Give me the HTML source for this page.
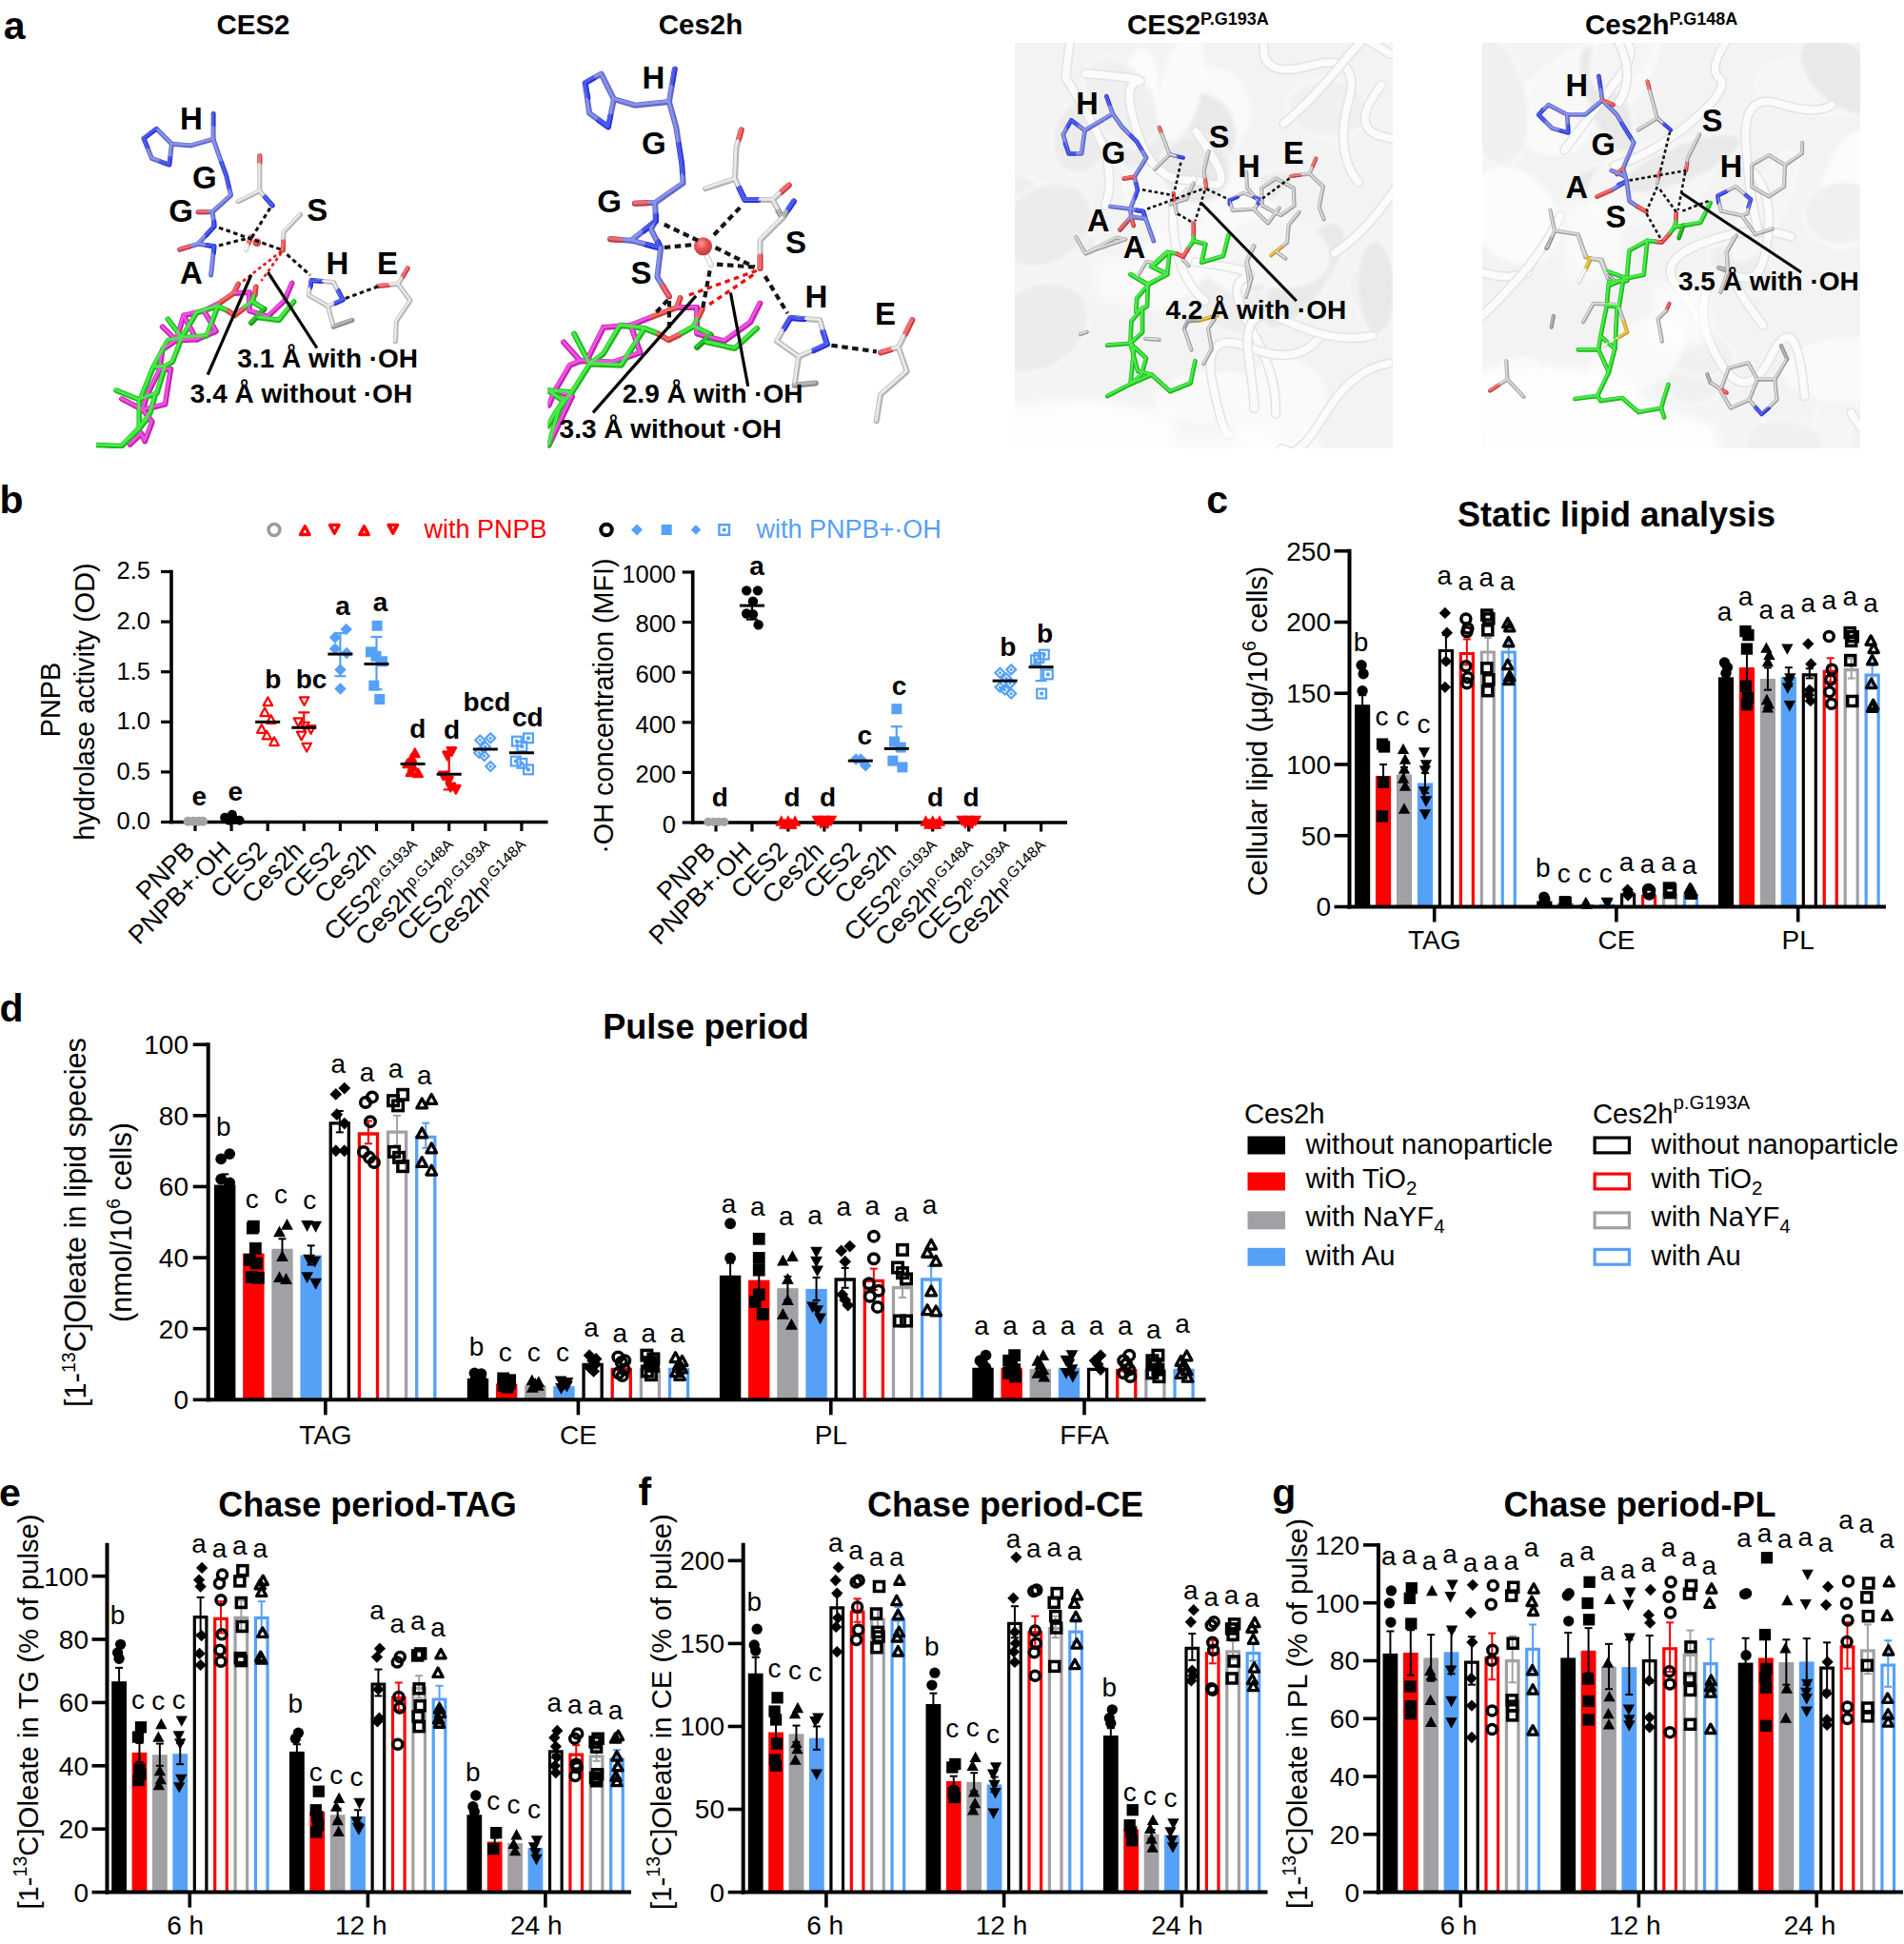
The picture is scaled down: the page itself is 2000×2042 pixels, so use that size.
<!DOCTYPE html>
<html lang="en"><head><meta charset="utf-8"><title>Figure</title>
<style>
html,body{margin:0;padding:0;background:#fff;}
body{width:2000px;height:2042px;overflow:hidden;}
svg{display:block;font-family:'Liberation Sans', Arial, sans-serif;}
</style></head><body>
<svg width="2000" height="2042" viewBox="0 0 2000 2042">
<rect x="0" y="0" width="2000" height="2042" fill="#ffffff"/>
<defs>
<radialGradient id="sph" cx="40%" cy="35%" r="65%"><stop offset="0" stop-color="#ff9a9a"/><stop offset="0.45" stop-color="#e85656"/><stop offset="1" stop-color="#c23a3a"/></radialGradient>
<filter id="soft" x="-20%" y="-20%" width="140%" height="140%"><feGaussianBlur stdDeviation="2.2"/></filter>
<filter id="soft2" x="-20%" y="-20%" width="140%" height="140%"><feGaussianBlur stdDeviation="7"/></filter>
</defs>
<text x="3.7" y="41" font-size="41" font-weight="bold" text-anchor="start" fill="#000000" >a</text>
<text x="266" y="36" font-size="29.5" font-weight="bold" text-anchor="middle" fill="#000000" >CES2</text>
<text x="736" y="36" font-size="29.5" font-weight="bold" text-anchor="middle" fill="#000000" >Ces2h</text>
<text x="1184" y="36" font-size="29.5" font-weight="bold" text-anchor="start" fill="#000000" >CES2<tspan font-size="18" dy="-10.3">P.G193A</tspan><tspan dy="10.3" font-size="1">&#8203;</tspan></text>
<text x="1665" y="36" font-size="29.5" font-weight="bold" text-anchor="start" fill="#000000" >Ces2h<tspan font-size="18" dy="-10.3">P.G148A</tspan><tspan dy="10.3" font-size="1">&#8203;</tspan></text>
<clipPath id="cs1"><rect x="101" y="40" width="420" height="431"/></clipPath>
<clipPath id="cs2"><rect x="575.5" y="40" width="440" height="431"/></clipPath>
<g fill="none" stroke-linecap="round" stroke-linejoin="round" clip-path="url(#cs1)">
<path d="M245.46 308.18 L261.98 307.21 L261.98 326.64 L281.41 332.47 L298.9 315.95 L306.67 297.49" stroke="#c024b1" stroke-width="5.7"/>
<path d="M192.99 331.5 L214.37 326.64 L227 348.01 L206.6 356.76 L192.99 331.5" stroke="#c024b1" stroke-width="5.7"/>
<path d="M170.65 343.16 L185.22 357.73 L170.65 367.45 L167.73 388.82" stroke="#c024b1" stroke-width="5.7"/>
<path d="M192.99 331.5 L185.22 357.73" stroke="#c024b1" stroke-width="5.7"/>
<path d="M206.6 356.76 L185.22 357.73" stroke="#c024b1" stroke-width="5.7"/>
<path d="M179.39 387.85 L173.56 424.77 L150.24 430.6 L127.89 418.94" stroke="#c024b1" stroke-width="5.7"/>
<path d="M167.73 388.82 L179.39 387.85" stroke="#c024b1" stroke-width="5.7"/>
<path d="M150.24 430.6 L159.96 443.23 L152.18 463.64 L148.3 454.89" stroke="#c024b1" stroke-width="5.7"/>
<path d="M136.64 466.94 L148.3 455.86" stroke="#c024b1" stroke-width="5.7"/>
<path d="M167.73 388.82 L154.13 416.03 L150.24 430.6" stroke="#c024b1" stroke-width="5.7"/>
<path d="M229.91 318.87 L214.37 326.64" stroke="#c024b1" stroke-width="5.7"/>
<path d="M245.46 308.18 L229.91 318.87" stroke="#d23a3a" stroke-width="5.7"/>
<path d="M245.46 308.18 L250.32 298.46" stroke="#d23a3a" stroke-width="5.7"/>
<path d="M101.66 467.52 L127.89 468.5 L146.35 451.01 L146.35 419.91 L122.06 410.2" stroke="#1fb71f" stroke-width="5.7"/>
<path d="M146.35 419.91 L164.82 413.11 L173.56 384.94 L160.93 385.91 L147.33 419.91" stroke="#1fb71f" stroke-width="5.7"/>
<path d="M173.56 384.94 L181.33 380.08 L191.05 354.82" stroke="#1fb71f" stroke-width="5.7"/>
<path d="M160.93 385.91 L176.47 357.73 L191.05 354.82" stroke="#1fb71f" stroke-width="5.7"/>
<path d="M191.05 354.82 L217.28 352.87 L228.94 321.78 L206.6 328.58 L191.05 354.82" stroke="#1fb71f" stroke-width="5.7"/>
<path d="M191.05 354.82 L176.47 335.38" stroke="#1fb71f" stroke-width="5.7"/>
<path d="M228.94 321.78 L239.63 326.64" stroke="#1fb71f" stroke-width="5.7"/>
<path d="M255.18 324.69 L264.89 316.92" stroke="#1fb71f" stroke-width="5.7"/>
<path d="M264.89 316.92 L277.52 324.69" stroke="#1fb71f" stroke-width="5.7"/>
<path d="M270.72 333.44 L293.07 336.35 L308.62 316.92" stroke="#1fb71f" stroke-width="5.7"/>
<path d="M146.35 451.01 L158.01 433.52 L162.87 416.03" stroke="#1fb71f" stroke-width="5.7"/>
<path d="M127.89 468.5 L154.13 441.29" stroke="#1fb71f" stroke-width="5.7"/>
<path d="M277.52 324.69 L263.92 339.27" stroke="#189a18" stroke-width="5.7"/>
<path d="M239.63 326.64 L246.43 331.5 L255.18 324.69" stroke="#d23a3a" stroke-width="5.7"/>
<path d="M264.89 316.92 L267.81 309.15" stroke="#1fb71f" stroke-width="5.7"/>
<path d="M267.81 309.15 L268.78 301.38" stroke="#d23a3a" stroke-width="5.7"/>
<path d="M327.08 294.57 L350.4 296.52 L360.11 314.98 L344.57 321.78 L324.16 310.12 L327.08 294.57" stroke="#b4b4b4" stroke-width="5"/>
<path d="M344.57 321.78 L350.4 343.16" stroke="#b4b4b4" stroke-width="5"/>
<path d="M350.4 343.16 L369.83 336.35" stroke="#8a8a8a" stroke-width="5"/>
<path d="M326.11 301.38 L327.08 294.57 L337.77 295.55" stroke="#2530d6" stroke-width="5"/>
<path d="M355.25 305.26 L360.11 314.98 L352.34 318.48" stroke="#2530d6" stroke-width="5"/>
<path d="M428.13 281.94 L418.41 298.46 L431.04 315.95 L416.47 337.33 L415.5 358.7" stroke="#b4b4b4" stroke-width="5"/>
<path d="M418.41 298.46 L397.03 300.4" stroke="#b4b4b4" stroke-width="5"/>
<path d="M407.72 299.43 L397.03 300.4" stroke="#d23a3a" stroke-width="5"/>
<path d="M423.27 290.2 L428.13 281.94" stroke="#d23a3a" stroke-width="5"/>
<path d="M151.01 145.38 L164.45 135.29 L180.42 151.26 L177.9 173.11 L159.41 166.39 L151.01 145.38" stroke="#5f69c9" stroke-width="5"/>
<path d="M164.45 135.29 L151.01 145.38 L155.21 155.46" stroke="#2530d6" stroke-width="4.5"/>
<path d="M178.74 165.55 L177.9 173.11 L168.66 169.75" stroke="#2530d6" stroke-width="4.5"/>
<path d="M180.42 151.26 L200.59 152.94 L224.12 146.22 L230.84 165.55 L237.56 184.03 L242.61 205.04 L223.28 222.69 L224.96 237.82" stroke="#5f69c9" stroke-width="5"/>
<path d="M224.12 119.33 L224.12 146.22" stroke="#5f69c9" stroke-width="5"/>
<path d="M224.12 119.33 L224.12 131.93" stroke="#2530d6" stroke-width="4.25"/>
<path d="M232.52 170.59 L237.56 184.03 L240.92 198.32" stroke="#2530d6" stroke-width="4.25"/>
<path d="M223.28 222.69 L208.15 222.69" stroke="#5f69c9" stroke-width="5"/>
<path d="M217.23 222.69 L208.15 222.69" stroke="#d23a3a" stroke-width="5"/>
<path d="M224.96 237.82 L208.15 256.3 L224.96 258.82 L221.6 289.08" stroke="#5f69c9" stroke-width="5"/>
<path d="M224.96 232.77 L224.96 237.82 L216.55 247.06" stroke="#2530d6" stroke-width="5"/>
<path d="M217.39 257.65 L224.96 258.82 L224.45 265.55" stroke="#2530d6" stroke-width="5"/>
<path d="M208.15 256.3 L188.82 262.18" stroke="#5f69c9" stroke-width="5"/>
<path d="M199.45 258.95 L188.82 262.18" stroke="#d23a3a" stroke-width="5"/>
<path d="M272.86 163.87 L272.86 200.84 L250.17 211.76" stroke="#b4b4b4" stroke-width="5"/>
<path d="M272.86 170.59 L272.86 163.87" stroke="#d23a3a" stroke-width="5"/>
<path d="M272.86 200.84 L286.3 215.97" stroke="#b4b4b4" stroke-width="5"/>
<path d="M278.24 206.89 L286.3 215.97" stroke="#2530d6" stroke-width="5"/>
<path d="M315.71 225.21 L298.07 243.7 L297.23 263.03" stroke="#b4b4b4" stroke-width="5"/>
<path d="M297.65 253.36 L297.23 263.03" stroke="#d23a3a" stroke-width="5"/>
<path d="M263.61 248.74 L258.57 263.03" stroke="#d9d9d9" stroke-width="5"/>
<path d="M261.34 255.17 L263.61 248.74" stroke="#d23a3a" stroke-width="5"/>
<path d="M244.89 307.49 L261.41 306.52 L261.41 325.95 L280.84 331.78 L298.33 315.27 L306.1 296.81" stroke="#f052e0" stroke-width="2.85"/>
<path d="M192.42 330.81 L213.8 325.95 L226.43 347.33 L206.03 356.07 L192.42 330.81" stroke="#f052e0" stroke-width="2.85"/>
<path d="M170.08 342.47 L184.65 357.05 L170.08 366.76 L167.16 388.14" stroke="#f052e0" stroke-width="2.85"/>
<path d="M192.42 330.81 L184.65 357.05" stroke="#f052e0" stroke-width="2.85"/>
<path d="M206.03 356.07 L184.65 357.05" stroke="#f052e0" stroke-width="2.85"/>
<path d="M178.82 387.17 L172.99 424.09 L149.67 429.92 L127.32 418.26" stroke="#f052e0" stroke-width="2.85"/>
<path d="M167.16 388.14 L178.82 387.17" stroke="#f052e0" stroke-width="2.85"/>
<path d="M149.67 429.92 L159.39 442.55 L151.61 462.95 L147.73 454.21" stroke="#f052e0" stroke-width="2.85"/>
<path d="M136.07 466.26 L147.73 455.18" stroke="#f052e0" stroke-width="2.85"/>
<path d="M167.16 388.14 L153.56 415.34 L149.67 429.92" stroke="#f052e0" stroke-width="2.85"/>
<path d="M229.34 318.18 L213.8 325.95" stroke="#f052e0" stroke-width="2.85"/>
<path d="M244.89 307.49 L229.34 318.18" stroke="#f06c6c" stroke-width="2.85"/>
<path d="M244.89 307.49 L249.75 297.78" stroke="#f06c6c" stroke-width="2.85"/>
<path d="M101.09 466.84 L127.32 467.81 L145.78 450.32 L145.78 419.23 L121.49 409.51" stroke="#48ec48" stroke-width="2.85"/>
<path d="M145.78 419.23 L164.25 412.43 L172.99 384.25 L160.36 385.22 L146.76 419.23" stroke="#48ec48" stroke-width="2.85"/>
<path d="M172.99 384.25 L180.76 379.39 L190.48 354.13" stroke="#48ec48" stroke-width="2.85"/>
<path d="M160.36 385.22 L175.9 357.05 L190.48 354.13" stroke="#48ec48" stroke-width="2.85"/>
<path d="M190.48 354.13 L216.71 352.19 L228.37 321.1 L206.03 327.9 L190.48 354.13" stroke="#48ec48" stroke-width="2.85"/>
<path d="M190.48 354.13 L175.9 334.7" stroke="#48ec48" stroke-width="2.85"/>
<path d="M228.37 321.1 L239.06 325.95" stroke="#48ec48" stroke-width="2.85"/>
<path d="M254.61 324.01 L264.32 316.24" stroke="#48ec48" stroke-width="2.85"/>
<path d="M264.32 316.24 L276.95 324.01" stroke="#48ec48" stroke-width="2.85"/>
<path d="M270.15 332.76 L292.5 335.67 L308.05 316.24" stroke="#48ec48" stroke-width="2.85"/>
<path d="M145.78 450.32 L157.44 432.83 L162.3 415.34" stroke="#48ec48" stroke-width="2.85"/>
<path d="M127.32 467.81 L153.56 440.61" stroke="#48ec48" stroke-width="2.85"/>
<path d="M276.95 324.01 L263.35 338.59" stroke="#2fc42f" stroke-width="2.85"/>
<path d="M239.06 325.95 L245.86 330.81 L254.61 324.01" stroke="#f06c6c" stroke-width="2.85"/>
<path d="M264.32 316.24 L267.24 308.46" stroke="#48ec48" stroke-width="2.85"/>
<path d="M267.24 308.46 L268.21 300.69" stroke="#f06c6c" stroke-width="2.85"/>
<path d="M326.58 293.97 L349.9 295.92 L359.61 314.38 L344.07 321.18 L323.66 309.52 L326.58 293.97" stroke="#e9e9e9" stroke-width="2.5"/>
<path d="M344.07 321.18 L349.9 342.56" stroke="#e9e9e9" stroke-width="2.5"/>
<path d="M349.9 342.56 L369.33 335.75" stroke="#b5b5b5" stroke-width="2.5"/>
<path d="M325.61 300.78 L326.58 293.97 L337.27 294.95" stroke="#4755f2" stroke-width="2.5"/>
<path d="M354.75 304.66 L359.61 314.38 L351.84 317.88" stroke="#4755f2" stroke-width="2.5"/>
<path d="M427.63 281.34 L417.91 297.86 L430.54 315.35 L415.97 336.73 L415 358.1" stroke="#e9e9e9" stroke-width="2.5"/>
<path d="M417.91 297.86 L396.53 299.8" stroke="#e9e9e9" stroke-width="2.5"/>
<path d="M407.22 298.83 L396.53 299.8" stroke="#f06c6c" stroke-width="2.5"/>
<path d="M422.77 289.6 L427.63 281.34" stroke="#f06c6c" stroke-width="2.5"/>
<path d="M150.51 144.78 L163.95 134.69 L179.92 150.66 L177.4 172.51 L158.91 165.79 L150.51 144.78" stroke="#8a93ea" stroke-width="2.5"/>
<path d="M164 134.75 L150.56 144.84 L154.76 154.92" stroke="#4755f2" stroke-width="2.25"/>
<path d="M178.29 165.01 L177.45 172.57 L168.21 169.21" stroke="#4755f2" stroke-width="2.25"/>
<path d="M179.92 150.66 L200.09 152.34 L223.62 145.62 L230.34 164.95 L237.06 183.43 L242.11 204.44 L222.78 222.09 L224.46 237.22" stroke="#8a93ea" stroke-width="2.5"/>
<path d="M223.62 118.73 L223.62 145.62" stroke="#8a93ea" stroke-width="2.5"/>
<path d="M223.69 118.82 L223.69 131.42" stroke="#4755f2" stroke-width="2.12"/>
<path d="M232.1 170.08 L237.14 183.52 L240.5 197.81" stroke="#4755f2" stroke-width="2.12"/>
<path d="M222.78 222.09 L207.65 222.09" stroke="#8a93ea" stroke-width="2.5"/>
<path d="M216.73 222.09 L207.65 222.09" stroke="#f06c6c" stroke-width="2.5"/>
<path d="M224.46 237.22 L207.65 255.7 L224.46 258.22 L221.1 288.48" stroke="#8a93ea" stroke-width="2.5"/>
<path d="M224.46 232.17 L224.46 237.22 L216.05 246.46" stroke="#4755f2" stroke-width="2.5"/>
<path d="M216.89 257.05 L224.46 258.22 L223.95 264.95" stroke="#4755f2" stroke-width="2.5"/>
<path d="M207.65 255.7 L188.32 261.58" stroke="#8a93ea" stroke-width="2.5"/>
<path d="M198.95 258.35 L188.32 261.58" stroke="#f06c6c" stroke-width="2.5"/>
<path d="M272.36 163.27 L272.36 200.24 L249.67 211.16" stroke="#e9e9e9" stroke-width="2.5"/>
<path d="M272.36 169.99 L272.36 163.27" stroke="#f06c6c" stroke-width="2.5"/>
<path d="M272.36 200.24 L285.8 215.37" stroke="#e9e9e9" stroke-width="2.5"/>
<path d="M277.74 206.29 L285.8 215.37" stroke="#4755f2" stroke-width="2.5"/>
<path d="M315.21 224.61 L297.57 243.1 L296.73 262.43" stroke="#e9e9e9" stroke-width="2.5"/>
<path d="M297.15 252.76 L296.73 262.43" stroke="#f06c6c" stroke-width="2.5"/>
<path d="M263.11 248.14 L258.07 262.43" stroke="#fafafa" stroke-width="2.5"/>
<path d="M260.84 254.57 L263.11 248.14" stroke="#f06c6c" stroke-width="2.5"/>
</g>
<circle cx="269.83" cy="254.62" r="4.4" fill="url(#sph)"/>
<line x1="230" y1="239.16" x2="295.55" y2="262.18" stroke="#111" stroke-width="3.1" stroke-dasharray="4.6 3.4" stroke-linecap="butt"/>
<line x1="230" y1="257.98" x2="262.77" y2="249.58" stroke="#111" stroke-width="3.1" stroke-dasharray="4.6 3.4" stroke-linecap="butt"/>
<line x1="283.78" y1="218.49" x2="264.45" y2="249.58" stroke="#111" stroke-width="3.1" stroke-dasharray="4.6 3.4" stroke-linecap="butt"/>
<line x1="301.43" y1="267.23" x2="325.8" y2="289.08" stroke="#111" stroke-width="3.1" stroke-dasharray="4.6 3.4" stroke-linecap="butt"/>
<line x1="362.77" y1="313.45" x2="397.23" y2="300.84" stroke="#111" stroke-width="3.1" stroke-dasharray="4.6 3.4" stroke-linecap="butt"/>
<line x1="295.55" y1="263.87" x2="253.53" y2="296.64" stroke="#ee1111" stroke-width="2.6" stroke-dasharray="3.6 3.2" stroke-linecap="butt"/>
<line x1="295.55" y1="265.55" x2="274.54" y2="294.96" stroke="#ee1111" stroke-width="2.6" stroke-dasharray="3.6 3.2" stroke-linecap="butt"/>
<line x1="263.92" y1="288.74" x2="218.25" y2="393.68" stroke="#000000" stroke-width="3.2" stroke-linecap="butt" />
<line x1="281.41" y1="285.83" x2="332.91" y2="365.5" stroke="#000000" stroke-width="3.2" stroke-linecap="butt" />
<text x="200.92" y="136.13" font-size="33" font-weight="bold" text-anchor="middle" fill="#000000" >H</text>
<text x="214.87" y="198.32" font-size="33" font-weight="bold" text-anchor="middle" fill="#000000" >G</text>
<text x="190.17" y="232.77" font-size="33" font-weight="bold" text-anchor="middle" fill="#000000" >G</text>
<text x="200.92" y="298.32" font-size="33" font-weight="bold" text-anchor="middle" fill="#000000" >A</text>
<text x="333.36" y="231.93" font-size="33" font-weight="bold" text-anchor="middle" fill="#000000" >S</text>
<text x="354.37" y="288.24" font-size="33" font-weight="bold" text-anchor="middle" fill="#000000" >H</text>
<text x="406.97" y="288.24" font-size="33" font-weight="bold" text-anchor="middle" fill="#000000" >E</text>
<text x="249.3" y="386" font-size="28" font-weight="bold" text-anchor="start" fill="#000000" >3.1 &#197; with &#183;OH</text>
<text x="199.8" y="422.8" font-size="28" font-weight="bold" text-anchor="start" fill="#000000" >3.4 &#197; without &#183;OH</text>
<g fill="none" stroke-linecap="round" stroke-linejoin="round" clip-path="url(#cs2)">
<path d="M592.06 359.42 L609.71 379.27" stroke="#c024b1" stroke-width="6"/>
<path d="M633.98 343.98 L662.65 341.77 L672.58 370.45 L645.01 380.38 L609.71 379.27" stroke="#c024b1" stroke-width="6"/>
<path d="M633.98 343.98 L617.43 377.07" stroke="#c024b1" stroke-width="6"/>
<path d="M662.65 341.77 L684.71 332.95" stroke="#c024b1" stroke-width="6"/>
<path d="M711.19 323.02 L732.14 323.02 L732.14 350.59 L760.82 358.31 L788.4 338.46 L798.33 318.61" stroke="#c024b1" stroke-width="6"/>
<path d="M609.71 379.27 L598.68 383.68 L583.24 410.16 L576.62 425.6" stroke="#c024b1" stroke-width="6"/>
<path d="M600.88 416.77 L576.62 467.51" stroke="#c024b1" stroke-width="6"/>
<path d="M583.24 410.16 L600.88 416.77" stroke="#c024b1" stroke-width="6"/>
<path d="M684.71 332.95 L711.19 323.02" stroke="#d23a3a" stroke-width="6"/>
<path d="M711.19 323.02 L714.5 313.09" stroke="#d23a3a" stroke-width="6"/>
<path d="M575.52 410.16 L600.88 412.36 L619.64 382.58 L603.09 350.59" stroke="#1fb71f" stroke-width="6"/>
<path d="M619.64 382.58 L652.73 383.68 L676.99 345.08 L651.62 341.77 L633.98 371.55 L619.64 382.58" stroke="#1fb71f" stroke-width="6"/>
<path d="M676.99 345.08 L691.33 350.59" stroke="#1fb71f" stroke-width="6"/>
<path d="M713.39 351.7 L728.84 342.87 L746.48 351.7" stroke="#1fb71f" stroke-width="6"/>
<path d="M742.07 359.42 L771.85 366.04 L795.02 345.08" stroke="#1fb71f" stroke-width="6"/>
<path d="M575.52 410.16 L592.06 421.19 L583.24 434.42 L575.52 447.66" stroke="#1fb71f" stroke-width="6"/>
<path d="M600.88 412.36 L587.65 430.01 L576.62 467.51" stroke="#1fb71f" stroke-width="6"/>
<path d="M746.48 351.7 L732.14 364.93" stroke="#189a18" stroke-width="6"/>
<path d="M691.33 350.59 L702.36 357.21 L713.39 351.7" stroke="#d23a3a" stroke-width="6"/>
<path d="M728.84 342.87 L733.69 332.95" stroke="#1fb71f" stroke-width="6"/>
<path d="M733.69 332.95 L737.66 325.22" stroke="#d23a3a" stroke-width="6"/>
<path d="M830.31 334.05 L861.2 336.25 L868.92 361.62 L839.14 374.86 L815.97 358.31 L830.31 334.05" stroke="#b4b4b4" stroke-width="6"/>
<path d="M823.7 345.08 L830.31 334.05 L844.65 335.15" stroke="#2530d6" stroke-width="6"/>
<path d="M864.51 348.39 L868.92 361.62 L854.58 368.24" stroke="#2530d6" stroke-width="6"/>
<path d="M839.14 374.86 L834.73 404.64" stroke="#b4b4b4" stroke-width="6"/>
<path d="M834.73 404.64 L856.79 402.44" stroke="#8a8a8a" stroke-width="6"/>
<path d="M958.26 336.25 L943.92 364.93 L952.75 390.3 L925.17 414.57 L920.76 442.14" stroke="#b4b4b4" stroke-width="6"/>
<path d="M943.92 364.93 L925.17 370.45" stroke="#b4b4b4" stroke-width="6"/>
<path d="M935.49 367.41 L925.17 370.45" stroke="#d23a3a" stroke-width="6"/>
<path d="M951.09 350.59 L958.26 336.25" stroke="#d23a3a" stroke-width="6"/>
<path d="M614.71 87.21 L631.62 77.65 L644.85 104.12 L638.97 133.53 L619.12 118.82 L614.71 87.21" stroke="#5f69c9" stroke-width="6"/>
<path d="M623.53 82.06 L614.71 87.21 L617.65 102.65" stroke="#2530d6" stroke-width="5.4"/>
<path d="M641.18 121.76 L638.97 133.53 L628.68 126.18" stroke="#2530d6" stroke-width="5.4"/>
<path d="M644.85 104.12 L666.91 110.74 L702.94 107.06 L710.29 133.53 L716.18 171.76 L717.65 192.35 L688.24 212.94 L688.97 232.06" stroke="#5f69c9" stroke-width="6"/>
<path d="M708.82 72.5 L702.94 107.06" stroke="#5f69c9" stroke-width="6"/>
<path d="M708.82 72.5 L706.18 88.68" stroke="#2530d6" stroke-width="5.1"/>
<path d="M712.94 151.18 L716.18 171.76 L716.91 182.06" stroke="#2530d6" stroke-width="5.1"/>
<path d="M688.24 212.94 L666.91 213.68" stroke="#5f69c9" stroke-width="6"/>
<path d="M679.71 213.24 L666.91 213.68" stroke="#d23a3a" stroke-width="6"/>
<path d="M688.97 232.06 L663.24 252.65 L694.12 260.74 L683.82 240.88 L688.97 232.06" stroke="#5f69c9" stroke-width="6"/>
<path d="M688.97 226.18 L688.97 232.06 L676.47 242.35" stroke="#2530d6" stroke-width="6"/>
<path d="M679.41 257.06 L694.12 260.74 L691.18 254.12" stroke="#2530d6" stroke-width="6"/>
<path d="M663.24 252.65 L641.18 251.18" stroke="#5f69c9" stroke-width="6"/>
<path d="M652.21 251.91 L641.18 251.18" stroke="#d23a3a" stroke-width="6"/>
<path d="M694.12 260.74 L690.44 290.88 L702.94 311.47" stroke="#5f69c9" stroke-width="6"/>
<path d="M696.07 300.15 L702.94 311.47" stroke="#d23a3a" stroke-width="6"/>
<path d="M778.68 136.47 L773.53 155.59 L772.06 187.94 L741.18 198.24" stroke="#b4b4b4" stroke-width="6"/>
<path d="M776.1 146.03 L778.68 136.47" stroke="#d23a3a" stroke-width="6"/>
<path d="M772.06 187.94 L782.35 210 L811.76 210 L828.68 194.56" stroke="#b4b4b4" stroke-width="6"/>
<path d="M776.47 197.5 L782.35 210 L796.32 210" stroke="#2530d6" stroke-width="6"/>
<path d="M821.07 201.51 L828.68 194.56" stroke="#d23a3a" stroke-width="6"/>
<path d="M811.76 210 L822.06 229.12 L833.82 211.47" stroke="#b4b4b4" stroke-width="6"/>
<path d="M817.65 221.76 L822.06 229.12 L826.47 222.5" stroke="#8a8a8a" stroke-width="6"/>
<path d="M827.94 220.29 L833.82 211.47" stroke="#2530d6" stroke-width="6"/>
<path d="M822.06 229.12 L798.53 252.65 L798.53 282.06" stroke="#b4b4b4" stroke-width="6"/>
<path d="M798.53 268.82 L798.53 282.06" stroke="#d23a3a" stroke-width="6"/>
<path d="M741.18 265.88 L747.06 278.38" stroke="#d9d9d9" stroke-width="6"/>
<path d="M591.46 358.7 L609.11 378.55" stroke="#f052e0" stroke-width="3"/>
<path d="M633.38 343.26 L662.05 341.05 L671.98 369.73 L644.41 379.66 L609.11 378.55" stroke="#f052e0" stroke-width="3"/>
<path d="M633.38 343.26 L616.83 376.35" stroke="#f052e0" stroke-width="3"/>
<path d="M662.05 341.05 L684.11 332.23" stroke="#f052e0" stroke-width="3"/>
<path d="M710.59 322.3 L731.54 322.3 L731.54 349.87 L760.22 357.59 L787.8 337.74 L797.73 317.89" stroke="#f052e0" stroke-width="3"/>
<path d="M609.11 378.55 L598.08 382.96 L582.64 409.44 L576.02 424.88" stroke="#f052e0" stroke-width="3"/>
<path d="M600.28 416.05 L576.02 466.79" stroke="#f052e0" stroke-width="3"/>
<path d="M582.64 409.44 L600.28 416.05" stroke="#f052e0" stroke-width="3"/>
<path d="M684.11 332.23 L710.59 322.3" stroke="#f06c6c" stroke-width="3"/>
<path d="M710.59 322.3 L713.9 312.37" stroke="#f06c6c" stroke-width="3"/>
<path d="M574.92 409.44 L600.28 411.64 L619.04 381.86 L602.49 349.87" stroke="#48ec48" stroke-width="3"/>
<path d="M619.04 381.86 L652.13 382.96 L676.39 344.36 L651.02 341.05 L633.38 370.83 L619.04 381.86" stroke="#48ec48" stroke-width="3"/>
<path d="M676.39 344.36 L690.73 349.87" stroke="#48ec48" stroke-width="3"/>
<path d="M712.79 350.98 L728.24 342.15 L745.88 350.98" stroke="#48ec48" stroke-width="3"/>
<path d="M741.47 358.7 L771.25 365.32 L794.42 344.36" stroke="#48ec48" stroke-width="3"/>
<path d="M574.92 409.44 L591.46 420.47 L582.64 433.7 L574.92 446.94" stroke="#48ec48" stroke-width="3"/>
<path d="M600.28 411.64 L587.05 429.29 L576.02 466.79" stroke="#48ec48" stroke-width="3"/>
<path d="M745.88 350.98 L731.54 364.21" stroke="#2fc42f" stroke-width="3"/>
<path d="M690.73 349.87 L701.76 356.49 L712.79 350.98" stroke="#f06c6c" stroke-width="3"/>
<path d="M728.24 342.15 L733.09 332.23" stroke="#48ec48" stroke-width="3"/>
<path d="M733.09 332.23 L737.06 324.5" stroke="#f06c6c" stroke-width="3"/>
<path d="M829.71 333.33 L860.6 335.53 L868.32 360.9 L838.54 374.14 L815.37 357.59 L829.71 333.33" stroke="#e9e9e9" stroke-width="3"/>
<path d="M823.1 344.36 L829.71 333.33 L844.05 334.43" stroke="#4755f2" stroke-width="3"/>
<path d="M863.91 347.67 L868.32 360.9 L853.98 367.52" stroke="#4755f2" stroke-width="3"/>
<path d="M838.54 374.14 L834.13 403.92" stroke="#e9e9e9" stroke-width="3"/>
<path d="M834.13 403.92 L856.19 401.72" stroke="#b5b5b5" stroke-width="3"/>
<path d="M957.66 335.53 L943.32 364.21 L952.15 389.58 L924.57 413.85 L920.16 441.42" stroke="#e9e9e9" stroke-width="3"/>
<path d="M943.32 364.21 L924.57 369.73" stroke="#e9e9e9" stroke-width="3"/>
<path d="M934.89 366.69 L924.57 369.73" stroke="#f06c6c" stroke-width="3"/>
<path d="M950.49 349.87 L957.66 335.53" stroke="#f06c6c" stroke-width="3"/>
<path d="M614.11 86.49 L631.02 76.93 L644.25 103.4 L638.37 132.81 L618.52 118.1 L614.11 86.49" stroke="#8a93ea" stroke-width="3"/>
<path d="M622.99 81.41 L614.17 86.56 L617.11 102" stroke="#4755f2" stroke-width="2.7"/>
<path d="M640.64 121.12 L638.43 132.88 L628.14 125.53" stroke="#4755f2" stroke-width="2.7"/>
<path d="M644.25 103.4 L666.31 110.02 L702.34 106.34 L709.69 132.81 L715.58 171.04 L717.05 191.63 L687.64 212.22 L688.37 231.34" stroke="#8a93ea" stroke-width="3"/>
<path d="M708.22 71.78 L702.34 106.34" stroke="#8a93ea" stroke-width="3"/>
<path d="M708.31 71.89 L705.67 88.06" stroke="#4755f2" stroke-width="2.55"/>
<path d="M712.43 150.56 L715.67 171.15 L716.4 181.45" stroke="#4755f2" stroke-width="2.55"/>
<path d="M687.64 212.22 L666.31 212.96" stroke="#8a93ea" stroke-width="3"/>
<path d="M679.11 212.52 L666.31 212.96" stroke="#f06c6c" stroke-width="3"/>
<path d="M688.37 231.34 L662.64 251.93 L693.52 260.02 L683.22 240.16 L688.37 231.34" stroke="#8a93ea" stroke-width="3"/>
<path d="M688.37 225.46 L688.37 231.34 L675.87 241.63" stroke="#4755f2" stroke-width="3"/>
<path d="M678.81 256.34 L693.52 260.02 L690.58 253.4" stroke="#4755f2" stroke-width="3"/>
<path d="M662.64 251.93 L640.58 250.46" stroke="#8a93ea" stroke-width="3"/>
<path d="M651.61 251.19 L640.58 250.46" stroke="#f06c6c" stroke-width="3"/>
<path d="M693.52 260.02 L689.84 290.16 L702.34 310.75" stroke="#8a93ea" stroke-width="3"/>
<path d="M695.47 299.43 L702.34 310.75" stroke="#f06c6c" stroke-width="3"/>
<path d="M778.08 135.75 L772.93 154.87 L771.46 187.22 L740.58 197.52" stroke="#e9e9e9" stroke-width="3"/>
<path d="M775.5 145.31 L778.08 135.75" stroke="#f06c6c" stroke-width="3"/>
<path d="M771.46 187.22 L781.75 209.28 L811.16 209.28 L828.08 193.84" stroke="#e9e9e9" stroke-width="3"/>
<path d="M775.87 196.78 L781.75 209.28 L795.72 209.28" stroke="#4755f2" stroke-width="3"/>
<path d="M820.47 200.79 L828.08 193.84" stroke="#f06c6c" stroke-width="3"/>
<path d="M811.16 209.28 L821.46 228.4 L833.22 210.75" stroke="#e9e9e9" stroke-width="3"/>
<path d="M817.05 221.04 L821.46 228.4 L825.87 221.78" stroke="#b5b5b5" stroke-width="3"/>
<path d="M827.34 219.57 L833.22 210.75" stroke="#4755f2" stroke-width="3"/>
<path d="M821.46 228.4 L797.93 251.93 L797.93 281.34" stroke="#e9e9e9" stroke-width="3"/>
<path d="M797.93 268.1 L797.93 281.34" stroke="#f06c6c" stroke-width="3"/>
<path d="M740.58 265.16 L746.46 277.66" stroke="#fafafa" stroke-width="3"/>
</g>
<circle cx="738.53" cy="258.82" r="9.5" fill="url(#sph)"/>
<line x1="697.79" y1="235.74" x2="733.09" y2="252.65" stroke="#151515" stroke-width="4.2" stroke-dasharray="6.5 4.5" stroke-linecap="butt"/>
<line x1="697.79" y1="260" x2="727.94" y2="257.06" stroke="#151515" stroke-width="4.2" stroke-dasharray="6.5 4.5" stroke-linecap="butt"/>
<line x1="777.21" y1="218.09" x2="747.06" y2="249.71" stroke="#151515" stroke-width="4.2" stroke-dasharray="6.5 4.5" stroke-linecap="butt"/>
<line x1="751.47" y1="260" x2="792.65" y2="280.59" stroke="#151515" stroke-width="4.2" stroke-dasharray="6.5 4.5" stroke-linecap="butt"/>
<line x1="752.94" y1="277.65" x2="792.65" y2="280.59" stroke="#151515" stroke-width="4.2" stroke-dasharray="6.5 4.5" stroke-linecap="butt"/>
<line x1="745.59" y1="284.26" x2="738.24" y2="323.24" stroke="#151515" stroke-width="4.2" stroke-dasharray="6.5 4.5" stroke-linecap="butt"/>
<line x1="803.68" y1="290.15" x2="827.21" y2="329.12" stroke="#151515" stroke-width="4.2" stroke-dasharray="6.5 4.5" stroke-linecap="butt"/>
<line x1="701.47" y1="315.15" x2="688.24" y2="329.12" stroke="#151515" stroke-width="4.2" stroke-dasharray="6.5 4.5" stroke-linecap="butt"/>
<line x1="702.94" y1="315.88" x2="702.94" y2="348.24" stroke="#151515" stroke-width="4.2" stroke-dasharray="6.5 4.5" stroke-linecap="butt"/>
<line x1="873.33" y1="362.73" x2="920.76" y2="369.34" stroke="#151515" stroke-width="4.2" stroke-dasharray="6.5 4.5" stroke-linecap="butt"/>
<line x1="794.85" y1="284.26" x2="723.53" y2="310" stroke="#ee1111" stroke-width="3.4" stroke-dasharray="5.5 4.5" stroke-linecap="butt"/>
<line x1="791.18" y1="288.68" x2="741.18" y2="322.5" stroke="#ee1111" stroke-width="3.4" stroke-dasharray="5.5 4.5" stroke-linecap="butt"/>
<line x1="731.04" y1="310.88" x2="622.95" y2="433.32" stroke="#000000" stroke-width="3.2" stroke-linecap="butt" />
<line x1="767.44" y1="307.58" x2="785.75" y2="405.74" stroke="#000000" stroke-width="3.2" stroke-linecap="butt" />
<text x="686.47" y="93.09" font-size="33" font-weight="bold" text-anchor="middle" fill="#000000" >H</text>
<text x="686.76" y="162.21" font-size="33" font-weight="bold" text-anchor="middle" fill="#000000" >G</text>
<text x="640" y="223.24" font-size="33" font-weight="bold" text-anchor="middle" fill="#000000" >G</text>
<text x="673.53" y="298.24" font-size="33" font-weight="bold" text-anchor="middle" fill="#000000" >S</text>
<text x="836.03" y="265.88" font-size="33" font-weight="bold" text-anchor="middle" fill="#000000" >S</text>
<text x="857.35" y="322.5" font-size="33" font-weight="bold" text-anchor="middle" fill="#000000" >H</text>
<text x="930.03" y="340.67" font-size="33" font-weight="bold" text-anchor="middle" fill="#000000" >E</text>
<text x="653.8" y="422.5" font-size="28" font-weight="bold" text-anchor="start" fill="#000000" >2.9 &#197; with &#183;OH</text>
<text x="587.6" y="460" font-size="28" font-weight="bold" text-anchor="start" fill="#000000" >3.3 &#197; without &#183;OH</text>
<clipPath id="cl3"><rect x="1066" y="45" width="397" height="426"/></clipPath>
<g clip-path="url(#cl3)">
<rect x="1066" y="45" width="397" height="426" fill="#f3f3f3" stroke="none" stroke-width="0"/>
<ellipse cx="1194.56" cy="109.26" rx="57.34" ry="19.88" fill="#fcfcfc" stroke="#fcfcfc" stroke-width="2.5" transform="rotate(96.46 1194.56 109.26)" filter="url(#soft)"/>
<ellipse cx="1297.37" cy="432.53" rx="39.02" ry="20.23" fill="#f8f8f8" stroke="#fcfcfc" stroke-width="2.5" transform="rotate(75.27 1297.37 432.53)" filter="url(#soft)"/>
<ellipse cx="1102.01" cy="225.85" rx="64.73" ry="21.22" fill="#eeeeee" stroke="#fcfcfc" stroke-width="2.5" transform="rotate(40.18 1102.01 225.85)" filter="url(#soft)"/>
<ellipse cx="1295.11" cy="213.99" rx="71" ry="19.21" fill="#ececec" stroke="#fcfcfc" stroke-width="2.5" transform="rotate(154.52 1295.11 213.99)" filter="url(#soft)"/>
<ellipse cx="1232.4" cy="275.33" rx="53.98" ry="32.57" fill="#fafafa" stroke="#fcfcfc" stroke-width="2.5" transform="rotate(122.76 1232.4 275.33)" filter="url(#soft)"/>
<ellipse cx="1296.9" cy="317.18" rx="45.64" ry="32.24" fill="#eeeeee" stroke="#fcfcfc" stroke-width="2.5" transform="rotate(11.3 1296.9 317.18)" filter="url(#soft)"/>
<ellipse cx="1311.75" cy="256.47" rx="52.33" ry="38.21" fill="#e9e9e9" stroke="#fcfcfc" stroke-width="2.5" transform="rotate(83.81 1311.75 256.47)" filter="url(#soft)"/>
<ellipse cx="1209.55" cy="150.83" rx="37.55" ry="38.28" fill="#ececec" stroke="#fcfcfc" stroke-width="2.5" transform="rotate(14.73 1209.55 150.83)" filter="url(#soft)"/>
<ellipse cx="1274.5" cy="417.81" rx="60.64" ry="25.49" fill="#fafafa" stroke="#fcfcfc" stroke-width="2.5" transform="rotate(176.43 1274.5 417.81)" filter="url(#soft)"/>
<ellipse cx="1269.24" cy="115.27" rx="44.37" ry="42.27" fill="#fafafa" stroke="#fcfcfc" stroke-width="2.5" transform="rotate(75.91 1269.24 115.27)" filter="url(#soft)"/>
<ellipse cx="1369.53" cy="289.11" rx="66.77" ry="26.16" fill="#e9e9e9" stroke="#fcfcfc" stroke-width="2.5" transform="rotate(125.15 1369.53 289.11)" filter="url(#soft)"/>
<ellipse cx="1296.22" cy="239.34" rx="65.28" ry="42.56" fill="#fafafa" stroke="#fcfcfc" stroke-width="2.5" transform="rotate(85.34 1296.22 239.34)" filter="url(#soft)"/>
<ellipse cx="1090.09" cy="343.84" rx="57.18" ry="43.82" fill="#ececec" stroke="#fcfcfc" stroke-width="2.5" transform="rotate(147.95 1090.09 343.84)" filter="url(#soft)"/>
<ellipse cx="1350.5" cy="422.88" rx="44.57" ry="42.46" fill="#fafafa" stroke="#fcfcfc" stroke-width="2.5" transform="rotate(63.98 1350.5 422.88)" filter="url(#soft)"/>
<ellipse cx="1262" cy="137.96" rx="42.07" ry="37.2" fill="#e9e9e9" stroke="#fcfcfc" stroke-width="2.5" transform="rotate(71.62 1262 137.96)" filter="url(#soft)"/>
<ellipse cx="1097.99" cy="236.35" rx="53.08" ry="40.97" fill="#ececec" stroke="#fcfcfc" stroke-width="2.5" transform="rotate(147.47 1097.99 236.35)" filter="url(#soft)"/>
<ellipse cx="1346.44" cy="465.23" rx="58.67" ry="27.89" fill="#fafafa" stroke="#fcfcfc" stroke-width="2.5" transform="rotate(41.54 1346.44 465.23)" filter="url(#soft)"/>
<ellipse cx="1135.96" cy="143.81" rx="39.8" ry="30.61" fill="#ececec" stroke="#fcfcfc" stroke-width="2.5" transform="rotate(106.04 1135.96 143.81)" filter="url(#soft)"/>
<ellipse cx="1177.93" cy="107.06" rx="52.45" ry="33.86" fill="#f0f0f0" stroke="#fcfcfc" stroke-width="2.5" transform="rotate(57.35 1177.93 107.06)" filter="url(#soft)"/>
<ellipse cx="1340.13" cy="264.6" rx="55.94" ry="35.58" fill="#f5f5f5" stroke="#fcfcfc" stroke-width="2.5" transform="rotate(9.72 1340.13 264.6)" filter="url(#soft)"/>
<ellipse cx="1224.03" cy="212.9" rx="50.22" ry="28.41" fill="#f8f8f8" stroke="#fcfcfc" stroke-width="2.5" transform="rotate(34.31 1224.03 212.9)" filter="url(#soft)"/>
<ellipse cx="1240.93" cy="91.83" rx="55.23" ry="20.66" fill="#fafafa" stroke="#fcfcfc" stroke-width="2.5" transform="rotate(102.02 1240.93 91.83)" filter="url(#soft)"/>
<ellipse cx="1442.73" cy="306.45" rx="32.95" ry="23.41" fill="#ececec" stroke="#fcfcfc" stroke-width="2.5" transform="rotate(67.72 1442.73 306.45)" filter="url(#soft)"/>
<ellipse cx="1445.32" cy="301.57" rx="49.91" ry="21" fill="#e9e9e9" stroke="#fcfcfc" stroke-width="2.5" transform="rotate(87.85 1445.32 301.57)" filter="url(#soft)"/>
<ellipse cx="1256.72" cy="177.85" rx="36.05" ry="37.49" fill="#e9e9e9" stroke="#fcfcfc" stroke-width="2.5" transform="rotate(133.26 1256.72 177.85)" filter="url(#soft)"/>
<ellipse cx="1395.06" cy="113.77" rx="30.97" ry="42.73" fill="#f0f0f0" stroke="#fcfcfc" stroke-width="2.5" transform="rotate(95.09 1395.06 113.77)" filter="url(#soft)"/>
<path d="M1339.96 434.43 Q1341.91 394.47 1314.74 346.65 T 1308.35 292.02 T 1255.96 275.29" fill="none" stroke="#e3e3e3" stroke-width="10.5" stroke-linecap="round"/>
<path d="M1339.96 434.43 Q1341.91 394.47 1314.74 346.65 T 1308.35 292.02 T 1255.96 275.29" fill="none" stroke="#fbfbfb" stroke-width="7.5" stroke-linecap="round"/>
<path d="M1401.64 265.84 Q1435.12 243.94 1465.6 198.16 T 1455.28 144.14 T 1451.3 89.28" fill="none" stroke="#e3e3e3" stroke-width="10.5" stroke-linecap="round"/>
<path d="M1401.64 265.84 Q1435.12 243.94 1465.6 198.16 T 1455.28 144.14 T 1451.3 89.28" fill="none" stroke="#fbfbfb" stroke-width="7.5" stroke-linecap="round"/>
<path d="M1265.57 316.12 Q1235.22 290.07 1232.27 235.15 T 1266.4 192.02 T 1256.33 137.95" fill="none" stroke="#e3e3e3" stroke-width="10.5" stroke-linecap="round"/>
<path d="M1265.57 316.12 Q1235.22 290.07 1232.27 235.15 T 1266.4 192.02 T 1256.33 137.95" fill="none" stroke="#fbfbfb" stroke-width="7.5" stroke-linecap="round"/>
<path d="M1161.04 215.69 Q1174.09 177.88 1147.35 129.82 T 1119.65 82.31 T 1126.17 27.7" fill="none" stroke="#e3e3e3" stroke-width="10.5" stroke-linecap="round"/>
<path d="M1161.04 215.69 Q1174.09 177.88 1147.35 129.82 T 1119.65 82.31 T 1126.17 27.7" fill="none" stroke="#fbfbfb" stroke-width="7.5" stroke-linecap="round"/>
<path d="M1458.87 381.59 Q1419.49 388.59 1391.35 435.85 T 1350.71 472.9 T 1329.52 523.66" fill="none" stroke="#e3e3e3" stroke-width="10.5" stroke-linecap="round"/>
<path d="M1458.87 381.59 Q1419.49 388.59 1391.35 435.85 T 1350.71 472.9 T 1329.52 523.66" fill="none" stroke="#fbfbfb" stroke-width="7.5" stroke-linecap="round"/>
<path d="M1387 353.05 Q1363.62 385.51 1312.59 365.01 T 1273.97 404.17 T 1292.09 456.1" fill="none" stroke="#e3e3e3" stroke-width="10.5" stroke-linecap="round"/>
<path d="M1387 353.05 Q1363.62 385.51 1312.59 365.01 T 1273.97 404.17 T 1292.09 456.1" fill="none" stroke="#fbfbfb" stroke-width="7.5" stroke-linecap="round"/>
<path d="M1252.62 188.88 Q1212.87 193.29 1195.43 141.13 T 1194.66 86.13 T 1140.39 77.25" fill="none" stroke="#e3e3e3" stroke-width="10.5" stroke-linecap="round"/>
<path d="M1252.62 188.88 Q1212.87 193.29 1195.43 141.13 T 1194.66 86.13 T 1140.39 77.25" fill="none" stroke="#fbfbfb" stroke-width="7.5" stroke-linecap="round"/>
<path d="M1426.95 191.55 Q1402 160.28 1416.33 107.18 T 1376.84 68.89 T 1327.51 44.58" fill="none" stroke="#e3e3e3" stroke-width="10.5" stroke-linecap="round"/>
<path d="M1426.95 191.55 Q1402 160.28 1416.33 107.18 T 1376.84 68.89 T 1327.51 44.58" fill="none" stroke="#fbfbfb" stroke-width="7.5" stroke-linecap="round"/>
<path d="M1348.46 129.91 Q1379.05 104.14 1413.87 61.56 T 1462.01 34.96 T 1457.01 -19.81" fill="none" stroke="#e3e3e3" stroke-width="10.5" stroke-linecap="round"/>
<path d="M1348.46 129.91 Q1379.05 104.14 1413.87 61.56 T 1462.01 34.96 T 1457.01 -19.81" fill="none" stroke="#fbfbfb" stroke-width="7.5" stroke-linecap="round"/>
<path d="M1441.63 352.5 Q1402.71 361.73 1353.15 337.89 T 1311.57 373.89 T 1316.96 428.63" fill="none" stroke="#e3e3e3" stroke-width="10.5" stroke-linecap="round"/>
<path d="M1441.63 352.5 Q1402.71 361.73 1353.15 337.89 T 1311.57 373.89 T 1316.96 428.63" fill="none" stroke="#fbfbfb" stroke-width="7.5" stroke-linecap="round"/>
<path d="M1460.27 56.74 Q1426.56 35.19 1377.57 10.2 T 1343.73 -33.16 T 1324.86 -84.82" fill="none" stroke="#e3e3e3" stroke-width="10.5" stroke-linecap="round"/>
<path d="M1460.27 56.74 Q1426.56 35.19 1377.57 10.2 T 1343.73 -33.16 T 1324.86 -84.82" fill="none" stroke="#fbfbfb" stroke-width="7.5" stroke-linecap="round"/>
<polygon points="1040,426 1150,418 1232,436 1250,500 1040,500" fill="#ffffff" opacity="0.85" filter="url(#soft2)"/>
<polygon points="1240,452 1340,448 1350,500 1240,500" fill="#ffffff" opacity="0.5" filter="url(#soft2)"/>
<polygon points="1150,270 1200,275 1195,320 1150,315" fill="#ffffff" opacity="0.6" filter="url(#soft2)"/>
</g>
<g fill="none" stroke-linecap="round" stroke-linejoin="round">
<path d="M1217.65 133.78 L1221.01 142.18 L1228.57 162.35 L1213.45 177.48" stroke="#a0a0a0" stroke-width="4.1"/>
<path d="M1269.75 158.99 L1264.71 179.16 L1267.23 197.65" stroke="#a0a0a0" stroke-width="4.1"/>
<path d="M1233.61 212.77 L1236.13 224.54" stroke="#a0a0a0" stroke-width="4.1"/>
<path d="M1229.41 214.45 L1246.22 209.41 L1253.78 192.61" stroke="#a0a0a0" stroke-width="4.1"/>
<path d="M1291.6 210.25 L1305.88 202.69 L1323.53 209.41 L1318.49 219.5 L1294.96 221.18 L1291.6 210.25" stroke="#a0a0a0" stroke-width="4.1"/>
<path d="M1325.21 197.65 L1340.34 187.56 L1358.82 197.65 L1359.66 216.13 L1345.38 226.22 L1326.05 216.13 L1325.21 197.65" stroke="#a0a0a0" stroke-width="4.1"/>
<path d="M1382.35 166.55 L1375.63 182.52 L1389.92 195.97 L1385.71 217.82 L1390.76 230.42" stroke="#a0a0a0" stroke-width="4.1"/>
<path d="M1375.63 182.52 L1356.3 185.04" stroke="#a0a0a0" stroke-width="4.1"/>
<path d="M1309.24 180.84 L1310.08 197.65 L1323.53 212.77" stroke="#a0a0a0" stroke-width="4.1"/>
<path d="M1316.81 219.5 L1331.93 234.62 L1343.7 218.66" stroke="#a0a0a0" stroke-width="4.1"/>
<path d="M1364.71 222.86 L1353.78 236.3 L1352.1 254.79 L1340.34 264.03" stroke="#a0a0a0" stroke-width="4.1"/>
<path d="M1340.34 264.03 L1350.42 271.6" stroke="#a0a0a0" stroke-width="4.1"/>
<path d="M1130.25 248.91 L1140.34 266.55 L1172.27 249.75 L1182.35 251.43 L1150.42 262.35 L1140.34 266.55" stroke="#a0a0a0" stroke-width="4.1"/>
<path d="M1204.2 274.96 L1194.12 291.76" stroke="#a0a0a0" stroke-width="4.1"/>
<path d="M1204.2 274.96 L1214.29 276.64" stroke="#a0a0a0" stroke-width="4.1"/>
<path d="M1316.81 258.15 L1309.24 276.64 L1312.61 300" stroke="#a0a0a0" stroke-width="4.1"/>
<path d="M1242.86 273.28 L1248.74 279.16" stroke="#a0a0a0" stroke-width="4.1"/>
<path d="M1219.66 138.82 L1217.65 133.78" stroke="#d23a3a" stroke-width="4.1"/>
<path d="M1228.57 162.35 L1242.86 165.71" stroke="#2530d6" stroke-width="4.1"/>
<path d="M1228.57 162.35 L1235.29 164.03" stroke="#a0a0a0" stroke-width="4.1"/>
<path d="M1265.97 188.4 L1267.23 197.65" stroke="#d23a3a" stroke-width="4.1"/>
<path d="M1232.77 202.69 L1233.61 212.77" stroke="#d23a3a" stroke-width="4.1"/>
<path d="M1291.6 214.45 L1291.6 210.25 L1300 206.89" stroke="#2530d6" stroke-width="4.1"/>
<path d="M1316.81 206.89 L1323.53 209.41 L1321.01 214.45" stroke="#2530d6" stroke-width="4.1"/>
<path d="M1378.99 174.54 L1382.35 166.55" stroke="#d23a3a" stroke-width="4.1"/>
<path d="M1365.97 183.78 L1356.3 185.04" stroke="#d23a3a" stroke-width="4.1"/>
<path d="M1340.34 264.03 L1335.29 268.24" stroke="#c49d25" stroke-width="4.1"/>
<path d="M1346.22 259.5 L1340.34 264.03" stroke="#c49d25" stroke-width="4.1"/>
<path d="M1116.81 141.34 L1125.21 126.22 L1139.5 137.14 L1136.13 161.51 L1122.69 161.51 L1116.81 141.34" stroke="#5f69c9" stroke-width="4.7"/>
<path d="M1121.01 133.78 L1125.21 126.22 L1131.93 131.26" stroke="#2530d6" stroke-width="4"/>
<path d="M1118.49 150.59 L1122.69 161.51 L1129.41 161.51" stroke="#2530d6" stroke-width="4"/>
<path d="M1139.5 137.14 L1168.91 119.5 L1178.99 133.78 L1194.12 148.91 L1204.2 165.71 L1191.6 185.88 L1194.96 199.33 L1187.39 219.5 L1166.39 216.97" stroke="#5f69c9" stroke-width="4.7"/>
<path d="M1162.18 101.01 L1168.91 119.5" stroke="#5f69c9" stroke-width="4.7"/>
<path d="M1162.18 101.01 L1165.55 110.25" stroke="#2530d6" stroke-width="4"/>
<path d="M1187.39 142.18 L1194.12 148.91 L1199.16 157.31" stroke="#2530d6" stroke-width="4"/>
<path d="M1193.28 192.61 L1194.96 199.33 L1192.44 207.73" stroke="#2530d6" stroke-width="4"/>
<path d="M1191.6 185.88 L1180.67 187.56" stroke="#d23a3a" stroke-width="4.7"/>
<path d="M1187.39 219.5 L1188.24 227.9 L1176.47 241.34" stroke="#5f69c9" stroke-width="4.7"/>
<path d="M1183.53 233.28 L1176.47 241.34" stroke="#d23a3a" stroke-width="4.7"/>
<path d="M1188.24 227.9 L1190.76 237.14" stroke="#d23a3a" stroke-width="4.7"/>
<path d="M1187.39 219.5 L1200.84 222.02 L1203.36 229.58 L1211.76 253.11" stroke="#5f69c9" stroke-width="4.7"/>
<path d="M1194.12 220.84 L1200.84 222.02 L1202.52 227.9" stroke="#2530d6" stroke-width="4.7"/>
<path d="M1188.24 227.9 L1203.36 229.58" stroke="#5f69c9" stroke-width="4.7"/>
<path d="M1253.78 246.39 L1253.78 253.11 L1247.9 261.51" stroke="#1fb71f" stroke-width="4.7"/>
<path d="M1253.78 253.11 L1266.39 256.47 L1262.18 275.8 L1284.87 269.08 L1290.76 246.39" stroke="#1fb71f" stroke-width="4.7"/>
<path d="M1236.13 266.55 L1226.05 264.87 L1209.24 280 L1226.05 288.4 L1228.57 266.55" stroke="#1fb71f" stroke-width="4.7"/>
<path d="M1226.05 288.4 L1205.88 298.49 L1187.39 288.4" stroke="#1fb71f" stroke-width="4.7"/>
<path d="M1253.78 234.62 L1253.78 246.39" stroke="#d23a3a" stroke-width="4.7"/>
<path d="M1247.9 261.51 L1242.86 269.92 L1236.13 266.55" stroke="#d23a3a" stroke-width="4.7"/>
<path d="M1205.91 299.55 L1187.45 287.89" stroke="#1fb71f" stroke-width="4.7"/>
<path d="M1227.28 265.55 L1210.77 280.12 L1226.31 287.89 L1205.91 299.55" stroke="#1fb71f" stroke-width="4.7"/>
<path d="M1205.91 299.55 L1194.25 313.16 L1193.28 327.73 L1204.94 321.9 L1205.91 299.55" stroke="#1fb71f" stroke-width="4.7"/>
<path d="M1200.08 323.84 L1200.08 349.11 L1187.45 360.77 L1188.42 337.45 L1200.08 323.84" stroke="#1fb71f" stroke-width="4.7"/>
<path d="M1187.45 360.77 L1163.16 362.71" stroke="#1fb71f" stroke-width="4.7"/>
<path d="M1187.45 360.77 L1203.96 376.31 L1199.11 393.8 L1187.45 403.52 L1191.33 366.6" stroke="#1fb71f" stroke-width="4.7"/>
<path d="M1187.45 360.77 L1195.22 389.91 L1209.79 393.8 L1229.23 411.29 L1250.6 402.55 L1255.46 379.23" stroke="#1fb71f" stroke-width="4.7"/>
<path d="M1187.45 403.52 L1163.16 416.15" stroke="#1fb71f" stroke-width="4.7"/>
<path d="M1187.45 403.52 L1209.79 393.8" stroke="#1fb71f" stroke-width="4.7"/>
<path d="M1317.64 258.74 L1309.87 273.32 L1314.73 292.75 L1308.9 312.18" stroke="#a0a0a0" stroke-width="4.1"/>
<path d="M1243.8 345.22 L1251.57 367.57" stroke="#a0a0a0" stroke-width="4.1"/>
<path d="M1275.86 335.5 L1269.06 345.22 L1272.95 366.6 L1264.21 382.14" stroke="#a0a0a0" stroke-width="4.1"/>
<path d="M1202.99 355.91 L1217.57 356.88" stroke="#a0a0a0" stroke-width="4.1"/>
<path d="M1134.98 351.05 L1141.78 348.72" stroke="#a0a0a0" stroke-width="4.1"/>
<path d="M1243.8 345.22 L1247.69 337.45 L1260.32 336.47" stroke="#8a8a8a" stroke-width="4.1"/>
<path d="M1260.32 336.47 L1271.01 333.56 L1278.78 331.62" stroke="#c49d25" stroke-width="4.1"/>
<path d="M1217.24 133.29 L1220.6 141.69 L1228.16 161.86 L1213.04 176.99" stroke="#dadada" stroke-width="2.05"/>
<path d="M1269.34 158.5 L1264.3 178.67 L1266.82 197.16" stroke="#dadada" stroke-width="2.05"/>
<path d="M1233.2 212.28 L1235.72 224.05" stroke="#dadada" stroke-width="2.05"/>
<path d="M1229 213.96 L1245.81 208.92 L1253.37 192.11" stroke="#dadada" stroke-width="2.05"/>
<path d="M1291.19 209.76 L1305.47 202.2 L1323.12 208.92 L1318.08 219 L1294.55 220.68 L1291.19 209.76" stroke="#dadada" stroke-width="2.05"/>
<path d="M1324.8 197.16 L1339.93 187.07 L1358.41 197.16 L1359.25 215.64 L1344.97 225.73 L1325.64 215.64 L1324.8 197.16" stroke="#dadada" stroke-width="2.05"/>
<path d="M1381.94 166.06 L1375.22 182.03 L1389.51 195.47 L1385.3 217.32 L1390.35 229.93" stroke="#dadada" stroke-width="2.05"/>
<path d="M1375.22 182.03 L1355.89 184.55" stroke="#dadada" stroke-width="2.05"/>
<path d="M1308.83 180.35 L1309.67 197.16 L1323.12 212.28" stroke="#dadada" stroke-width="2.05"/>
<path d="M1316.4 219 L1331.52 234.13 L1343.29 218.16" stroke="#dadada" stroke-width="2.05"/>
<path d="M1364.3 222.37 L1353.37 235.81 L1351.69 254.3 L1339.93 263.54" stroke="#dadada" stroke-width="2.05"/>
<path d="M1339.93 263.54 L1350.01 271.1" stroke="#dadada" stroke-width="2.05"/>
<path d="M1129.84 248.42 L1139.93 266.06 L1171.86 249.26 L1181.94 250.94 L1150.01 261.86 L1139.93 266.06" stroke="#dadada" stroke-width="2.05"/>
<path d="M1203.79 274.47 L1193.71 291.27" stroke="#dadada" stroke-width="2.05"/>
<path d="M1203.79 274.47 L1213.88 276.15" stroke="#dadada" stroke-width="2.05"/>
<path d="M1316.4 257.66 L1308.83 276.15 L1312.2 299.51" stroke="#dadada" stroke-width="2.05"/>
<path d="M1242.45 272.79 L1248.33 278.67" stroke="#dadada" stroke-width="2.05"/>
<path d="M1219.25 138.33 L1217.24 133.29" stroke="#f06c6c" stroke-width="2.05"/>
<path d="M1228.16 161.86 L1242.45 165.22" stroke="#4755f2" stroke-width="2.05"/>
<path d="M1228.16 161.86 L1234.88 163.54" stroke="#dadada" stroke-width="2.05"/>
<path d="M1265.56 187.91 L1266.82 197.16" stroke="#f06c6c" stroke-width="2.05"/>
<path d="M1232.36 202.2 L1233.2 212.28" stroke="#f06c6c" stroke-width="2.05"/>
<path d="M1291.19 213.96 L1291.19 209.76 L1299.59 206.4" stroke="#4755f2" stroke-width="2.05"/>
<path d="M1316.4 206.4 L1323.12 208.92 L1320.6 213.96" stroke="#4755f2" stroke-width="2.05"/>
<path d="M1378.58 174.05 L1381.94 166.06" stroke="#f06c6c" stroke-width="2.05"/>
<path d="M1365.56 183.29 L1355.89 184.55" stroke="#f06c6c" stroke-width="2.05"/>
<path d="M1339.93 263.54 L1334.88 267.74" stroke="#e8c651" stroke-width="2.05"/>
<path d="M1345.81 259 L1339.93 263.54" stroke="#e8c651" stroke-width="2.05"/>
<path d="M1116.34 140.78 L1124.74 125.65 L1139.03 136.58 L1135.66 160.95 L1122.22 160.95 L1116.34 140.78" stroke="#8a93ea" stroke-width="2.35"/>
<path d="M1120.61 133.3 L1124.81 125.74 L1131.53 130.78" stroke="#4755f2" stroke-width="2"/>
<path d="M1118.09 150.11 L1122.29 161.03 L1129.01 161.03" stroke="#4755f2" stroke-width="2"/>
<path d="M1139.03 136.58 L1168.44 118.93 L1178.52 133.22 L1193.65 148.34 L1203.73 165.15 L1191.13 185.32 L1194.49 198.76 L1186.92 218.93 L1165.92 216.41" stroke="#8a93ea" stroke-width="2.35"/>
<path d="M1161.71 100.44 L1168.44 118.93" stroke="#8a93ea" stroke-width="2.35"/>
<path d="M1161.79 100.53 L1165.15 109.77" stroke="#4755f2" stroke-width="2"/>
<path d="M1187 141.71 L1193.72 148.43 L1198.76 156.83" stroke="#4755f2" stroke-width="2"/>
<path d="M1192.88 192.13 L1194.56 198.85 L1192.04 207.25" stroke="#4755f2" stroke-width="2"/>
<path d="M1191.13 185.32 L1180.2 187" stroke="#f06c6c" stroke-width="2.35"/>
<path d="M1186.92 218.93 L1187.77 227.34 L1176 240.78" stroke="#8a93ea" stroke-width="2.35"/>
<path d="M1183.06 232.71 L1176 240.78" stroke="#f06c6c" stroke-width="2.35"/>
<path d="M1187.77 227.34 L1190.29 236.58" stroke="#f06c6c" stroke-width="2.35"/>
<path d="M1186.92 218.93 L1200.37 221.45 L1202.89 229.02 L1211.29 252.55" stroke="#8a93ea" stroke-width="2.35"/>
<path d="M1193.65 220.28 L1200.37 221.45 L1202.05 227.34" stroke="#4755f2" stroke-width="2.35"/>
<path d="M1187.77 227.34 L1202.89 229.02" stroke="#8a93ea" stroke-width="2.35"/>
<path d="M1253.31 245.82 L1253.31 252.55 L1247.43 260.95" stroke="#48ec48" stroke-width="2.35"/>
<path d="M1253.31 252.55 L1265.92 255.91 L1261.71 275.23 L1284.4 268.51 L1290.29 245.82" stroke="#48ec48" stroke-width="2.35"/>
<path d="M1235.66 265.99 L1225.58 264.31 L1208.77 279.44 L1225.58 287.84 L1228.1 265.99" stroke="#48ec48" stroke-width="2.35"/>
<path d="M1225.58 287.84 L1205.41 297.92 L1186.92 287.84" stroke="#48ec48" stroke-width="2.35"/>
<path d="M1253.31 234.06 L1253.31 245.82" stroke="#f06c6c" stroke-width="2.35"/>
<path d="M1247.43 260.95 L1242.39 269.35 L1235.66 265.99" stroke="#f06c6c" stroke-width="2.35"/>
<path d="M1205.44 298.99 L1186.98 287.33" stroke="#48ec48" stroke-width="2.35"/>
<path d="M1226.81 264.98 L1210.3 279.56 L1225.84 287.33 L1205.44 298.99" stroke="#48ec48" stroke-width="2.35"/>
<path d="M1205.44 298.99 L1193.78 312.59 L1192.81 327.17 L1204.47 321.34 L1205.44 298.99" stroke="#48ec48" stroke-width="2.35"/>
<path d="M1199.61 323.28 L1199.61 348.54 L1186.98 360.2 L1187.95 336.88 L1199.61 323.28" stroke="#48ec48" stroke-width="2.35"/>
<path d="M1186.98 360.2 L1162.69 362.14" stroke="#48ec48" stroke-width="2.35"/>
<path d="M1186.98 360.2 L1203.49 375.75 L1198.64 393.24 L1186.98 402.95 L1190.86 366.03" stroke="#48ec48" stroke-width="2.35"/>
<path d="M1186.98 360.2 L1194.75 389.35 L1209.32 393.24 L1228.76 410.73 L1250.13 401.98 L1254.99 378.66" stroke="#48ec48" stroke-width="2.35"/>
<path d="M1186.98 402.95 L1162.69 415.58" stroke="#48ec48" stroke-width="2.35"/>
<path d="M1186.98 402.95 L1209.32 393.24" stroke="#48ec48" stroke-width="2.35"/>
<path d="M1317.23 258.25 L1309.46 272.83 L1314.32 292.26 L1308.49 311.69" stroke="#dadada" stroke-width="2.05"/>
<path d="M1243.39 344.73 L1251.16 367.08" stroke="#dadada" stroke-width="2.05"/>
<path d="M1275.45 335.01 L1268.65 344.73 L1272.54 366.1 L1263.8 381.65" stroke="#dadada" stroke-width="2.05"/>
<path d="M1202.58 355.42 L1217.16 356.39" stroke="#dadada" stroke-width="2.05"/>
<path d="M1134.57 350.56 L1141.37 348.23" stroke="#dadada" stroke-width="2.05"/>
<path d="M1243.39 344.73 L1247.28 336.95 L1259.91 335.98" stroke="#b5b5b5" stroke-width="2.05"/>
<path d="M1259.91 335.98 L1270.6 333.07 L1278.37 331.12" stroke="#e8c651" stroke-width="2.05"/>
</g>
<line x1="1200" y1="199.33" x2="1232.77" y2="205.21" stroke="#111" stroke-width="2.6" stroke-dasharray="3.6 2.8" stroke-linecap="butt"/>
<line x1="1240.34" y1="170.76" x2="1233.61" y2="201.85" stroke="#111" stroke-width="2.6" stroke-dasharray="3.6 2.8" stroke-linecap="butt"/>
<line x1="1205.04" y1="219.5" x2="1265.55" y2="197.65" stroke="#111" stroke-width="2.6" stroke-dasharray="3.6 2.8" stroke-linecap="butt"/>
<line x1="1267.23" y1="198.49" x2="1290.76" y2="209.41" stroke="#111" stroke-width="2.6" stroke-dasharray="3.6 2.8" stroke-linecap="butt"/>
<line x1="1326.05" y1="208.57" x2="1355.46" y2="186.72" stroke="#111" stroke-width="2.6" stroke-dasharray="3.6 2.8" stroke-linecap="butt"/>
<line x1="1265.55" y1="200.17" x2="1255.46" y2="232.1" stroke="#111" stroke-width="2.6" stroke-dasharray="3.6 2.8" stroke-linecap="butt"/>
<line x1="1236.97" y1="224.54" x2="1252.94" y2="233.78" stroke="#111" stroke-width="2.6" stroke-dasharray="3.6 2.8" stroke-linecap="butt"/>
<line x1="1261.34" y1="212.77" x2="1361.85" y2="316.13" stroke="#000000" stroke-width="3" stroke-linecap="butt" />
<text x="1142.02" y="119.5" font-size="32.5" font-weight="bold" text-anchor="middle" fill="#000000" >H</text>
<text x="1169.75" y="171.6" font-size="32.5" font-weight="bold" text-anchor="middle" fill="#000000" >G</text>
<text x="1153.78" y="243.03" font-size="32.5" font-weight="bold" text-anchor="middle" fill="#000000" >A</text>
<text x="1191.6" y="270.76" font-size="32.5" font-weight="bold" text-anchor="middle" fill="#000000" >A</text>
<text x="1280.67" y="154.79" font-size="32.5" font-weight="bold" text-anchor="middle" fill="#000000" >S</text>
<text x="1312.1" y="185.88" font-size="32.5" font-weight="bold" text-anchor="middle" fill="#000000" >H</text>
<text x="1358.82" y="171.6" font-size="32.5" font-weight="bold" text-anchor="middle" fill="#000000" >E</text>
<text x="1224.4" y="334.8" font-size="28" font-weight="bold" text-anchor="start" fill="#000000" >4.2 &#197; with &#183;OH</text>
<clipPath id="cl4"><rect x="1557" y="45" width="397" height="426"/></clipPath>
<g clip-path="url(#cl4)">
<rect x="1557" y="45" width="397" height="426" fill="#f3f3f3" stroke="none" stroke-width="0"/>
<ellipse cx="1924.17" cy="449.11" rx="67.48" ry="20.17" fill="#f5f5f5" stroke="#fcfcfc" stroke-width="2.5" transform="rotate(106.56 1924.17 449.11)" filter="url(#soft)"/>
<ellipse cx="1707.54" cy="197.54" rx="60.49" ry="24.95" fill="#e9e9e9" stroke="#fcfcfc" stroke-width="2.5" transform="rotate(2.53 1707.54 197.54)" filter="url(#soft)"/>
<ellipse cx="1914.96" cy="90.11" rx="71.21" ry="30.95" fill="#f5f5f5" stroke="#fcfcfc" stroke-width="2.5" transform="rotate(3.52 1914.96 90.11)" filter="url(#soft)"/>
<ellipse cx="1699.52" cy="69.52" rx="62.89" ry="33.32" fill="#f8f8f8" stroke="#fcfcfc" stroke-width="2.5" transform="rotate(118.42 1699.52 69.52)" filter="url(#soft)"/>
<ellipse cx="1942.38" cy="199.55" rx="61.91" ry="27.59" fill="#fcfcfc" stroke="#fcfcfc" stroke-width="2.5" transform="rotate(102.97 1942.38 199.55)" filter="url(#soft)"/>
<ellipse cx="1784.48" cy="391.88" rx="37.46" ry="30.56" fill="#f0f0f0" stroke="#fcfcfc" stroke-width="2.5" transform="rotate(142.47 1784.48 391.88)" filter="url(#soft)"/>
<ellipse cx="1629.27" cy="121.06" rx="43.58" ry="39.21" fill="#fafafa" stroke="#fcfcfc" stroke-width="2.5" transform="rotate(35.21 1629.27 121.06)" filter="url(#soft)"/>
<ellipse cx="1589.68" cy="226.54" rx="53.86" ry="42.44" fill="#fcfcfc" stroke="#fcfcfc" stroke-width="2.5" transform="rotate(50.5 1589.68 226.54)" filter="url(#soft)"/>
<ellipse cx="1600.29" cy="428.45" rx="52.77" ry="41.26" fill="#f8f8f8" stroke="#fcfcfc" stroke-width="2.5" transform="rotate(81.85 1600.29 428.45)" filter="url(#soft)"/>
<ellipse cx="1659.59" cy="90.64" rx="62.92" ry="36.39" fill="#f8f8f8" stroke="#fcfcfc" stroke-width="2.5" transform="rotate(149.14 1659.59 90.64)" filter="url(#soft)"/>
<ellipse cx="1687.32" cy="105.68" rx="61.3" ry="20.61" fill="#e9e9e9" stroke="#fcfcfc" stroke-width="2.5" transform="rotate(68.95 1687.32 105.68)" filter="url(#soft)"/>
<ellipse cx="1944.08" cy="68.82" rx="47.48" ry="18.61" fill="#eeeeee" stroke="#fcfcfc" stroke-width="2.5" transform="rotate(145.72 1944.08 68.82)" filter="url(#soft)"/>
<ellipse cx="1943.57" cy="387.91" rx="69.85" ry="32" fill="#fafafa" stroke="#fcfcfc" stroke-width="2.5" transform="rotate(177.88 1943.57 387.91)" filter="url(#soft)"/>
<ellipse cx="1694.42" cy="460.09" rx="45.83" ry="23.03" fill="#e9e9e9" stroke="#fcfcfc" stroke-width="2.5" transform="rotate(13.66 1694.42 460.09)" filter="url(#soft)"/>
<ellipse cx="1774.66" cy="366.61" rx="49.28" ry="25.69" fill="#f0f0f0" stroke="#fcfcfc" stroke-width="2.5" transform="rotate(16.5 1774.66 366.61)" filter="url(#soft)"/>
<ellipse cx="1831.17" cy="282.7" rx="40.02" ry="20.6" fill="#eeeeee" stroke="#fcfcfc" stroke-width="2.5" transform="rotate(29.69 1831.17 282.7)" filter="url(#soft)"/>
<ellipse cx="1733.54" cy="191.02" rx="67.48" ry="39.16" fill="#f5f5f5" stroke="#fcfcfc" stroke-width="2.5" transform="rotate(161.13 1733.54 191.02)" filter="url(#soft)"/>
<ellipse cx="1584.62" cy="454.22" rx="67.7" ry="37.39" fill="#f5f5f5" stroke="#fcfcfc" stroke-width="2.5" transform="rotate(98.24 1584.62 454.22)" filter="url(#soft)"/>
<ellipse cx="1719.62" cy="373.73" rx="53.4" ry="32.3" fill="#fafafa" stroke="#fcfcfc" stroke-width="2.5" transform="rotate(148.78 1719.62 373.73)" filter="url(#soft)"/>
<ellipse cx="1567.05" cy="104.3" rx="70.53" ry="36.95" fill="#f0f0f0" stroke="#fcfcfc" stroke-width="2.5" transform="rotate(77.48 1567.05 104.3)" filter="url(#soft)"/>
<ellipse cx="1934.75" cy="78.47" rx="53.6" ry="32.09" fill="#e9e9e9" stroke="#fcfcfc" stroke-width="2.5" transform="rotate(42.31 1934.75 78.47)" filter="url(#soft)"/>
<ellipse cx="1874.42" cy="466.02" rx="41.43" ry="26.79" fill="#f0f0f0" stroke="#fcfcfc" stroke-width="2.5" transform="rotate(4.26 1874.42 466.02)" filter="url(#soft)"/>
<ellipse cx="1854.42" cy="216.15" rx="63.33" ry="18.78" fill="#f5f5f5" stroke="#fcfcfc" stroke-width="2.5" transform="rotate(117.83 1854.42 216.15)" filter="url(#soft)"/>
<ellipse cx="1936.01" cy="223.91" rx="41.65" ry="33.53" fill="#f0f0f0" stroke="#fcfcfc" stroke-width="2.5" transform="rotate(178.56 1936.01 223.91)" filter="url(#soft)"/>
<ellipse cx="1765.87" cy="171.86" rx="67.75" ry="20.25" fill="#e9e9e9" stroke="#fcfcfc" stroke-width="2.5" transform="rotate(157.79 1765.87 171.86)" filter="url(#soft)"/>
<ellipse cx="1706.81" cy="52.61" rx="49.19" ry="28.71" fill="#f5f5f5" stroke="#fcfcfc" stroke-width="2.5" transform="rotate(122.62 1706.81 52.61)" filter="url(#soft)"/>
<path d="M1695.7 173.73 Q1734.4 163.59 1776.44 128.13 T 1805.43 81.39 T 1823.26 29.36" fill="none" stroke="#e3e3e3" stroke-width="10.5" stroke-linecap="round"/>
<path d="M1695.7 173.73 Q1734.4 163.59 1776.44 128.13 T 1805.43 81.39 T 1823.26 29.36" fill="none" stroke="#fbfbfb" stroke-width="7.5" stroke-linecap="round"/>
<path d="M1881.15 248.53 Q1843.38 235.34 1791.69 254.13 T 1760.61 299.5 T 1789.35 346.39" fill="none" stroke="#e3e3e3" stroke-width="10.5" stroke-linecap="round"/>
<path d="M1881.15 248.53 Q1843.38 235.34 1791.69 254.13 T 1760.61 299.5 T 1789.35 346.39" fill="none" stroke="#fbfbfb" stroke-width="7.5" stroke-linecap="round"/>
<path d="M1643.25 157.42 Q1667.14 125.33 1700.28 81.44 T 1676.65 31.77 T 1647.97 -15.16" fill="none" stroke="#e3e3e3" stroke-width="10.5" stroke-linecap="round"/>
<path d="M1643.25 157.42 Q1667.14 125.33 1700.28 81.44 T 1676.65 31.77 T 1647.97 -15.16" fill="none" stroke="#fbfbfb" stroke-width="7.5" stroke-linecap="round"/>
<path d="M1605.01 286.13 Q1567.64 300.41 1523.47 267.64 T 1468.51 269.61 T 1436.36 224.98" fill="none" stroke="#e3e3e3" stroke-width="10.5" stroke-linecap="round"/>
<path d="M1605.01 286.13 Q1567.64 300.41 1523.47 267.64 T 1468.51 269.61 T 1436.36 224.98" fill="none" stroke="#fbfbfb" stroke-width="7.5" stroke-linecap="round"/>
<path d="M1655.3 463.59 Q1628.63 433.78 1578.86 457.18 T 1528.65 434.72 T 1474.83 446.05" fill="none" stroke="#e3e3e3" stroke-width="10.5" stroke-linecap="round"/>
<path d="M1655.3 463.59 Q1628.63 433.78 1578.86 457.18 T 1528.65 434.72 T 1474.83 446.05" fill="none" stroke="#fbfbfb" stroke-width="7.5" stroke-linecap="round"/>
<path d="M1700.81 107.44 Q1721.61 73.27 1690.54 27.89 T 1694.22 -26.99 T 1681.94 -80.6" fill="none" stroke="#e3e3e3" stroke-width="10.5" stroke-linecap="round"/>
<path d="M1700.81 107.44 Q1721.61 73.27 1690.54 27.89 T 1694.22 -26.99 T 1681.94 -80.6" fill="none" stroke="#fbfbfb" stroke-width="7.5" stroke-linecap="round"/>
<path d="M1826.74 169.85 Q1862 188.73 1857.43 243.54 T 1830.26 291.36 T 1852.1 341.84" fill="none" stroke="#e3e3e3" stroke-width="10.5" stroke-linecap="round"/>
<path d="M1826.74 169.85 Q1862 188.73 1857.43 243.54 T 1830.26 291.36 T 1852.1 341.84" fill="none" stroke="#fbfbfb" stroke-width="7.5" stroke-linecap="round"/>
<path d="M1944.55 433.43 Q1961.01 469.89 2014.91 458.98 T 2069.57 465.07 T 2103.79 422.01" fill="none" stroke="#e3e3e3" stroke-width="10.5" stroke-linecap="round"/>
<path d="M1944.55 433.43 Q1961.01 469.89 2014.91 458.98 T 2069.57 465.07 T 2103.79 422.01" fill="none" stroke="#fbfbfb" stroke-width="7.5" stroke-linecap="round"/>
<path d="M1847.56 244.74 Q1837.3 206.08 1833.78 151.19 T 1868.95 108.91 T 1923.94 110.22" fill="none" stroke="#e3e3e3" stroke-width="10.5" stroke-linecap="round"/>
<path d="M1847.56 244.74 Q1837.3 206.08 1833.78 151.19 T 1868.95 108.91 T 1923.94 110.22" fill="none" stroke="#fbfbfb" stroke-width="7.5" stroke-linecap="round"/>
<path d="M1796.35 296.94 Q1777.81 332.38 1806.22 379.48 T 1860.87 373.28 T 1895.63 415.9" fill="none" stroke="#e3e3e3" stroke-width="10.5" stroke-linecap="round"/>
<path d="M1796.35 296.94 Q1777.81 332.38 1806.22 379.48 T 1860.87 373.28 T 1895.63 415.9" fill="none" stroke="#fbfbfb" stroke-width="7.5" stroke-linecap="round"/>
<path d="M1638.82 226.72 Q1622.57 263.27 1584.94 303.38 T 1543.74 339.81 T 1490.9 324.55" fill="none" stroke="#e3e3e3" stroke-width="10.5" stroke-linecap="round"/>
<path d="M1638.82 226.72 Q1622.57 263.27 1584.94 303.38 T 1543.74 339.81 T 1490.9 324.55" fill="none" stroke="#fbfbfb" stroke-width="7.5" stroke-linecap="round"/>
<polygon points="1530,392 1640,385 1700,395 1745,430 1800,445 1815,500 1530,500" fill="#ffffff" opacity="0.92" filter="url(#soft2)"/>
<polygon points="1640,215 1700,210 1705,290 1645,295" fill="#ffffff" opacity="0.6" filter="url(#soft2)"/>
<polygon points="1735,300 1790,295 1800,360 1740,365" fill="#ffffff" opacity="0.7" filter="url(#soft2)"/>
</g>
<g fill="none" stroke-linecap="round" stroke-linejoin="round">
<path d="M1730.46 85.52 L1734.24 99.71 L1740.86 124.28 L1721.01 136.57" stroke="#a0a0a0" stroke-width="4.1"/>
<path d="M1785.29 141.3 L1773 165.88 L1771.11 179.12" stroke="#a0a0a0" stroke-width="4.1"/>
<path d="M1743.32 181.01 L1740.86 192.35" stroke="#a0a0a0" stroke-width="4.1"/>
<path d="M1804.2 205.59 L1823.1 196.13 L1839.18 209.37 L1835.39 224.49 L1829.72 226.38 L1807.98 221.66 L1804.2 205.59" stroke="#a0a0a0" stroke-width="4.1"/>
<path d="M1829.72 226.38 L1843.9 246.24 L1861.86 240.56" stroke="#a0a0a0" stroke-width="4.1"/>
<path d="M1840.12 173.44 L1858.08 163.04 L1875.1 173.44 L1874.15 196.13 L1858.08 206.53 L1840.12 196.13 L1840.12 173.44" stroke="#a0a0a0" stroke-width="4.1"/>
<path d="M1875.1 173.44 L1893.06 161.15 L1893.06 149.81" stroke="#a0a0a0" stroke-width="4.1"/>
<path d="M1824.05 247.18 L1813.65 265.14 L1815.54 283.1" stroke="#a0a0a0" stroke-width="4.1"/>
<path d="M1628.36 220.71 L1633.09 242.45 L1625.52 260.42" stroke="#a0a0a0" stroke-width="4.1"/>
<path d="M1633.09 242.45 L1657.67 246.24 L1665.23 269.87" stroke="#a0a0a0" stroke-width="4.1"/>
<path d="M1670.9 271.76 L1681.3 273.65 L1688.86 292.56" stroke="#a0a0a0" stroke-width="4.1"/>
<path d="M1732.54 93.32 L1730.46 85.52" stroke="#d23a3a" stroke-width="4.1"/>
<path d="M1740.86 124.28 L1755.04 136.57" stroke="#2530d6" stroke-width="4.1"/>
<path d="M1740.86 124.28 L1746.53 129.01" stroke="#a0a0a0" stroke-width="4.1"/>
<path d="M1772.24 171.17 L1771.11 179.12" stroke="#d23a3a" stroke-width="4.1"/>
<path d="M1742.09 186.68 L1743.32 181.01" stroke="#d23a3a" stroke-width="4.1"/>
<path d="M1805.14 213.15 L1804.2 205.59 L1813.65 200.86" stroke="#2530d6" stroke-width="4.1"/>
<path d="M1833.5 204.64 L1839.18 209.37 L1836.34 217.87" stroke="#2530d6" stroke-width="4.1"/>
<path d="M1665.23 269.87 L1670.9 271.76 L1665.23 284.05" stroke="#c49d25" stroke-width="4.1"/>
<path d="M1665.23 284.05 L1658.61 296.34" stroke="#d9d9d9" stroke-width="4.1"/>
<path d="M1815.54 283.1 L1806.09 281.21" stroke="#8a8a8a" stroke-width="4.1"/>
<path d="M1658.74 250 L1666.28 269.38" stroke="#a0a0a0" stroke-width="4.1"/>
<path d="M1670.59 271.53 L1682.43 272.61 L1688.89 288.76" stroke="#a0a0a0" stroke-width="4.1"/>
<path d="M1663.05 338.29 L1673.82 318.91 L1699.66 319.98 L1705.47 337.21" stroke="#a0a0a0" stroke-width="4.1"/>
<path d="M1741.65 335.06 L1745.95 358.74" stroke="#a0a0a0" stroke-width="4.1"/>
<path d="M1582.3 379.2 L1583.38 398.58 L1600.6 416.88" stroke="#a0a0a0" stroke-width="4.1"/>
<path d="M1583.38 398.58 L1565.07 410.42" stroke="#a0a0a0" stroke-width="4.1"/>
<path d="M1815.93 386.74 L1836.39 381.35 L1846.08 398.58 L1837.47 420.11 L1818.09 428.73 L1807.32 410.42 L1815.93 386.74" stroke="#a0a0a0" stroke-width="4.1"/>
<path d="M1846.08 398.58 L1864.38 398.58 L1866.54 420.11 L1850.39 435.19 L1837.47 420.11" stroke="#a0a0a0" stroke-width="4.1"/>
<path d="M1864.38 398.58 L1877.3 377.05" stroke="#a0a0a0" stroke-width="4.1"/>
<path d="M1796.55 401.81 L1811.63 411.5" stroke="#a0a0a0" stroke-width="4.1"/>
<path d="M1821.32 250 L1813.78 265.07 L1814.86 285.53 L1807.32 307.06" stroke="#a0a0a0" stroke-width="4.1"/>
<path d="M1629.67 250 L1624.29 260.77" stroke="#8a8a8a" stroke-width="4.1"/>
<path d="M1631.83 331.83 L1629.67 343.67" stroke="#8a8a8a" stroke-width="4.1"/>
<path d="M1688.89 288.76 L1697.5 296.3" stroke="#8a8a8a" stroke-width="4.1"/>
<path d="M1877.3 377.05 L1870.84 363.05" stroke="#8a8a8a" stroke-width="4.1"/>
<path d="M1793.32 393.2 L1796.55 401.81" stroke="#8a8a8a" stroke-width="4.1"/>
<path d="M1805.17 281.22 L1812.7 284.45" stroke="#8a8a8a" stroke-width="4.1"/>
<path d="M1670.59 271.53 L1665.2 283.38" stroke="#c49d25" stroke-width="4.1"/>
<path d="M1665.2 283.38 L1658.74 296.3" stroke="#d9d9d9" stroke-width="4.1"/>
<path d="M1705.47 337.21 L1709.35 349.05 L1698.58 355.51" stroke="#c49d25" stroke-width="4.1"/>
<path d="M1698.58 355.51 L1683.51 364.13" stroke="#d9d9d9" stroke-width="4.1"/>
<path d="M1753.49 318.91 L1750.26 326.44" stroke="#d23a3a" stroke-width="4.1"/>
<path d="M1750.26 326.44 L1741.65 335.06" stroke="#a0a0a0" stroke-width="4.1"/>
<path d="M1574.22 404.5 L1565.07 410.42" stroke="#d23a3a" stroke-width="4.1"/>
<path d="M1857.92 428.73 L1850.39 435.19 L1843.93 427.65" stroke="#2530d6" stroke-width="4.1"/>
<path d="M1808.4 409.35 L1813.78 412.58" stroke="#d23a3a" stroke-width="4.1"/>
<path d="M1616.07 120.5 L1626.47 110.1 L1646.32 120.5 L1647.27 139.41 L1630.25 134.68 L1616.07 120.5" stroke="#5f69c9" stroke-width="4.7"/>
<path d="M1620.8 114.83 L1616.07 120.5 L1622.69 127.12" stroke="#2530d6" stroke-width="4"/>
<path d="M1647.27 131.85 L1647.27 139.41 L1638.76 137.14" stroke="#2530d6" stroke-width="4"/>
<path d="M1646.32 120.5 L1665.23 120.5 L1683.19 105.38 L1698.32 120.5 L1709.66 139.41 L1716.28 149.81 L1704.93 177.22 L1708.72 190.46 L1692.65 199.91" stroke="#5f69c9" stroke-width="4.7"/>
<path d="M1679.41 79.85 L1683.19 105.38" stroke="#5f69c9" stroke-width="4.7"/>
<path d="M1679.41 79.85 L1681.3 92.14" stroke="#2530d6" stroke-width="4"/>
<path d="M1703.04 129.01 L1709.66 139.41 L1713.44 145.46" stroke="#2530d6" stroke-width="4"/>
<path d="M1683.19 105.38 L1694.54 110.1" stroke="#d23a3a" stroke-width="4.7"/>
<path d="M1704.93 177.22 L1698.32 182.9" stroke="#d23a3a" stroke-width="4.7"/>
<path d="M1692.65 179.12 L1705.88 184.79" stroke="#5f69c9" stroke-width="4.7"/>
<path d="M1692.65 199.91 L1677.52 206.53" stroke="#d23a3a" stroke-width="4.7"/>
<path d="M1708.72 190.46 L1700.21 194.24" stroke="#2530d6" stroke-width="4.7"/>
<path d="M1708.72 190.46 L1711.55 211.26 L1720.06 216.93" stroke="#5f69c9" stroke-width="4.7"/>
<path d="M1720.06 216.93 L1729.51 222.6" stroke="#d23a3a" stroke-width="4.7"/>
<path d="M1760.71 223.55 L1760.33 233" stroke="#d23a3a" stroke-width="4.7"/>
<path d="M1760.33 233 L1758.82 238.67 L1753.15 246.24" stroke="#1fb71f" stroke-width="4.7"/>
<path d="M1758.82 238.67 L1786.24 233.95 L1796.63 213.15" stroke="#1fb71f" stroke-width="4.7"/>
<path d="M1730.46 252.85 L1711.55 263.25 L1708.72 292.56 L1726.68 288.78 L1730.46 252.85" stroke="#1fb71f" stroke-width="4.7"/>
<path d="M1708.72 292.56 L1687.92 285" stroke="#1fb71f" stroke-width="4.7"/>
<path d="M1708.72 292.56 L1690.75 299.93" stroke="#1fb71f" stroke-width="4.7"/>
<path d="M1768.27 236.78 L1763.55 250.02" stroke="#189a18" stroke-width="4.7"/>
<path d="M1753.15 246.24 L1745.59 254.74 L1738.97 253.8" stroke="#d23a3a" stroke-width="4.7"/>
<path d="M1738.97 253.8 L1730.46 252.85" stroke="#1fb71f" stroke-width="4.7"/>
<path d="M1709.35 295.22 L1689.97 296.3 L1687.81 321.06 L1700.73 322.14 L1705.04 295.22" stroke="#1fb71f" stroke-width="4.7"/>
<path d="M1687.81 321.06 L1681.35 353.36 L1696.43 366.28 L1698.58 323.21" stroke="#1fb71f" stroke-width="4.7"/>
<path d="M1681.35 353.36 L1679.2 367.36 L1657.67 367.36" stroke="#1fb71f" stroke-width="4.7"/>
<path d="M1679.2 367.36 L1689.97 391.04 L1696.43 366.28" stroke="#1fb71f" stroke-width="4.7"/>
<path d="M1689.97 391.04 L1678.12 415.81 L1654.44 419.04" stroke="#1fb71f" stroke-width="4.7"/>
<path d="M1678.12 415.81 L1681.35 421.19 L1703.96 417.96 L1721.19 433.03 L1744.88 428.73 L1752.41 403.96" stroke="#1fb71f" stroke-width="4.7"/>
<path d="M1744.88 428.73 L1748.11 438.42" stroke="#1fb71f" stroke-width="4.7"/>
<path d="M1730.05 85.03 L1733.83 99.21 L1740.45 123.79 L1720.6 136.08" stroke="#dadada" stroke-width="2.05"/>
<path d="M1784.88 140.81 L1772.59 165.39 L1770.7 178.62" stroke="#dadada" stroke-width="2.05"/>
<path d="M1742.91 180.51 L1740.45 191.86" stroke="#dadada" stroke-width="2.05"/>
<path d="M1803.79 205.09 L1822.69 195.64 L1838.77 208.87 L1834.98 224 L1829.31 225.89 L1807.57 221.16 L1803.79 205.09" stroke="#dadada" stroke-width="2.05"/>
<path d="M1829.31 225.89 L1843.49 245.74 L1861.45 240.07" stroke="#dadada" stroke-width="2.05"/>
<path d="M1839.71 172.95 L1857.67 162.55 L1874.69 172.95 L1873.74 195.64 L1857.67 206.04 L1839.71 195.64 L1839.71 172.95" stroke="#dadada" stroke-width="2.05"/>
<path d="M1874.69 172.95 L1892.65 160.66 L1892.65 149.32" stroke="#dadada" stroke-width="2.05"/>
<path d="M1823.64 246.69 L1813.24 264.65 L1815.13 282.61" stroke="#dadada" stroke-width="2.05"/>
<path d="M1627.95 220.22 L1632.68 241.96 L1625.11 259.92" stroke="#dadada" stroke-width="2.05"/>
<path d="M1632.68 241.96 L1657.26 245.74 L1664.82 269.38" stroke="#dadada" stroke-width="2.05"/>
<path d="M1670.49 271.27 L1680.89 273.16 L1688.45 292.07" stroke="#dadada" stroke-width="2.05"/>
<path d="M1732.13 92.83 L1730.05 85.03" stroke="#f06c6c" stroke-width="2.05"/>
<path d="M1740.45 123.79 L1754.63 136.08" stroke="#4755f2" stroke-width="2.05"/>
<path d="M1740.45 123.79 L1746.12 128.52" stroke="#dadada" stroke-width="2.05"/>
<path d="M1771.83 170.68 L1770.7 178.62" stroke="#f06c6c" stroke-width="2.05"/>
<path d="M1741.68 186.19 L1742.91 180.51" stroke="#f06c6c" stroke-width="2.05"/>
<path d="M1804.73 212.66 L1803.79 205.09 L1813.24 200.37" stroke="#4755f2" stroke-width="2.05"/>
<path d="M1833.09 204.15 L1838.77 208.87 L1835.93 217.38" stroke="#4755f2" stroke-width="2.05"/>
<path d="M1664.82 269.38 L1670.49 271.27 L1664.82 283.56" stroke="#e8c651" stroke-width="2.05"/>
<path d="M1664.82 283.56 L1658.2 295.85" stroke="#fafafa" stroke-width="2.05"/>
<path d="M1815.13 282.61 L1805.68 280.72" stroke="#b5b5b5" stroke-width="2.05"/>
<path d="M1658.33 249.51 L1665.87 268.89" stroke="#dadada" stroke-width="2.05"/>
<path d="M1670.18 271.04 L1682.02 272.12 L1688.48 288.27" stroke="#dadada" stroke-width="2.05"/>
<path d="M1662.64 337.79 L1673.41 318.41 L1699.25 319.49 L1705.06 336.72" stroke="#dadada" stroke-width="2.05"/>
<path d="M1741.24 334.56 L1745.54 358.25" stroke="#dadada" stroke-width="2.05"/>
<path d="M1581.89 378.71 L1582.97 398.09 L1600.19 416.39" stroke="#dadada" stroke-width="2.05"/>
<path d="M1582.97 398.09 L1564.66 409.93" stroke="#dadada" stroke-width="2.05"/>
<path d="M1815.52 386.24 L1835.98 380.86 L1845.67 398.09 L1837.06 419.62 L1817.68 428.23 L1806.91 409.93 L1815.52 386.24" stroke="#dadada" stroke-width="2.05"/>
<path d="M1845.67 398.09 L1863.97 398.09 L1866.13 419.62 L1849.98 434.69 L1837.06 419.62" stroke="#dadada" stroke-width="2.05"/>
<path d="M1863.97 398.09 L1876.89 376.55" stroke="#dadada" stroke-width="2.05"/>
<path d="M1796.14 401.32 L1811.22 411.01" stroke="#dadada" stroke-width="2.05"/>
<path d="M1820.91 249.51 L1813.37 264.58 L1814.45 285.04 L1806.91 306.57" stroke="#dadada" stroke-width="2.05"/>
<path d="M1629.26 249.51 L1623.88 260.27" stroke="#b5b5b5" stroke-width="2.05"/>
<path d="M1631.42 331.33 L1629.26 343.18" stroke="#b5b5b5" stroke-width="2.05"/>
<path d="M1688.48 288.27 L1697.09 295.8" stroke="#b5b5b5" stroke-width="2.05"/>
<path d="M1876.89 376.55 L1870.43 362.56" stroke="#b5b5b5" stroke-width="2.05"/>
<path d="M1792.91 392.7 L1796.14 401.32" stroke="#b5b5b5" stroke-width="2.05"/>
<path d="M1804.76 280.73 L1812.29 283.96" stroke="#b5b5b5" stroke-width="2.05"/>
<path d="M1670.18 271.04 L1664.79 282.88" stroke="#e8c651" stroke-width="2.05"/>
<path d="M1664.79 282.88 L1658.33 295.8" stroke="#fafafa" stroke-width="2.05"/>
<path d="M1705.06 336.72 L1708.94 348.56 L1698.17 355.02" stroke="#e8c651" stroke-width="2.05"/>
<path d="M1698.17 355.02 L1683.1 363.63" stroke="#fafafa" stroke-width="2.05"/>
<path d="M1753.08 318.41 L1749.85 325.95" stroke="#f06c6c" stroke-width="2.05"/>
<path d="M1749.85 325.95 L1741.24 334.56" stroke="#dadada" stroke-width="2.05"/>
<path d="M1573.81 404.01 L1564.66 409.93" stroke="#f06c6c" stroke-width="2.05"/>
<path d="M1857.51 428.23 L1849.98 434.69 L1843.52 427.16" stroke="#4755f2" stroke-width="2.05"/>
<path d="M1807.99 408.85 L1813.37 412.08" stroke="#f06c6c" stroke-width="2.05"/>
<path d="M1615.6 119.94 L1626 109.54 L1645.85 119.94 L1646.8 138.85 L1629.78 134.12 L1615.6 119.94" stroke="#8a93ea" stroke-width="2.35"/>
<path d="M1620.4 114.35 L1615.67 120.02 L1622.29 126.64" stroke="#4755f2" stroke-width="2"/>
<path d="M1646.87 131.37 L1646.87 138.93 L1638.36 136.66" stroke="#4755f2" stroke-width="2"/>
<path d="M1645.85 119.94 L1664.76 119.94 L1682.72 104.81 L1697.85 119.94 L1709.19 138.85 L1715.81 149.25 L1704.46 176.66 L1708.25 189.9 L1692.18 199.35" stroke="#8a93ea" stroke-width="2.35"/>
<path d="M1678.94 79.29 L1682.72 104.81" stroke="#8a93ea" stroke-width="2.35"/>
<path d="M1679.01 79.37 L1680.9 91.66" stroke="#4755f2" stroke-width="2"/>
<path d="M1702.64 128.53 L1709.26 138.93 L1713.04 144.98" stroke="#4755f2" stroke-width="2"/>
<path d="M1682.72 104.81 L1694.07 109.54" stroke="#f06c6c" stroke-width="2.35"/>
<path d="M1704.46 176.66 L1697.85 182.33" stroke="#f06c6c" stroke-width="2.35"/>
<path d="M1692.18 178.55 L1705.41 184.22" stroke="#8a93ea" stroke-width="2.35"/>
<path d="M1692.18 199.35 L1677.05 205.97" stroke="#f06c6c" stroke-width="2.35"/>
<path d="M1708.25 189.9 L1699.74 193.68" stroke="#4755f2" stroke-width="2.35"/>
<path d="M1708.25 189.9 L1711.08 210.69 L1719.59 216.37" stroke="#8a93ea" stroke-width="2.35"/>
<path d="M1719.59 216.37 L1729.04 222.04" stroke="#f06c6c" stroke-width="2.35"/>
<path d="M1760.24 222.98 L1759.86 232.44" stroke="#f06c6c" stroke-width="2.35"/>
<path d="M1759.86 232.44 L1758.35 238.11 L1752.68 245.67" stroke="#48ec48" stroke-width="2.35"/>
<path d="M1758.35 238.11 L1785.77 233.38 L1796.16 212.58" stroke="#48ec48" stroke-width="2.35"/>
<path d="M1729.99 252.29 L1711.08 262.69 L1708.25 291.99 L1726.21 288.21 L1729.99 252.29" stroke="#48ec48" stroke-width="2.35"/>
<path d="M1708.25 291.99 L1687.45 284.43" stroke="#48ec48" stroke-width="2.35"/>
<path d="M1708.25 291.99 L1690.28 299.37" stroke="#48ec48" stroke-width="2.35"/>
<path d="M1767.8 236.22 L1763.08 249.45" stroke="#2fc42f" stroke-width="2.35"/>
<path d="M1752.68 245.67 L1745.12 254.18 L1738.5 253.23" stroke="#f06c6c" stroke-width="2.35"/>
<path d="M1738.5 253.23 L1729.99 252.29" stroke="#48ec48" stroke-width="2.35"/>
<path d="M1708.88 294.66 L1689.5 295.73 L1687.34 320.5 L1700.26 321.57 L1704.57 294.66" stroke="#48ec48" stroke-width="2.35"/>
<path d="M1687.34 320.5 L1680.88 352.8 L1695.96 365.72 L1698.11 322.65" stroke="#48ec48" stroke-width="2.35"/>
<path d="M1680.88 352.8 L1678.73 366.79 L1657.2 366.79" stroke="#48ec48" stroke-width="2.35"/>
<path d="M1678.73 366.79 L1689.5 390.48 L1695.96 365.72" stroke="#48ec48" stroke-width="2.35"/>
<path d="M1689.5 390.48 L1677.65 415.24 L1653.97 418.47" stroke="#48ec48" stroke-width="2.35"/>
<path d="M1677.65 415.24 L1680.88 420.62 L1703.49 417.39 L1720.72 432.47 L1744.41 428.16 L1751.94 403.4" stroke="#48ec48" stroke-width="2.35"/>
<path d="M1744.41 428.16 L1747.64 437.85" stroke="#48ec48" stroke-width="2.35"/>
</g>
<line x1="1711.55" y1="189.51" x2="1771.11" y2="179.12" stroke="#111" stroke-width="2.6" stroke-dasharray="3.6 2.8" stroke-linecap="butt"/>
<line x1="1754.09" y1="138.46" x2="1743.69" y2="181.01" stroke="#111" stroke-width="2.6" stroke-dasharray="3.6 2.8" stroke-linecap="butt"/>
<line x1="1740.86" y1="196.13" x2="1729.51" y2="221.66" stroke="#111" stroke-width="2.6" stroke-dasharray="3.6 2.8" stroke-linecap="butt"/>
<line x1="1743.69" y1="198.97" x2="1760.71" y2="222.6" stroke="#111" stroke-width="2.6" stroke-dasharray="3.6 2.8" stroke-linecap="butt"/>
<line x1="1770.16" y1="181.01" x2="1762.6" y2="220.71" stroke="#111" stroke-width="2.6" stroke-dasharray="3.6 2.8" stroke-linecap="butt"/>
<line x1="1767.33" y1="221.66" x2="1796.63" y2="210.31" stroke="#111" stroke-width="2.6" stroke-dasharray="3.6 2.8" stroke-linecap="butt"/>
<line x1="1729.51" y1="224.49" x2="1745.59" y2="252.85" stroke="#111" stroke-width="2.6" stroke-dasharray="3.6 2.8" stroke-linecap="butt"/>
<line x1="1766.38" y1="202.75" x2="1892.12" y2="285.94" stroke="#000000" stroke-width="3" stroke-linecap="butt" />
<text x="1656.15" y="100.65" font-size="32.5" font-weight="bold" text-anchor="middle" fill="#000000" >H</text>
<text x="1684.14" y="163.04" font-size="32.5" font-weight="bold" text-anchor="middle" fill="#000000" >G</text>
<text x="1656.15" y="208.42" font-size="32.5" font-weight="bold" text-anchor="middle" fill="#000000" >A</text>
<text x="1697.37" y="238.67" font-size="32.5" font-weight="bold" text-anchor="middle" fill="#000000" >S</text>
<text x="1798.53" y="137.52" font-size="32.5" font-weight="bold" text-anchor="middle" fill="#000000" >S</text>
<text x="1818.38" y="185.73" font-size="32.5" font-weight="bold" text-anchor="middle" fill="#000000" >H</text>
<text x="1763" y="305.3" font-size="28" font-weight="bold" text-anchor="start" fill="#000000" >3.5 &#197; with &#183;OH</text>
<text x="-0.5" y="538.6" font-size="41" font-weight="bold" text-anchor="start" fill="#000000" >b</text>
<circle cx="288" cy="556.5" r="5.95" fill="none" stroke="#9c9c9f" stroke-width="3.6"/>
<polygon points="320.3,552.7 325.08,561.47 315.52,561.47" fill="none" stroke="#fe0000" stroke-width="3.4" stroke-linejoin="round"/>
<polygon points="351.3,560.3 356.08,551.53 346.52,551.53" fill="none" stroke="#fe0000" stroke-width="3.4" stroke-linejoin="round"/>
<polygon points="382.5,552.7 387.28,561.47 377.72,561.47" fill="#fe0000" stroke="#fe0000" stroke-width="3.4" stroke-linejoin="round"/>
<polygon points="381.3,560.1 383.7,560.1 382.5,557.1" fill="white"/>
<polygon points="412.8,560.3 417.58,551.53 408.02,551.53" fill="#fe0000" stroke="#fe0000" stroke-width="3.4" stroke-linejoin="round"/>
<polygon points="411.6,552.9 414,552.9 412.8,555.9" fill="white"/>
<text x="445.5" y="565" font-size="27" text-anchor="start" fill="#fe0000" >with PNPB</text>
<circle cx="637" cy="556.5" r="5.75" fill="none" stroke="#000000" stroke-width="4"/>
<polygon points="669,550.5 675,556.5 669,562.5 663,556.5" fill="#56a0f8"/>
<rect x="694.7" y="551" width="11" height="11" fill="#56a0f8" stroke="none" stroke-width="0"/>
<polygon points="731,551.25 736.25,556.5 731,561.75 725.75,556.5" fill="#56a0f8"/>
<rect x="755.4" y="551.2" width="10.6" height="10.6" fill="none" stroke="#56a0f8" stroke-width="2.4"/>
<circle cx="760.7" cy="556.5" r="2.1" fill="#56a0f8"/>
<text x="794.5" y="565" font-size="27" text-anchor="start" fill="#56a0f8" >with PNPB+&#183;OH</text>
<text x="62.5" y="735" font-size="28.8" text-anchor="middle" fill="#000000" transform="rotate(-90 62.5 735)" >PNPB</text>
<text x="98.5" y="737" font-size="28.8" text-anchor="middle" fill="#000000" transform="rotate(-90 98.5 737)" >hydrolase activity (OD)</text>
<line x1="180" y1="598.7" x2="180" y2="865.3" stroke="#000000" stroke-width="3.6" stroke-linecap="butt" />
<line x1="178.2" y1="863.5" x2="575.5" y2="863.5" stroke="#000000" stroke-width="3.6" stroke-linecap="butt" />
<line x1="169" y1="863.5" x2="180" y2="863.5" stroke="#000000" stroke-width="3.2" stroke-linecap="butt" />
<text x="158" y="871.3" font-size="25.5" text-anchor="end" fill="#000000" >0.0</text>
<line x1="169" y1="810.9" x2="180" y2="810.9" stroke="#000000" stroke-width="3.2" stroke-linecap="butt" />
<text x="158" y="818.7" font-size="25.5" text-anchor="end" fill="#000000" >0.5</text>
<line x1="169" y1="758.3" x2="180" y2="758.3" stroke="#000000" stroke-width="3.2" stroke-linecap="butt" />
<text x="158" y="766.1" font-size="25.5" text-anchor="end" fill="#000000" >1.0</text>
<line x1="169" y1="705.7" x2="180" y2="705.7" stroke="#000000" stroke-width="3.2" stroke-linecap="butt" />
<text x="158" y="713.5" font-size="25.5" text-anchor="end" fill="#000000" >1.5</text>
<line x1="169" y1="653.1" x2="180" y2="653.1" stroke="#000000" stroke-width="3.2" stroke-linecap="butt" />
<text x="158" y="660.9" font-size="25.5" text-anchor="end" fill="#000000" >2.0</text>
<line x1="169" y1="600.5" x2="180" y2="600.5" stroke="#000000" stroke-width="3.2" stroke-linecap="butt" />
<text x="158" y="608.3" font-size="25.5" text-anchor="end" fill="#000000" >2.5</text>
<line x1="205" y1="863.5" x2="205" y2="873" stroke="#000000" stroke-width="3.2" stroke-linecap="butt" />
<text x="206" y="895" font-size="27" text-anchor="end" fill="#000000" transform="rotate(-45 206 895)" >PNPB</text>
<line x1="243.1" y1="863.5" x2="243.1" y2="873" stroke="#000000" stroke-width="3.2" stroke-linecap="butt" />
<text x="244.1" y="895" font-size="27" text-anchor="end" fill="#000000" transform="rotate(-45 244.1 895)" >PNPB+&#183;OH</text>
<line x1="281.2" y1="863.5" x2="281.2" y2="873" stroke="#000000" stroke-width="3.2" stroke-linecap="butt" />
<text x="282.2" y="895" font-size="27" text-anchor="end" fill="#000000" transform="rotate(-45 282.2 895)" >CES2</text>
<line x1="319.3" y1="863.5" x2="319.3" y2="873" stroke="#000000" stroke-width="3.2" stroke-linecap="butt" />
<text x="320.3" y="895" font-size="27" text-anchor="end" fill="#000000" transform="rotate(-45 320.3 895)" >Ces2h</text>
<line x1="357.4" y1="863.5" x2="357.4" y2="873" stroke="#000000" stroke-width="3.2" stroke-linecap="butt" />
<text x="358.4" y="895" font-size="27" text-anchor="end" fill="#000000" transform="rotate(-45 358.4 895)" >CES2</text>
<line x1="395.5" y1="863.5" x2="395.5" y2="873" stroke="#000000" stroke-width="3.2" stroke-linecap="butt" />
<text x="396.5" y="895" font-size="27" text-anchor="end" fill="#000000" transform="rotate(-45 396.5 895)" >Ces2h</text>
<line x1="433.6" y1="863.5" x2="433.6" y2="873" stroke="#000000" stroke-width="3.2" stroke-linecap="butt" />
<text x="446.1" y="895" font-size="27" text-anchor="end" fill="#000000" transform="rotate(-45 446.1 895)" >CES2<tspan font-size="16" dy="-10">p.G193A</tspan><tspan dy="10" font-size="1">&#8203;</tspan></text>
<line x1="471.7" y1="863.5" x2="471.7" y2="873" stroke="#000000" stroke-width="3.2" stroke-linecap="butt" />
<text x="484.2" y="895" font-size="27" text-anchor="end" fill="#000000" transform="rotate(-45 484.2 895)" >Ces2h<tspan font-size="16" dy="-10">p.G148A</tspan><tspan dy="10" font-size="1">&#8203;</tspan></text>
<line x1="509.8" y1="863.5" x2="509.8" y2="873" stroke="#000000" stroke-width="3.2" stroke-linecap="butt" />
<text x="522.3" y="895" font-size="27" text-anchor="end" fill="#000000" transform="rotate(-45 522.3 895)" >CES2<tspan font-size="16" dy="-10">p.G193A</tspan><tspan dy="10" font-size="1">&#8203;</tspan></text>
<line x1="547.9" y1="863.5" x2="547.9" y2="873" stroke="#000000" stroke-width="3.2" stroke-linecap="butt" />
<text x="560.4" y="895" font-size="27" text-anchor="end" fill="#000000" transform="rotate(-45 560.4 895)" >Ces2h<tspan font-size="16" dy="-10">p.G148A</tspan><tspan dy="10" font-size="1">&#8203;</tspan></text>
<circle cx="197.58" cy="862.67" r="5" fill="#a3a3a6"/>
<circle cx="203.09" cy="862.67" r="5" fill="#a3a3a6"/>
<circle cx="208.61" cy="862.67" r="5" fill="#a3a3a6"/>
<circle cx="213.02" cy="862.67" r="5" fill="#a3a3a6"/>
<circle cx="236.18" cy="858.7" r="5" fill="#000"/>
<circle cx="243.9" cy="855.83" r="5" fill="#000"/>
<circle cx="246.11" cy="860.9" r="5" fill="#000"/>
<circle cx="251.62" cy="861.78" r="5" fill="#000"/>
<circle cx="240.59" cy="861.78" r="5" fill="#000"/>
<line x1="319.3" y1="748.39" x2="319.3" y2="764.28" stroke="#fe0000" stroke-width="2.2" stroke-linecap="butt" />
<line x1="313.3" y1="748.39" x2="325.3" y2="748.39" stroke="#fe0000" stroke-width="2.2" stroke-linecap="butt" />
<line x1="357.4" y1="665.01" x2="357.4" y2="710.23" stroke="#56a0f8" stroke-width="2.2" stroke-linecap="butt" />
<line x1="351.4" y1="665.01" x2="363.4" y2="665.01" stroke="#56a0f8" stroke-width="2.2" stroke-linecap="butt" />
<line x1="351.4" y1="710.23" x2="363.4" y2="710.23" stroke="#56a0f8" stroke-width="2.2" stroke-linecap="butt" />
<line x1="395.5" y1="668.98" x2="395.5" y2="724.13" stroke="#56a0f8" stroke-width="2.2" stroke-linecap="butt" />
<line x1="389.5" y1="668.98" x2="401.5" y2="668.98" stroke="#56a0f8" stroke-width="2.2" stroke-linecap="butt" />
<line x1="389.5" y1="724.13" x2="401.5" y2="724.13" stroke="#56a0f8" stroke-width="2.2" stroke-linecap="butt" />
<line x1="471.7" y1="789.65" x2="471.7" y2="829.36" stroke="#fe0000" stroke-width="2.2" stroke-linecap="butt" />
<line x1="465.7" y1="789.65" x2="477.7" y2="789.65" stroke="#fe0000" stroke-width="2.2" stroke-linecap="butt" />
<line x1="465.7" y1="829.36" x2="477.7" y2="829.36" stroke="#fe0000" stroke-width="2.2" stroke-linecap="butt" />
<polygon points="281.41,732.4 286.15,741.13 276.67,741.13" fill="none" stroke="#fe0000" stroke-width="2.2" stroke-linejoin="round"/>
<polygon points="278.1,743.43 282.84,752.16 273.36,752.16" fill="none" stroke="#fe0000" stroke-width="2.2" stroke-linejoin="round"/>
<polygon points="284.71,751.15 289.45,759.88 279.97,759.88" fill="none" stroke="#fe0000" stroke-width="2.2" stroke-linejoin="round"/>
<polygon points="274.79,761.08 279.53,769.81 270.05,769.81" fill="none" stroke="#fe0000" stroke-width="2.2" stroke-linejoin="round"/>
<polygon points="280.3,767.7 285.04,776.42 275.56,776.42" fill="none" stroke="#fe0000" stroke-width="2.2" stroke-linejoin="round"/>
<polygon points="288.02,774.32 292.76,783.04 283.28,783.04" fill="none" stroke="#fe0000" stroke-width="2.2" stroke-linejoin="round"/>
<polygon points="319.57,741 324.31,732.28 314.83,732.28" fill="none" stroke="#fe0000" stroke-width="2.2" stroke-linejoin="round"/>
<polygon points="313.39,763.06 318.13,754.34 308.65,754.34" fill="none" stroke="#fe0000" stroke-width="2.2" stroke-linejoin="round"/>
<polygon points="320.01,767.47 324.75,758.75 315.27,758.75" fill="none" stroke="#fe0000" stroke-width="2.2" stroke-linejoin="round"/>
<polygon points="326.63,770.78 331.37,762.06 321.89,762.06" fill="none" stroke="#fe0000" stroke-width="2.2" stroke-linejoin="round"/>
<polygon points="316.7,777.4 321.44,768.68 311.96,768.68" fill="none" stroke="#fe0000" stroke-width="2.2" stroke-linejoin="round"/>
<polygon points="322.22,789.53 326.96,780.81 317.48,780.81" fill="none" stroke="#fe0000" stroke-width="2.2" stroke-linejoin="round"/>
<polygon points="363.69,654.78 369.94,661.03 363.69,667.28 357.44,661.03" fill="#56a0f8"/>
<polygon points="352,663.17 358.25,669.42 352,675.67 345.75,669.42" fill="#56a0f8"/>
<polygon points="352,675.3 358.25,681.55 352,687.8 345.75,681.55" fill="#56a0f8"/>
<polygon points="364.13,679.71 370.38,685.96 364.13,692.21 357.88,685.96" fill="#56a0f8"/>
<polygon points="357.51,697.36 363.76,703.61 357.51,709.86 351.26,703.61" fill="#56a0f8"/>
<polygon points="357.51,717.22 363.76,723.47 357.51,729.72 351.26,723.47" fill="#56a0f8"/>
<rect x="390.62" y="651.78" width="11" height="11" fill="#56a0f8" stroke="none" stroke-width="0"/>
<rect x="384" y="679.36" width="11" height="11" fill="#56a0f8" stroke="none" stroke-width="0"/>
<rect x="389.52" y="683.77" width="11" height="11" fill="#56a0f8" stroke="none" stroke-width="0"/>
<rect x="396.13" y="689.29" width="11" height="11" fill="#56a0f8" stroke="none" stroke-width="0"/>
<rect x="387.31" y="714.66" width="11" height="11" fill="#56a0f8" stroke="none" stroke-width="0"/>
<rect x="393.27" y="729" width="11" height="11" fill="#56a0f8" stroke="none" stroke-width="0"/>
<polygon points="435.83,786.45 440.57,795.18 431.09,795.18" fill="#fe0000" stroke="#fe0000" stroke-width="2.2" stroke-linejoin="round"/>
<polygon points="432.52,791.97 437.26,800.69 427.78,800.69" fill="#fe0000" stroke="#fe0000" stroke-width="2.2" stroke-linejoin="round"/>
<polygon points="428.11,797.48 432.85,806.21 423.37,806.21" fill="#fe0000" stroke="#fe0000" stroke-width="2.2" stroke-linejoin="round"/>
<polygon points="433.62,800.79 438.36,809.51 428.88,809.51" fill="#fe0000" stroke="#fe0000" stroke-width="2.2" stroke-linejoin="round"/>
<polygon points="431.42,806.3 436.16,815.03 426.68,815.03" fill="#fe0000" stroke="#fe0000" stroke-width="2.2" stroke-linejoin="round"/>
<polygon points="439.14,807.41 443.88,816.13 434.4,816.13" fill="#fe0000" stroke="#fe0000" stroke-width="2.2" stroke-linejoin="round"/>
<polygon points="474.43,793.95 479.17,785.22 469.69,785.22" fill="#fe0000" stroke="#fe0000" stroke-width="2.2" stroke-linejoin="round"/>
<polygon points="470.02,798.36 474.76,789.63 465.28,789.63" fill="#fe0000" stroke="#fe0000" stroke-width="2.2" stroke-linejoin="round"/>
<polygon points="465.61,819.32 470.35,810.59 460.87,810.59" fill="#fe0000" stroke="#fe0000" stroke-width="2.2" stroke-linejoin="round"/>
<polygon points="471.13,824.83 475.87,816.11 466.39,816.11" fill="#fe0000" stroke="#fe0000" stroke-width="2.2" stroke-linejoin="round"/>
<polygon points="473.33,831.45 478.07,822.72 468.59,822.72" fill="#fe0000" stroke="#fe0000" stroke-width="2.2" stroke-linejoin="round"/>
<polygon points="478.85,833.66 483.59,824.93 474.11,824.93" fill="#fe0000" stroke="#fe0000" stroke-width="2.2" stroke-linejoin="round"/>
<polygon points="515.25,770.35 520.21,775.31 515.25,780.27 510.29,775.31" fill="none" stroke="#56a0f8" stroke-width="2.2"/>
<circle cx="515.25" cy="775.31" r="1.6" fill="#56a0f8"/>
<polygon points="504.22,772.55 509.18,777.51 504.22,782.47 499.26,777.51" fill="none" stroke="#56a0f8" stroke-width="2.2"/>
<circle cx="504.22" cy="777.51" r="1.6" fill="#56a0f8"/>
<polygon points="509.73,779.17 514.69,784.13 509.73,789.09 504.77,784.13" fill="none" stroke="#56a0f8" stroke-width="2.2"/>
<circle cx="509.73" cy="784.13" r="1.6" fill="#56a0f8"/>
<polygon points="503.11,785.79 508.07,790.75 503.11,795.71 498.15,790.75" fill="none" stroke="#56a0f8" stroke-width="2.2"/>
<circle cx="503.11" cy="790.75" r="1.6" fill="#56a0f8"/>
<polygon points="508.63,789.1 513.59,794.06 508.63,799.02 503.67,794.06" fill="none" stroke="#56a0f8" stroke-width="2.2"/>
<circle cx="508.63" cy="794.06" r="1.6" fill="#56a0f8"/>
<polygon points="515.25,800.13 520.21,805.09 515.25,810.05 510.29,805.09" fill="none" stroke="#56a0f8" stroke-width="2.2"/>
<circle cx="515.25" cy="805.09" r="1.6" fill="#56a0f8"/>
<rect x="550.05" y="770.41" width="9.8" height="9.8" fill="none" stroke="#56a0f8" stroke-width="2.2"/>
<circle cx="554.95" cy="775.31" r="2.1" fill="#56a0f8"/>
<rect x="537.92" y="773.72" width="9.8" height="9.8" fill="none" stroke="#56a0f8" stroke-width="2.2"/>
<circle cx="542.82" cy="778.62" r="2.1" fill="#56a0f8"/>
<rect x="543.44" y="779.23" width="9.8" height="9.8" fill="none" stroke="#56a0f8" stroke-width="2.2"/>
<circle cx="548.34" cy="784.13" r="2.1" fill="#56a0f8"/>
<rect x="536.82" y="794.67" width="9.8" height="9.8" fill="none" stroke="#56a0f8" stroke-width="2.2"/>
<circle cx="541.72" cy="799.57" r="2.1" fill="#56a0f8"/>
<rect x="543.44" y="796.88" width="9.8" height="9.8" fill="none" stroke="#56a0f8" stroke-width="2.2"/>
<circle cx="548.34" cy="801.78" r="2.1" fill="#56a0f8"/>
<rect x="550.05" y="803.5" width="9.8" height="9.8" fill="none" stroke="#56a0f8" stroke-width="2.2"/>
<circle cx="554.95" cy="808.4" r="2.1" fill="#56a0f8"/>
<line x1="268.2" y1="758.32" x2="294.2" y2="758.32" stroke="#000000" stroke-width="3" stroke-linecap="butt" />
<line x1="306.3" y1="764.28" x2="332.3" y2="764.28" stroke="#000000" stroke-width="3" stroke-linecap="butt" />
<line x1="344.4" y1="687.07" x2="370.4" y2="687.07" stroke="#000000" stroke-width="3" stroke-linecap="butt" />
<line x1="382.5" y1="697.43" x2="408.5" y2="697.43" stroke="#000000" stroke-width="3" stroke-linecap="butt" />
<line x1="420.6" y1="802.44" x2="446.6" y2="802.44" stroke="#000000" stroke-width="3" stroke-linecap="butt" />
<line x1="458.7" y1="813.25" x2="484.7" y2="813.25" stroke="#000000" stroke-width="3" stroke-linecap="butt" />
<line x1="496.8" y1="787" x2="522.8" y2="787" stroke="#000000" stroke-width="3" stroke-linecap="butt" />
<line x1="534.9" y1="790.75" x2="560.9" y2="790.75" stroke="#000000" stroke-width="3" stroke-linecap="butt" />
<text x="209.27" y="845.9" font-size="28" font-weight="bold" text-anchor="middle" fill="#000000" >e</text>
<text x="247.21" y="841.05" font-size="28" font-weight="bold" text-anchor="middle" fill="#000000" >e</text>
<text x="286.92" y="723.47" font-size="28" font-weight="bold" text-anchor="middle" fill="#000000" >b</text>
<text x="327.07" y="723.47" font-size="28" font-weight="bold" text-anchor="middle" fill="#000000" >bc</text>
<text x="360.16" y="646.25" font-size="28" font-weight="bold" text-anchor="middle" fill="#000000" >a</text>
<text x="399.43" y="642.28" font-size="28" font-weight="bold" text-anchor="middle" fill="#000000" >a</text>
<text x="438.7" y="775.31" font-size="28" font-weight="bold" text-anchor="middle" fill="#000000" >d</text>
<text x="474.43" y="776.41" font-size="28" font-weight="bold" text-anchor="middle" fill="#000000" >d</text>
<text x="511.5" y="746.63" font-size="28" font-weight="bold" text-anchor="middle" fill="#000000" >bcd</text>
<text x="554.29" y="763.17" font-size="28" font-weight="bold" text-anchor="middle" fill="#000000" >cd</text>
<text x="644" y="741.5" font-size="28.8" text-anchor="middle" fill="#000000" transform="rotate(-90 644 741.5)" >&#183;OH concentration (MFI)</text>
<line x1="727.7" y1="599.2" x2="727.7" y2="865.8" stroke="#000000" stroke-width="3.6" stroke-linecap="butt" />
<line x1="725.9" y1="864" x2="1121" y2="864" stroke="#000000" stroke-width="3.6" stroke-linecap="butt" />
<line x1="716.7" y1="864" x2="727.7" y2="864" stroke="#000000" stroke-width="3.2" stroke-linecap="butt" />
<text x="710" y="874.8" font-size="25.5" text-anchor="end" fill="#000000" >0</text>
<line x1="716.7" y1="811.4" x2="727.7" y2="811.4" stroke="#000000" stroke-width="3.2" stroke-linecap="butt" />
<text x="710" y="822.2" font-size="25.5" text-anchor="end" fill="#000000" >200</text>
<line x1="716.7" y1="758.8" x2="727.7" y2="758.8" stroke="#000000" stroke-width="3.2" stroke-linecap="butt" />
<text x="710" y="769.6" font-size="25.5" text-anchor="end" fill="#000000" >400</text>
<line x1="716.7" y1="706.2" x2="727.7" y2="706.2" stroke="#000000" stroke-width="3.2" stroke-linecap="butt" />
<text x="710" y="717" font-size="25.5" text-anchor="end" fill="#000000" >600</text>
<line x1="716.7" y1="653.6" x2="727.7" y2="653.6" stroke="#000000" stroke-width="3.2" stroke-linecap="butt" />
<text x="710" y="664.4" font-size="25.5" text-anchor="end" fill="#000000" >800</text>
<line x1="716.7" y1="601" x2="727.7" y2="601" stroke="#000000" stroke-width="3.2" stroke-linecap="butt" />
<text x="710" y="611.8" font-size="25.5" text-anchor="end" fill="#000000" >1000</text>
<line x1="752" y1="864" x2="752" y2="873.5" stroke="#000000" stroke-width="3.2" stroke-linecap="butt" />
<text x="753" y="895.5" font-size="27" text-anchor="end" fill="#000000" transform="rotate(-45 753 895.5)" >PNPB</text>
<line x1="789.95" y1="864" x2="789.95" y2="873.5" stroke="#000000" stroke-width="3.2" stroke-linecap="butt" />
<text x="790.95" y="895.5" font-size="27" text-anchor="end" fill="#000000" transform="rotate(-45 790.95 895.5)" >PNPB+&#183;OH</text>
<line x1="827.9" y1="864" x2="827.9" y2="873.5" stroke="#000000" stroke-width="3.2" stroke-linecap="butt" />
<text x="828.9" y="895.5" font-size="27" text-anchor="end" fill="#000000" transform="rotate(-45 828.9 895.5)" >CES2</text>
<line x1="865.85" y1="864" x2="865.85" y2="873.5" stroke="#000000" stroke-width="3.2" stroke-linecap="butt" />
<text x="866.85" y="895.5" font-size="27" text-anchor="end" fill="#000000" transform="rotate(-45 866.85 895.5)" >Ces2h</text>
<line x1="903.8" y1="864" x2="903.8" y2="873.5" stroke="#000000" stroke-width="3.2" stroke-linecap="butt" />
<text x="904.8" y="895.5" font-size="27" text-anchor="end" fill="#000000" transform="rotate(-45 904.8 895.5)" >CES2</text>
<line x1="941.75" y1="864" x2="941.75" y2="873.5" stroke="#000000" stroke-width="3.2" stroke-linecap="butt" />
<text x="942.75" y="895.5" font-size="27" text-anchor="end" fill="#000000" transform="rotate(-45 942.75 895.5)" >Ces2h</text>
<line x1="979.7" y1="864" x2="979.7" y2="873.5" stroke="#000000" stroke-width="3.2" stroke-linecap="butt" />
<text x="992.2" y="895.5" font-size="27" text-anchor="end" fill="#000000" transform="rotate(-45 992.2 895.5)" >CES2<tspan font-size="16" dy="-10">p.G193A</tspan><tspan dy="10" font-size="1">&#8203;</tspan></text>
<line x1="1017.65" y1="864" x2="1017.65" y2="873.5" stroke="#000000" stroke-width="3.2" stroke-linecap="butt" />
<text x="1030.15" y="895.5" font-size="27" text-anchor="end" fill="#000000" transform="rotate(-45 1030.15 895.5)" >Ces2h<tspan font-size="16" dy="-10">p.G148A</tspan><tspan dy="10" font-size="1">&#8203;</tspan></text>
<line x1="1055.6" y1="864" x2="1055.6" y2="873.5" stroke="#000000" stroke-width="3.2" stroke-linecap="butt" />
<text x="1068.1" y="895.5" font-size="27" text-anchor="end" fill="#000000" transform="rotate(-45 1068.1 895.5)" >CES2<tspan font-size="16" dy="-10">p.G193A</tspan><tspan dy="10" font-size="1">&#8203;</tspan></text>
<line x1="1093.55" y1="864" x2="1093.55" y2="873.5" stroke="#000000" stroke-width="3.2" stroke-linecap="butt" />
<text x="1106.05" y="895.5" font-size="27" text-anchor="end" fill="#000000" transform="rotate(-45 1106.05 895.5)" >Ces2h<tspan font-size="16" dy="-10">p.G148A</tspan><tspan dy="10" font-size="1">&#8203;</tspan></text>
<circle cx="743.87" cy="863.36" r="4.6" fill="#a3a3a6"/>
<circle cx="749.58" cy="863.36" r="4.6" fill="#a3a3a6"/>
<circle cx="755.29" cy="863.36" r="4.6" fill="#a3a3a6"/>
<circle cx="760.67" cy="863.36" r="4.6" fill="#a3a3a6"/>
<polygon points="820.7,856.25 826.95,867.81 814.45,867.81" fill="#fe0000"/>
<polygon points="824.3,859.25 830.55,870.81 818.05,870.81" fill="#fe0000"/>
<polygon points="827.9,856.25 834.15,867.81 821.65,867.81" fill="#fe0000"/>
<polygon points="831.5,859.25 837.75,870.81 825.25,870.81" fill="#fe0000"/>
<polygon points="835.1,856.25 841.35,867.81 828.85,867.81" fill="#fe0000"/>
<polygon points="829.7,859.25 835.95,870.81 823.45,870.81" fill="#fe0000"/>
<polygon points="858.65,868.25 864.9,856.69 852.4,856.69" fill="#fe0000"/>
<polygon points="862.25,871.25 868.5,859.69 856,859.69" fill="#fe0000"/>
<polygon points="865.85,868.25 872.1,856.69 859.6,856.69" fill="#fe0000"/>
<polygon points="869.45,871.25 875.7,859.69 863.2,859.69" fill="#fe0000"/>
<polygon points="873.05,868.25 879.3,856.69 866.8,856.69" fill="#fe0000"/>
<polygon points="867.65,871.25 873.9,859.69 861.4,859.69" fill="#fe0000"/>
<polygon points="972.5,856.25 978.75,867.81 966.25,867.81" fill="#fe0000"/>
<polygon points="976.1,859.25 982.35,870.81 969.85,870.81" fill="#fe0000"/>
<polygon points="979.7,856.25 985.95,867.81 973.45,867.81" fill="#fe0000"/>
<polygon points="983.3,859.25 989.55,870.81 977.05,870.81" fill="#fe0000"/>
<polygon points="986.9,856.25 993.15,867.81 980.65,867.81" fill="#fe0000"/>
<polygon points="981.5,859.25 987.75,870.81 975.25,870.81" fill="#fe0000"/>
<polygon points="1010.45,868.25 1016.7,856.69 1004.2,856.69" fill="#fe0000"/>
<polygon points="1014.05,871.25 1020.3,859.69 1007.8,859.69" fill="#fe0000"/>
<polygon points="1017.65,868.25 1023.9,856.69 1011.4,856.69" fill="#fe0000"/>
<polygon points="1021.25,871.25 1027.5,859.69 1015,859.69" fill="#fe0000"/>
<polygon points="1024.85,868.25 1031.1,856.69 1018.6,856.69" fill="#fe0000"/>
<polygon points="1019.45,871.25 1025.7,859.69 1013.2,859.69" fill="#fe0000"/>
<line x1="789.95" y1="627.06" x2="789.95" y2="650.59" stroke="#000000" stroke-width="2.2" stroke-linecap="butt" />
<line x1="783.95" y1="650.59" x2="795.95" y2="650.59" stroke="#000000" stroke-width="2.2" stroke-linecap="butt" />
<line x1="941.75" y1="763.19" x2="941.75" y2="786.39" stroke="#56a0f8" stroke-width="2.2" stroke-linecap="butt" />
<line x1="935.75" y1="763.19" x2="947.75" y2="763.19" stroke="#56a0f8" stroke-width="2.2" stroke-linecap="butt" />
<line x1="1093.55" y1="700.67" x2="1093.55" y2="715.13" stroke="#56a0f8" stroke-width="2.2" stroke-linecap="butt" />
<line x1="1087.55" y1="715.13" x2="1099.55" y2="715.13" stroke="#56a0f8" stroke-width="2.2" stroke-linecap="butt" />
<circle cx="784.2" cy="620.34" r="5.2" fill="#000"/>
<circle cx="795.97" cy="620.34" r="5.2" fill="#000"/>
<circle cx="790.92" cy="631.76" r="5.2" fill="#000"/>
<circle cx="784.2" cy="644.54" r="5.2" fill="#000"/>
<circle cx="790.92" cy="645.21" r="5.2" fill="#000"/>
<circle cx="796.64" cy="656.3" r="5.2" fill="#000"/>
<polygon points="899.16,791.23 905.41,797.48 899.16,803.73 892.91,797.48" fill="#56a0f8"/>
<polygon points="904.2,791.23 910.45,797.48 904.2,803.73 897.95,797.48" fill="#56a0f8"/>
<polygon points="909.24,797.95 915.49,804.2 909.24,810.45 902.99,804.2" fill="#56a0f8"/>
<rect x="936.35" y="739.21" width="11" height="11" fill="#56a0f8" stroke="none" stroke-width="0"/>
<rect x="934" y="773.49" width="11" height="11" fill="#56a0f8" stroke="none" stroke-width="0"/>
<rect x="940.72" y="779.54" width="11" height="11" fill="#56a0f8" stroke="none" stroke-width="0"/>
<rect x="932.32" y="793.66" width="11" height="11" fill="#56a0f8" stroke="none" stroke-width="0"/>
<rect x="942.4" y="800.38" width="11" height="11" fill="#56a0f8" stroke="none" stroke-width="0"/>
<polygon points="1062.18,698.4 1067.14,703.36 1062.18,708.32 1057.22,703.36" fill="none" stroke="#56a0f8" stroke-width="2.2"/>
<circle cx="1062.18" cy="703.36" r="1.6" fill="#56a0f8"/>
<polygon points="1050.42,701.76 1055.38,706.72 1050.42,711.68 1045.46,706.72" fill="none" stroke="#56a0f8" stroke-width="2.2"/>
<circle cx="1050.42" cy="706.72" r="1.6" fill="#56a0f8"/>
<polygon points="1057.14,707.48 1062.1,712.44 1057.14,717.4 1052.18,712.44" fill="none" stroke="#56a0f8" stroke-width="2.2"/>
<circle cx="1057.14" cy="712.44" r="1.6" fill="#56a0f8"/>
<polygon points="1050.42,716.89 1055.38,721.85 1050.42,726.81 1045.46,721.85" fill="none" stroke="#56a0f8" stroke-width="2.2"/>
<circle cx="1050.42" cy="721.85" r="1.6" fill="#56a0f8"/>
<polygon points="1062.18,723.61 1067.14,728.57 1062.18,733.53 1057.22,728.57" fill="none" stroke="#56a0f8" stroke-width="2.2"/>
<circle cx="1062.18" cy="728.57" r="1.6" fill="#56a0f8"/>
<polygon points="1055.46,719.58 1060.42,724.54 1055.46,729.5 1050.5,724.54" fill="none" stroke="#56a0f8" stroke-width="2.2"/>
<circle cx="1055.46" cy="724.54" r="1.6" fill="#56a0f8"/>
<polygon points="1061.18,712.86 1066.14,717.82 1061.18,722.78 1056.22,717.82" fill="none" stroke="#56a0f8" stroke-width="2.2"/>
<circle cx="1061.18" cy="717.82" r="1.6" fill="#56a0f8"/>
<rect x="1091.91" y="682.66" width="9.8" height="9.8" fill="none" stroke="#56a0f8" stroke-width="2.2"/>
<circle cx="1096.81" cy="687.56" r="2.1" fill="#56a0f8"/>
<rect x="1083.17" y="688.38" width="9.8" height="9.8" fill="none" stroke="#56a0f8" stroke-width="2.2"/>
<circle cx="1088.07" cy="693.28" r="2.1" fill="#56a0f8"/>
<rect x="1086.53" y="686.02" width="9.8" height="9.8" fill="none" stroke="#56a0f8" stroke-width="2.2"/>
<circle cx="1091.43" cy="690.92" r="2.1" fill="#56a0f8"/>
<rect x="1095.94" y="703.5" width="9.8" height="9.8" fill="none" stroke="#56a0f8" stroke-width="2.2"/>
<circle cx="1100.84" cy="708.4" r="2.1" fill="#56a0f8"/>
<rect x="1089.22" y="723.67" width="9.8" height="9.8" fill="none" stroke="#56a0f8" stroke-width="2.2"/>
<circle cx="1094.12" cy="728.57" r="2.1" fill="#56a0f8"/>
<line x1="776.95" y1="636.13" x2="802.95" y2="636.13" stroke="#000000" stroke-width="3" stroke-linecap="butt" />
<line x1="890.8" y1="799.16" x2="916.8" y2="799.16" stroke="#000000" stroke-width="3" stroke-linecap="butt" />
<line x1="928.75" y1="786.39" x2="954.75" y2="786.39" stroke="#000000" stroke-width="3" stroke-linecap="butt" />
<line x1="1042.6" y1="715.13" x2="1068.6" y2="715.13" stroke="#000000" stroke-width="3" stroke-linecap="butt" />
<line x1="1080.55" y1="700.67" x2="1106.55" y2="700.67" stroke="#000000" stroke-width="3" stroke-linecap="butt" />
<text x="756.3" y="847.23" font-size="28" font-weight="bold" text-anchor="middle" fill="#000000" >d</text>
<text x="794.96" y="604.2" font-size="28" font-weight="bold" text-anchor="middle" fill="#000000" >a</text>
<text x="831.93" y="847.23" font-size="28" font-weight="bold" text-anchor="middle" fill="#000000" >d</text>
<text x="869.58" y="847.23" font-size="28" font-weight="bold" text-anchor="middle" fill="#000000" >d</text>
<text x="908.24" y="781.68" font-size="28" font-weight="bold" text-anchor="middle" fill="#000000" >c</text>
<text x="944.54" y="730.25" font-size="28" font-weight="bold" text-anchor="middle" fill="#000000" >c</text>
<text x="982.52" y="847.23" font-size="28" font-weight="bold" text-anchor="middle" fill="#000000" >d</text>
<text x="1020.17" y="847.23" font-size="28" font-weight="bold" text-anchor="middle" fill="#000000" >d</text>
<text x="1058.82" y="688.91" font-size="28" font-weight="bold" text-anchor="middle" fill="#000000" >b</text>
<text x="1097.48" y="674.79" font-size="28" font-weight="bold" text-anchor="middle" fill="#000000" >b</text>
<text x="1267.3" y="538.8" font-size="41" font-weight="bold" text-anchor="start" fill="#000000" >c</text>
<text x="1698" y="553" font-size="36" font-weight="bold" text-anchor="middle" fill="#000000" >Static lipid analysis</text>
<text x="1331" y="768" font-size="30" text-anchor="middle" fill="#000000" transform="rotate(-90 1331 768)" >Cellular lipid (&#181;g/10<tspan font-size="19.5" dy="-12.5">6</tspan><tspan dy="12.5" font-size="1">&#8203;</tspan> cells)</text>
<rect x="1423" y="740.21" width="16.2" height="212.29" fill="#000000" stroke="none" stroke-width="0"/>
<line x1="1431.1" y1="730.19" x2="1431.1" y2="750.23" stroke="#000000" stroke-width="2" stroke-linecap="butt" />
<line x1="1427.1" y1="730.19" x2="1435.1" y2="730.19" stroke="#000000" stroke-width="2" stroke-linecap="butt" />
<line x1="1427.1" y1="750.23" x2="1435.1" y2="750.23" stroke="#000000" stroke-width="2" stroke-linecap="butt" />
<rect x="1444.95" y="814.96" width="16.2" height="137.54" fill="#fe0000" stroke="none" stroke-width="0"/>
<line x1="1453.05" y1="803" x2="1453.05" y2="826.92" stroke="#000000" stroke-width="2" stroke-linecap="butt" />
<line x1="1449.05" y1="803" x2="1457.05" y2="803" stroke="#000000" stroke-width="2" stroke-linecap="butt" />
<line x1="1449.05" y1="826.92" x2="1457.05" y2="826.92" stroke="#000000" stroke-width="2" stroke-linecap="butt" />
<rect x="1466.9" y="813.47" width="16.2" height="139.03" fill="#a1a1a5" stroke="none" stroke-width="0"/>
<line x1="1475" y1="805.99" x2="1475" y2="820.94" stroke="#000000" stroke-width="2" stroke-linecap="butt" />
<line x1="1471" y1="805.99" x2="1479" y2="805.99" stroke="#000000" stroke-width="2" stroke-linecap="butt" />
<line x1="1471" y1="820.94" x2="1479" y2="820.94" stroke="#000000" stroke-width="2" stroke-linecap="butt" />
<rect x="1488.85" y="822.43" width="16.2" height="130.07" fill="#56a0f8" stroke="none" stroke-width="0"/>
<line x1="1496.95" y1="811.97" x2="1496.95" y2="832.9" stroke="#000000" stroke-width="2" stroke-linecap="butt" />
<line x1="1492.95" y1="811.97" x2="1500.95" y2="811.97" stroke="#000000" stroke-width="2" stroke-linecap="butt" />
<line x1="1492.95" y1="832.9" x2="1500.95" y2="832.9" stroke="#000000" stroke-width="2" stroke-linecap="butt" />
<path d="M1512.4 952.5 V683.5 H1525.4 V952.5" fill="white" stroke="#000000" stroke-width="3.2"/>
<line x1="1518.9" y1="666.95" x2="1518.9" y2="696.86" stroke="#000000" stroke-width="2" stroke-linecap="butt" />
<line x1="1514.9" y1="666.95" x2="1522.9" y2="666.95" stroke="#000000" stroke-width="2" stroke-linecap="butt" />
<line x1="1514.9" y1="696.86" x2="1522.9" y2="696.86" stroke="#000000" stroke-width="2" stroke-linecap="butt" />
<path d="M1534.35 952.5 V686.5 H1547.35 V952.5" fill="white" stroke="#fe0000" stroke-width="3.2"/>
<line x1="1540.85" y1="671.44" x2="1540.85" y2="698.35" stroke="#fe0000" stroke-width="2" stroke-linecap="butt" />
<line x1="1536.85" y1="671.44" x2="1544.85" y2="671.44" stroke="#fe0000" stroke-width="2" stroke-linecap="butt" />
<line x1="1536.85" y1="698.35" x2="1544.85" y2="698.35" stroke="#fe0000" stroke-width="2" stroke-linecap="butt" />
<path d="M1556.3 952.5 V685 H1569.3 V952.5" fill="white" stroke="#a1a1a5" stroke-width="3.2"/>
<line x1="1562.8" y1="669.94" x2="1562.8" y2="696.86" stroke="#a1a1a5" stroke-width="2" stroke-linecap="butt" />
<line x1="1558.8" y1="669.94" x2="1566.8" y2="669.94" stroke="#a1a1a5" stroke-width="2" stroke-linecap="butt" />
<line x1="1558.8" y1="696.86" x2="1566.8" y2="696.86" stroke="#a1a1a5" stroke-width="2" stroke-linecap="butt" />
<path d="M1578.25 952.5 V685 H1591.25 V952.5" fill="white" stroke="#56a0f8" stroke-width="3.2"/>
<line x1="1584.75" y1="672.93" x2="1584.75" y2="693.87" stroke="#56a0f8" stroke-width="2" stroke-linecap="butt" />
<line x1="1580.75" y1="672.93" x2="1588.75" y2="672.93" stroke="#56a0f8" stroke-width="2" stroke-linecap="butt" />
<line x1="1580.75" y1="693.87" x2="1588.75" y2="693.87" stroke="#56a0f8" stroke-width="2" stroke-linecap="butt" />
<rect x="1614.2" y="946.52" width="16.2" height="5.98" fill="#000000" stroke="none" stroke-width="0"/>
<rect x="1636.15" y="948.76" width="16.2" height="3.74" fill="#fe0000" stroke="none" stroke-width="0"/>
<rect x="1658.1" y="949.51" width="16.2" height="2.99" fill="#a1a1a5" stroke="none" stroke-width="0"/>
<rect x="1680.05" y="949.51" width="16.2" height="2.99" fill="#56a0f8" stroke="none" stroke-width="0"/>
<path d="M1703.6 952.5 V939.9 H1716.6 V952.5" fill="white" stroke="#000000" stroke-width="3.2"/>
<path d="M1725.55 952.5 V941.39 H1738.55 V952.5" fill="white" stroke="#fe0000" stroke-width="3.2"/>
<path d="M1747.5 952.5 V940.64 H1760.5 V952.5" fill="white" stroke="#a1a1a5" stroke-width="3.2"/>
<path d="M1769.45 952.5 V940.64 H1782.45 V952.5" fill="white" stroke="#56a0f8" stroke-width="3.2"/>
<rect x="1804.9" y="711.36" width="16.2" height="241.14" fill="#000000" stroke="none" stroke-width="0"/>
<line x1="1813" y1="706.87" x2="1813" y2="715.84" stroke="#000000" stroke-width="2" stroke-linecap="butt" />
<line x1="1809" y1="706.87" x2="1817" y2="706.87" stroke="#000000" stroke-width="2" stroke-linecap="butt" />
<line x1="1809" y1="715.84" x2="1817" y2="715.84" stroke="#000000" stroke-width="2" stroke-linecap="butt" />
<rect x="1826.85" y="701.04" width="16.2" height="251.46" fill="#fe0000" stroke="none" stroke-width="0"/>
<line x1="1834.95" y1="684.6" x2="1834.95" y2="717.49" stroke="#000000" stroke-width="2" stroke-linecap="butt" />
<line x1="1830.95" y1="684.6" x2="1838.95" y2="684.6" stroke="#000000" stroke-width="2" stroke-linecap="butt" />
<line x1="1830.95" y1="717.49" x2="1838.95" y2="717.49" stroke="#000000" stroke-width="2" stroke-linecap="butt" />
<rect x="1848.8" y="713" width="16.2" height="239.5" fill="#a1a1a5" stroke="none" stroke-width="0"/>
<line x1="1856.9" y1="701.34" x2="1856.9" y2="724.66" stroke="#000000" stroke-width="2" stroke-linecap="butt" />
<line x1="1852.9" y1="701.34" x2="1860.9" y2="701.34" stroke="#000000" stroke-width="2" stroke-linecap="butt" />
<line x1="1852.9" y1="724.66" x2="1860.9" y2="724.66" stroke="#000000" stroke-width="2" stroke-linecap="butt" />
<rect x="1870.75" y="711.06" width="16.2" height="241.44" fill="#56a0f8" stroke="none" stroke-width="0"/>
<line x1="1878.85" y1="701.19" x2="1878.85" y2="720.92" stroke="#000000" stroke-width="2" stroke-linecap="butt" />
<line x1="1874.85" y1="701.19" x2="1882.85" y2="701.19" stroke="#000000" stroke-width="2" stroke-linecap="butt" />
<line x1="1874.85" y1="720.92" x2="1882.85" y2="720.92" stroke="#000000" stroke-width="2" stroke-linecap="butt" />
<path d="M1894.3 952.5 V708.92 H1907.3 V952.5" fill="white" stroke="#000000" stroke-width="3.2"/>
<line x1="1900.8" y1="702.24" x2="1900.8" y2="712.4" stroke="#000000" stroke-width="2" stroke-linecap="butt" />
<line x1="1896.8" y1="702.24" x2="1904.8" y2="702.24" stroke="#000000" stroke-width="2" stroke-linecap="butt" />
<line x1="1896.8" y1="712.4" x2="1904.8" y2="712.4" stroke="#000000" stroke-width="2" stroke-linecap="butt" />
<path d="M1916.25 952.5 V705.33 H1929.25 V952.5" fill="white" stroke="#fe0000" stroke-width="3.2"/>
<line x1="1922.75" y1="691.32" x2="1922.75" y2="716.14" stroke="#fe0000" stroke-width="2" stroke-linecap="butt" />
<line x1="1918.75" y1="691.32" x2="1926.75" y2="691.32" stroke="#fe0000" stroke-width="2" stroke-linecap="butt" />
<line x1="1918.75" y1="716.14" x2="1926.75" y2="716.14" stroke="#fe0000" stroke-width="2" stroke-linecap="butt" />
<path d="M1938.2 952.5 V703.69 H1951.2 V952.5" fill="white" stroke="#a1a1a5" stroke-width="3.2"/>
<line x1="1944.7" y1="691.62" x2="1944.7" y2="712.55" stroke="#a1a1a5" stroke-width="2" stroke-linecap="butt" />
<line x1="1940.7" y1="691.62" x2="1948.7" y2="691.62" stroke="#a1a1a5" stroke-width="2" stroke-linecap="butt" />
<line x1="1940.7" y1="712.55" x2="1948.7" y2="712.55" stroke="#a1a1a5" stroke-width="2" stroke-linecap="butt" />
<path d="M1960.15 952.5 V709.22 H1973.15 V952.5" fill="white" stroke="#56a0f8" stroke-width="3.2"/>
<line x1="1966.65" y1="695.66" x2="1966.65" y2="719.58" stroke="#56a0f8" stroke-width="2" stroke-linecap="butt" />
<line x1="1962.65" y1="695.66" x2="1970.65" y2="695.66" stroke="#56a0f8" stroke-width="2" stroke-linecap="butt" />
<line x1="1962.65" y1="719.58" x2="1970.65" y2="719.58" stroke="#56a0f8" stroke-width="2" stroke-linecap="butt" />
<circle cx="1430.1" cy="698.65" r="5.65" fill="#000000"/>
<circle cx="1432.1" cy="707.77" r="5.65" fill="#000000"/>
<circle cx="1431.1" cy="725.71" r="5.65" fill="#000000"/>
<text x="1429.6" y="684" font-size="28" text-anchor="middle" fill="#000000" >b</text>
<rect x="1445.9" y="775.47" width="12.3" height="12.3" fill="#000000" stroke="none" stroke-width="0"/>
<rect x="1447.9" y="778.31" width="12.3" height="12.3" fill="#000000" stroke="none" stroke-width="0"/>
<rect x="1446.9" y="815.39" width="12.3" height="12.3" fill="#000000" stroke="none" stroke-width="0"/>
<rect x="1445.9" y="851.27" width="12.3" height="12.3" fill="#000000" stroke="none" stroke-width="0"/>
<text x="1451.55" y="761.5" font-size="28" text-anchor="middle" fill="#000000" >c</text>
<polygon points="1474,780.7 1480.15,792.08 1467.85,792.08" fill="#000000"/>
<polygon points="1476,791.47 1482.15,802.85 1469.85,802.85" fill="#000000"/>
<polygon points="1475,801.48 1481.15,812.86 1468.85,812.86" fill="#000000"/>
<polygon points="1474,811.35 1480.15,822.73 1467.85,822.73" fill="#000000"/>
<polygon points="1476,819.42 1482.15,830.8 1469.85,830.8" fill="#000000"/>
<polygon points="1475,843.34 1481.15,854.72 1468.85,854.72" fill="#000000"/>
<text x="1473.5" y="761.5" font-size="28" text-anchor="middle" fill="#000000" >c</text>
<polygon points="1495.95,796.59 1502.1,785.21 1489.8,785.21" fill="#000000"/>
<polygon points="1497.95,809.75 1504.1,798.37 1491.8,798.37" fill="#000000"/>
<polygon points="1496.95,815.73 1503.1,804.35 1490.8,804.35" fill="#000000"/>
<polygon points="1495.95,837.7 1502.1,826.33 1489.8,826.33" fill="#000000"/>
<polygon points="1497.95,847.72 1504.1,836.34 1491.8,836.34" fill="#000000"/>
<polygon points="1496.95,861.62 1503.1,850.25 1490.8,850.25" fill="#000000"/>
<text x="1495.45" y="769.5" font-size="28" text-anchor="middle" fill="#000000" >c</text>
<polygon points="1517.9,637.78 1524.05,643.93 1517.9,650.08 1511.75,643.93" fill="#000000"/>
<polygon points="1519.9,658.56 1526.05,664.71 1519.9,670.86 1513.75,664.71" fill="#000000"/>
<polygon points="1518.9,688.46 1525.05,694.61 1518.9,700.76 1512.75,694.61" fill="#000000"/>
<polygon points="1517.9,715.67 1524.05,721.82 1517.9,727.97 1511.75,721.82" fill="#000000"/>
<text x="1517.4" y="613.5" font-size="28" text-anchor="middle" fill="#000000" >a</text>
<circle cx="1539.85" cy="649.91" r="5" fill="none" stroke="#000000" stroke-width="3.5"/>
<circle cx="1541.85" cy="659.93" r="5" fill="none" stroke="#000000" stroke-width="3.5"/>
<circle cx="1540.85" cy="663.82" r="5" fill="none" stroke="#000000" stroke-width="3.5"/>
<circle cx="1539.85" cy="699.85" r="5" fill="none" stroke="#000000" stroke-width="3.5"/>
<circle cx="1541.85" cy="711.8" r="5" fill="none" stroke="#000000" stroke-width="3.5"/>
<circle cx="1540.85" cy="717.78" r="5" fill="none" stroke="#000000" stroke-width="3.5"/>
<text x="1539.35" y="620" font-size="28" text-anchor="middle" fill="#000000" >a</text>
<rect x="1556.8" y="641.02" width="10" height="10" fill="none" stroke="#000000" stroke-width="3.5"/>
<rect x="1558.8" y="644.91" width="10" height="10" fill="none" stroke="#000000" stroke-width="3.5"/>
<rect x="1557.8" y="656.87" width="10" height="10" fill="none" stroke="#000000" stroke-width="3.5"/>
<rect x="1556.8" y="696.79" width="10" height="10" fill="none" stroke="#000000" stroke-width="3.5"/>
<rect x="1558.8" y="708.75" width="10" height="10" fill="none" stroke="#000000" stroke-width="3.5"/>
<rect x="1557.8" y="720.71" width="10" height="10" fill="none" stroke="#000000" stroke-width="3.5"/>
<text x="1561.3" y="616" font-size="28" text-anchor="middle" fill="#000000" >a</text>
<polygon points="1583.75,649.5 1588.86,658.89 1578.64,658.89" fill="none" stroke="#000000" stroke-width="3.3" stroke-linejoin="round"/>
<polygon points="1585.75,653.53 1590.86,662.92 1580.64,662.92" fill="none" stroke="#000000" stroke-width="3.3" stroke-linejoin="round"/>
<polygon points="1584.75,669.38 1589.86,678.77 1579.64,678.77" fill="none" stroke="#000000" stroke-width="3.3" stroke-linejoin="round"/>
<polygon points="1583.75,693.3 1588.86,702.69 1578.64,702.69" fill="none" stroke="#000000" stroke-width="3.3" stroke-linejoin="round"/>
<polygon points="1585.75,705.41 1590.86,714.8 1580.64,714.8" fill="none" stroke="#000000" stroke-width="3.3" stroke-linejoin="round"/>
<polygon points="1584.75,709.3 1589.86,718.69 1579.64,718.69" fill="none" stroke="#000000" stroke-width="3.3" stroke-linejoin="round"/>
<text x="1583.25" y="620" font-size="28" text-anchor="middle" fill="#000000" >a</text>
<circle cx="1621.8" cy="942.03" r="5.65" fill="#000000"/>
<circle cx="1622.8" cy="944.28" r="5.65" fill="#000000"/>
<circle cx="1622.3" cy="945.77" r="5.65" fill="#000000"/>
<text x="1620.8" y="921" font-size="28" text-anchor="middle" fill="#000000" >b</text>
<rect x="1637.6" y="941.12" width="12.3" height="12.3" fill="#000000" stroke="none" stroke-width="0"/>
<rect x="1638.6" y="941.87" width="12.3" height="12.3" fill="#000000" stroke="none" stroke-width="0"/>
<text x="1642.75" y="927" font-size="28" text-anchor="middle" fill="#000000" >c</text>
<polygon points="1665.7,941.87 1671.85,953.24 1659.55,953.24" fill="#000000"/>
<polygon points="1666.7,943.36 1672.85,954.74 1660.55,954.74" fill="#000000"/>
<text x="1664.7" y="927" font-size="28" text-anchor="middle" fill="#000000" >c</text>
<polygon points="1687.65,954.16 1693.8,942.79 1681.5,942.79" fill="#000000"/>
<polygon points="1688.65,954.91 1694.8,943.54 1682.5,943.54" fill="#000000"/>
<text x="1686.65" y="927" font-size="28" text-anchor="middle" fill="#000000" >c</text>
<polygon points="1709.6,928.41 1715.75,934.56 1709.6,940.71 1703.45,934.56" fill="#000000"/>
<polygon points="1710.6,931.4 1716.75,937.55 1710.6,943.7 1704.45,937.55" fill="#000000"/>
<polygon points="1710.1,934.39 1716.25,940.54 1710.1,946.69 1703.95,940.54" fill="#000000"/>
<text x="1708.6" y="915" font-size="28" text-anchor="middle" fill="#000000" >a</text>
<circle cx="1731.55" cy="934.56" r="5" fill="none" stroke="#000000" stroke-width="3.5"/>
<circle cx="1732.55" cy="935.31" r="5" fill="none" stroke="#000000" stroke-width="3.5"/>
<circle cx="1732.05" cy="937.55" r="5" fill="none" stroke="#000000" stroke-width="3.5"/>
<circle cx="1732.35" cy="939.04" r="5" fill="none" stroke="#000000" stroke-width="3.5"/>
<text x="1730.55" y="917" font-size="28" text-anchor="middle" fill="#000000" >a</text>
<rect x="1748.5" y="928.07" width="10" height="10" fill="none" stroke="#000000" stroke-width="3.5"/>
<rect x="1749.5" y="929.56" width="10" height="10" fill="none" stroke="#000000" stroke-width="3.5"/>
<rect x="1749" y="931.05" width="10" height="10" fill="none" stroke="#000000" stroke-width="3.5"/>
<rect x="1749.3" y="932.55" width="10" height="10" fill="none" stroke="#000000" stroke-width="3.5"/>
<text x="1752.5" y="915" font-size="28" text-anchor="middle" fill="#000000" >a</text>
<polygon points="1775.45,928.62 1780.56,938 1770.34,938" fill="none" stroke="#000000" stroke-width="3.3" stroke-linejoin="round"/>
<polygon points="1776.45,930.86 1781.56,940.25 1771.34,940.25" fill="none" stroke="#000000" stroke-width="3.3" stroke-linejoin="round"/>
<polygon points="1775.95,932.35 1781.06,941.74 1770.84,941.74" fill="none" stroke="#000000" stroke-width="3.3" stroke-linejoin="round"/>
<polygon points="1776.25,933.85 1781.36,943.24 1771.14,943.24" fill="none" stroke="#000000" stroke-width="3.3" stroke-linejoin="round"/>
<text x="1774.45" y="918" font-size="28" text-anchor="middle" fill="#000000" >a</text>
<circle cx="1811.5" cy="695.96" r="5.65" fill="#000000"/>
<circle cx="1814.5" cy="701.04" r="5.65" fill="#000000"/>
<circle cx="1813" cy="707.32" r="5.65" fill="#000000"/>
<text x="1811.5" y="651.7" font-size="28" text-anchor="middle" fill="#000000" >a</text>
<rect x="1827.3" y="656.92" width="12.3" height="12.3" fill="#000000" stroke="none" stroke-width="0"/>
<rect x="1830.3" y="660.95" width="12.3" height="12.3" fill="#000000" stroke="none" stroke-width="0"/>
<rect x="1828.8" y="675.46" width="12.3" height="12.3" fill="#000000" stroke="none" stroke-width="0"/>
<rect x="1827.8" y="714.48" width="12.3" height="12.3" fill="#000000" stroke="none" stroke-width="0"/>
<rect x="1829.8" y="726.88" width="12.3" height="12.3" fill="#000000" stroke="none" stroke-width="0"/>
<rect x="1828.8" y="734.06" width="12.3" height="12.3" fill="#000000" stroke="none" stroke-width="0"/>
<text x="1833.45" y="635.7" font-size="28" text-anchor="middle" fill="#000000" >a</text>
<polygon points="1855.4,674.41 1861.55,685.79 1849.25,685.79" fill="#000000"/>
<polygon points="1858.4,681.59 1864.55,692.96 1852.25,692.96" fill="#000000"/>
<polygon points="1856.9,688.76 1863.05,700.14 1850.75,700.14" fill="#000000"/>
<polygon points="1855.9,728.83 1862.05,740.2 1849.75,740.2" fill="#000000"/>
<polygon points="1857.9,733.01 1864.05,744.39 1851.75,744.39" fill="#000000"/>
<polygon points="1856.9,737.05 1863.05,748.43 1850.75,748.43" fill="#000000"/>
<text x="1855.4" y="649.7" font-size="28" text-anchor="middle" fill="#000000" >a</text>
<polygon points="1877.35,687.76 1883.5,676.38 1871.2,676.38" fill="#000000"/>
<polygon points="1880.35,718.55 1886.5,707.18 1874.2,707.18" fill="#000000"/>
<polygon points="1878.85,722.74 1885,711.36 1872.7,711.36" fill="#000000"/>
<polygon points="1877.85,728.87 1884,717.49 1871.7,717.49" fill="#000000"/>
<polygon points="1879.85,747.41 1886,736.03 1873.7,736.03" fill="#000000"/>
<text x="1877.35" y="649.7" font-size="28" text-anchor="middle" fill="#000000" >a</text>
<polygon points="1899.3,670.22 1905.45,676.37 1899.3,682.52 1893.15,676.37" fill="#000000"/>
<polygon points="1902.3,691.3 1908.45,697.45 1902.3,703.6 1896.15,697.45" fill="#000000"/>
<polygon points="1900.8,718.66 1906.95,724.81 1900.8,730.96 1894.65,724.81" fill="#000000"/>
<polygon points="1899.8,723.74 1905.95,729.89 1899.8,736.04 1893.65,729.89" fill="#000000"/>
<polygon points="1901.8,730.02 1907.95,736.17 1901.8,742.32 1895.65,736.17" fill="#000000"/>
<text x="1899.3" y="642.5" font-size="28" text-anchor="middle" fill="#000000" >a</text>
<circle cx="1921.25" cy="668.6" r="5" fill="none" stroke="#000000" stroke-width="3.5"/>
<circle cx="1924.25" cy="703.13" r="5" fill="none" stroke="#000000" stroke-width="3.5"/>
<circle cx="1922.75" cy="714.05" r="5" fill="none" stroke="#000000" stroke-width="3.5"/>
<circle cx="1921.75" cy="726.75" r="5" fill="none" stroke="#000000" stroke-width="3.5"/>
<circle cx="1923.75" cy="739.16" r="5" fill="none" stroke="#000000" stroke-width="3.5"/>
<text x="1921.25" y="640.4" font-size="28" text-anchor="middle" fill="#000000" >a</text>
<rect x="1938.2" y="659.56" width="10" height="10" fill="none" stroke="#000000" stroke-width="3.5"/>
<rect x="1941.2" y="663.6" width="10" height="10" fill="none" stroke="#000000" stroke-width="3.5"/>
<rect x="1939.7" y="668.38" width="10" height="10" fill="none" stroke="#000000" stroke-width="3.5"/>
<rect x="1938.7" y="688.57" width="10" height="10" fill="none" stroke="#000000" stroke-width="3.5"/>
<rect x="1940.7" y="731.47" width="10" height="10" fill="none" stroke="#000000" stroke-width="3.5"/>
<text x="1943.2" y="635.7" font-size="28" text-anchor="middle" fill="#000000" >a</text>
<polygon points="1965.15,667.89 1970.26,677.27 1960.04,677.27" fill="none" stroke="#000000" stroke-width="3.3" stroke-linejoin="round"/>
<polygon points="1968.15,676.11 1973.26,685.5 1963.04,685.5" fill="none" stroke="#000000" stroke-width="3.3" stroke-linejoin="round"/>
<polygon points="1966.65,688.52 1971.76,697.91 1961.54,697.91" fill="none" stroke="#000000" stroke-width="3.3" stroke-linejoin="round"/>
<polygon points="1965.65,713.19 1970.76,722.57 1960.54,722.57" fill="none" stroke="#000000" stroke-width="3.3" stroke-linejoin="round"/>
<polygon points="1967.65,735.31 1972.76,744.7 1962.54,744.7" fill="none" stroke="#000000" stroke-width="3.3" stroke-linejoin="round"/>
<polygon points="1966.65,737.85 1971.76,747.24 1961.54,747.24" fill="none" stroke="#000000" stroke-width="3.3" stroke-linejoin="round"/>
<text x="1965.15" y="643.1" font-size="28" text-anchor="middle" fill="#000000" >a</text>
<line x1="1417.5" y1="576.8" x2="1417.5" y2="954.5" stroke="#000000" stroke-width="4" stroke-linecap="butt" />
<line x1="1415.5" y1="952.5" x2="1981" y2="952.5" stroke="#000000" stroke-width="4" stroke-linecap="butt" />
<line x1="1401.5" y1="952.5" x2="1417.5" y2="952.5" stroke="#000000" stroke-width="3.6" stroke-linecap="butt" />
<text x="1398" y="962.44" font-size="28" text-anchor="end" fill="#000000" >0</text>
<line x1="1401.5" y1="877.75" x2="1417.5" y2="877.75" stroke="#000000" stroke-width="3.6" stroke-linecap="butt" />
<text x="1398" y="887.69" font-size="28" text-anchor="end" fill="#000000" >50</text>
<line x1="1401.5" y1="803" x2="1417.5" y2="803" stroke="#000000" stroke-width="3.6" stroke-linecap="butt" />
<text x="1398" y="812.94" font-size="28" text-anchor="end" fill="#000000" >100</text>
<line x1="1401.5" y1="728.25" x2="1417.5" y2="728.25" stroke="#000000" stroke-width="3.6" stroke-linecap="butt" />
<text x="1398" y="738.19" font-size="28" text-anchor="end" fill="#000000" >150</text>
<line x1="1401.5" y1="653.5" x2="1417.5" y2="653.5" stroke="#000000" stroke-width="3.6" stroke-linecap="butt" />
<text x="1398" y="663.44" font-size="28" text-anchor="end" fill="#000000" >200</text>
<line x1="1401.5" y1="578.75" x2="1417.5" y2="578.75" stroke="#000000" stroke-width="3.6" stroke-linecap="butt" />
<text x="1398" y="588.69" font-size="28" text-anchor="end" fill="#000000" >250</text>
<line x1="1506.7" y1="952.5" x2="1506.7" y2="968.5" stroke="#000000" stroke-width="3.6" stroke-linecap="butt" />
<text x="1506.7" y="997" font-size="28" text-anchor="middle" fill="#000000" >TAG</text>
<line x1="1697.9" y1="952.5" x2="1697.9" y2="968.5" stroke="#000000" stroke-width="3.6" stroke-linecap="butt" />
<text x="1697.9" y="997" font-size="28" text-anchor="middle" fill="#000000" >CE</text>
<line x1="1888.7" y1="952.5" x2="1888.7" y2="968.5" stroke="#000000" stroke-width="3.6" stroke-linecap="butt" />
<text x="1888.7" y="997" font-size="28" text-anchor="middle" fill="#000000" >PL</text>
<text x="-0.4" y="1072.6" font-size="41" font-weight="bold" text-anchor="start" fill="#000000" >d</text>
<text x="741.5" y="1091.3" font-size="36.1" font-weight="bold" text-anchor="middle" fill="#000000" >Pulse period</text>
<text x="90" y="1284" font-size="30.8" text-anchor="middle" fill="#000000" transform="rotate(-90 90 1284)" >[1-<tspan font-size="19.5" dy="-11.5">13</tspan><tspan dy="11.5" font-size="1">&#8203;</tspan>C]Oleate in lipid species</text>
<text x="138" y="1284" font-size="30.6" text-anchor="middle" fill="#000000" transform="rotate(-90 138 1284)" >(nmol/10<tspan font-size="19.5" dy="-12.5">6</tspan><tspan dy="12.5" font-size="1">&#8203;</tspan> cells)</text>
<rect x="225" y="1244.57" width="22.4" height="225.73" fill="#000000" stroke="none" stroke-width="0"/>
<line x1="236.2" y1="1233.38" x2="236.2" y2="1255.77" stroke="#000000" stroke-width="2" stroke-linecap="butt" />
<line x1="232.2" y1="1233.38" x2="240.2" y2="1233.38" stroke="#000000" stroke-width="2" stroke-linecap="butt" />
<line x1="232.2" y1="1255.77" x2="240.2" y2="1255.77" stroke="#000000" stroke-width="2" stroke-linecap="butt" />
<rect x="255.15" y="1316.58" width="22.4" height="153.72" fill="#fe0000" stroke="none" stroke-width="0"/>
<line x1="266.35" y1="1306.14" x2="266.35" y2="1327.03" stroke="#000000" stroke-width="2" stroke-linecap="butt" />
<line x1="262.35" y1="1306.14" x2="270.35" y2="1306.14" stroke="#000000" stroke-width="2" stroke-linecap="butt" />
<line x1="262.35" y1="1327.03" x2="270.35" y2="1327.03" stroke="#000000" stroke-width="2" stroke-linecap="butt" />
<rect x="285.3" y="1311.73" width="22.4" height="158.57" fill="#a1a1a5" stroke="none" stroke-width="0"/>
<line x1="296.5" y1="1301.29" x2="296.5" y2="1322.18" stroke="#000000" stroke-width="2" stroke-linecap="butt" />
<line x1="292.5" y1="1301.29" x2="300.5" y2="1301.29" stroke="#000000" stroke-width="2" stroke-linecap="butt" />
<line x1="292.5" y1="1322.18" x2="300.5" y2="1322.18" stroke="#000000" stroke-width="2" stroke-linecap="butt" />
<rect x="315.45" y="1318.45" width="22.4" height="151.85" fill="#56a0f8" stroke="none" stroke-width="0"/>
<line x1="326.65" y1="1308.37" x2="326.65" y2="1328.52" stroke="#000000" stroke-width="2" stroke-linecap="butt" />
<line x1="322.65" y1="1308.37" x2="330.65" y2="1308.37" stroke="#000000" stroke-width="2" stroke-linecap="butt" />
<line x1="322.65" y1="1328.52" x2="330.65" y2="1328.52" stroke="#000000" stroke-width="2" stroke-linecap="butt" />
<path d="M347.25 1470.3 V1179.81 H366.35 V1470.3" fill="white" stroke="#000000" stroke-width="3.3"/>
<line x1="356.8" y1="1166.97" x2="356.8" y2="1189.36" stroke="#000000" stroke-width="2" stroke-linecap="butt" />
<line x1="352.8" y1="1166.97" x2="360.8" y2="1166.97" stroke="#000000" stroke-width="2" stroke-linecap="butt" />
<line x1="352.8" y1="1189.36" x2="360.8" y2="1189.36" stroke="#000000" stroke-width="2" stroke-linecap="butt" />
<path d="M377.4 1470.3 V1191.01 H396.5 V1470.3" fill="white" stroke="#fe0000" stroke-width="3.3"/>
<line x1="386.95" y1="1177.42" x2="386.95" y2="1201.29" stroke="#fe0000" stroke-width="2" stroke-linecap="butt" />
<line x1="382.95" y1="1177.42" x2="390.95" y2="1177.42" stroke="#fe0000" stroke-width="2" stroke-linecap="butt" />
<line x1="382.95" y1="1201.29" x2="390.95" y2="1201.29" stroke="#fe0000" stroke-width="2" stroke-linecap="butt" />
<path d="M407.55 1470.3 V1189.14 H426.65 V1470.3" fill="white" stroke="#a1a1a5" stroke-width="3.3"/>
<line x1="417.1" y1="1171.82" x2="417.1" y2="1203.16" stroke="#a1a1a5" stroke-width="2" stroke-linecap="butt" />
<line x1="413.1" y1="1171.82" x2="421.1" y2="1171.82" stroke="#a1a1a5" stroke-width="2" stroke-linecap="butt" />
<line x1="413.1" y1="1203.16" x2="421.1" y2="1203.16" stroke="#a1a1a5" stroke-width="2" stroke-linecap="butt" />
<path d="M437.7 1470.3 V1194.36 H456.8 V1470.3" fill="white" stroke="#56a0f8" stroke-width="3.3"/>
<line x1="447.25" y1="1179.66" x2="447.25" y2="1205.77" stroke="#56a0f8" stroke-width="2" stroke-linecap="butt" />
<line x1="443.25" y1="1179.66" x2="451.25" y2="1179.66" stroke="#56a0f8" stroke-width="2" stroke-linecap="butt" />
<line x1="443.25" y1="1205.77" x2="451.25" y2="1205.77" stroke="#56a0f8" stroke-width="2" stroke-linecap="butt" />
<rect x="490.8" y="1447.91" width="22.4" height="22.39" fill="#000000" stroke="none" stroke-width="0"/>
<rect x="520.95" y="1453.51" width="22.4" height="16.79" fill="#fe0000" stroke="none" stroke-width="0"/>
<rect x="551.1" y="1455.38" width="22.4" height="14.92" fill="#a1a1a5" stroke="none" stroke-width="0"/>
<rect x="581.25" y="1456.12" width="22.4" height="14.18" fill="#56a0f8" stroke="none" stroke-width="0"/>
<path d="M613.05 1470.3 V1433.52 H632.15 V1470.3" fill="white" stroke="#000000" stroke-width="3.3"/>
<path d="M643.2 1470.3 V1438.37 H662.3 V1470.3" fill="white" stroke="#fe0000" stroke-width="3.3"/>
<path d="M673.35 1470.3 V1438.37 H692.45 V1470.3" fill="white" stroke="#a1a1a5" stroke-width="3.3"/>
<path d="M703.5 1470.3 V1438.37 H722.6 V1470.3" fill="white" stroke="#56a0f8" stroke-width="3.3"/>
<rect x="755.9" y="1339.71" width="22.4" height="130.59" fill="#000000" stroke="none" stroke-width="0"/>
<line x1="767.1" y1="1326.66" x2="767.1" y2="1352.77" stroke="#000000" stroke-width="2" stroke-linecap="butt" />
<line x1="763.1" y1="1326.66" x2="771.1" y2="1326.66" stroke="#000000" stroke-width="2" stroke-linecap="butt" />
<line x1="763.1" y1="1352.77" x2="771.1" y2="1352.77" stroke="#000000" stroke-width="2" stroke-linecap="butt" />
<rect x="786.05" y="1344.57" width="22.4" height="125.73" fill="#fe0000" stroke="none" stroke-width="0"/>
<line x1="797.25" y1="1333.37" x2="797.25" y2="1355.76" stroke="#000000" stroke-width="2" stroke-linecap="butt" />
<line x1="793.25" y1="1333.37" x2="801.25" y2="1333.37" stroke="#000000" stroke-width="2" stroke-linecap="butt" />
<line x1="793.25" y1="1355.76" x2="801.25" y2="1355.76" stroke="#000000" stroke-width="2" stroke-linecap="butt" />
<rect x="816.2" y="1353.15" width="22.4" height="117.15" fill="#a1a1a5" stroke="none" stroke-width="0"/>
<line x1="827.4" y1="1340.83" x2="827.4" y2="1365.46" stroke="#000000" stroke-width="2" stroke-linecap="butt" />
<line x1="823.4" y1="1340.83" x2="831.4" y2="1340.83" stroke="#000000" stroke-width="2" stroke-linecap="butt" />
<line x1="823.4" y1="1365.46" x2="831.4" y2="1365.46" stroke="#000000" stroke-width="2" stroke-linecap="butt" />
<rect x="846.35" y="1353.89" width="22.4" height="116.41" fill="#56a0f8" stroke="none" stroke-width="0"/>
<line x1="857.55" y1="1341.95" x2="857.55" y2="1365.83" stroke="#000000" stroke-width="2" stroke-linecap="butt" />
<line x1="853.55" y1="1341.95" x2="861.55" y2="1341.95" stroke="#000000" stroke-width="2" stroke-linecap="butt" />
<line x1="853.55" y1="1365.83" x2="861.55" y2="1365.83" stroke="#000000" stroke-width="2" stroke-linecap="butt" />
<path d="M878.15 1470.3 V1343.98 H897.25 V1470.3" fill="white" stroke="#000000" stroke-width="3.3"/>
<line x1="887.7" y1="1331.88" x2="887.7" y2="1352.77" stroke="#000000" stroke-width="2" stroke-linecap="butt" />
<line x1="883.7" y1="1331.88" x2="891.7" y2="1331.88" stroke="#000000" stroke-width="2" stroke-linecap="butt" />
<line x1="883.7" y1="1352.77" x2="891.7" y2="1352.77" stroke="#000000" stroke-width="2" stroke-linecap="butt" />
<path d="M908.3 1470.3 V1345.47 H927.4 V1470.3" fill="white" stroke="#fe0000" stroke-width="3.3"/>
<line x1="917.85" y1="1332.63" x2="917.85" y2="1355.01" stroke="#fe0000" stroke-width="2" stroke-linecap="butt" />
<line x1="913.85" y1="1332.63" x2="921.85" y2="1332.63" stroke="#fe0000" stroke-width="2" stroke-linecap="butt" />
<line x1="913.85" y1="1355.01" x2="921.85" y2="1355.01" stroke="#fe0000" stroke-width="2" stroke-linecap="butt" />
<path d="M938.45 1470.3 V1352.56 H957.55 V1470.3" fill="white" stroke="#a1a1a5" stroke-width="3.3"/>
<line x1="948" y1="1338.97" x2="948" y2="1362.85" stroke="#a1a1a5" stroke-width="2" stroke-linecap="butt" />
<line x1="944" y1="1338.97" x2="952" y2="1338.97" stroke="#a1a1a5" stroke-width="2" stroke-linecap="butt" />
<line x1="944" y1="1362.85" x2="952" y2="1362.85" stroke="#a1a1a5" stroke-width="2" stroke-linecap="butt" />
<path d="M968.6 1470.3 V1343.98 H987.7 V1470.3" fill="white" stroke="#56a0f8" stroke-width="3.3"/>
<line x1="978.15" y1="1330.01" x2="978.15" y2="1354.64" stroke="#56a0f8" stroke-width="2" stroke-linecap="butt" />
<line x1="974.15" y1="1330.01" x2="982.15" y2="1330.01" stroke="#56a0f8" stroke-width="2" stroke-linecap="butt" />
<line x1="974.15" y1="1354.64" x2="982.15" y2="1354.64" stroke="#56a0f8" stroke-width="2" stroke-linecap="butt" />
<rect x="1021.3" y="1436.72" width="22.4" height="33.58" fill="#000000" stroke="none" stroke-width="0"/>
<rect x="1051.45" y="1436.72" width="22.4" height="33.58" fill="#fe0000" stroke="none" stroke-width="0"/>
<rect x="1081.6" y="1437.84" width="22.4" height="32.46" fill="#a1a1a5" stroke="none" stroke-width="0"/>
<rect x="1111.75" y="1436.72" width="22.4" height="33.58" fill="#56a0f8" stroke="none" stroke-width="0"/>
<path d="M1143.55 1470.3 V1438.37 H1162.65 V1470.3" fill="white" stroke="#000000" stroke-width="3.3"/>
<path d="M1173.7 1470.3 V1439.49 H1192.8 V1470.3" fill="white" stroke="#fe0000" stroke-width="3.3"/>
<path d="M1203.85 1470.3 V1439.49 H1222.95 V1470.3" fill="white" stroke="#a1a1a5" stroke-width="3.3"/>
<path d="M1234 1470.3 V1439.49 H1253.1 V1470.3" fill="white" stroke="#56a0f8" stroke-width="3.3"/>
<circle cx="241.2" cy="1212.11" r="5.9" fill="#000000"/>
<circle cx="232.2" cy="1217.34" r="5.9" fill="#000000"/>
<circle cx="232.2" cy="1238.6" r="5.9" fill="#000000"/>
<circle cx="241.2" cy="1242.34" r="5.9" fill="#000000"/>
<text x="234.7" y="1192.6" font-size="28" text-anchor="middle" fill="#000000" >b</text>
<rect x="259.95" y="1281.83" width="12.8" height="12.8" fill="#000000" stroke="none" stroke-width="0"/>
<rect x="258.95" y="1283.69" width="12.8" height="12.8" fill="#000000" stroke="none" stroke-width="0"/>
<rect x="261.95" y="1304.96" width="12.8" height="12.8" fill="#000000" stroke="none" stroke-width="0"/>
<rect x="255.95" y="1316.9" width="12.8" height="12.8" fill="#000000" stroke="none" stroke-width="0"/>
<rect x="262.95" y="1320.63" width="12.8" height="12.8" fill="#000000" stroke="none" stroke-width="0"/>
<rect x="257.95" y="1335.18" width="12.8" height="12.8" fill="#000000" stroke="none" stroke-width="0"/>
<rect x="264.95" y="1335.93" width="12.8" height="12.8" fill="#000000" stroke="none" stroke-width="0"/>
<text x="264.85" y="1268.7" font-size="28" text-anchor="middle" fill="#000000" >c</text>
<polygon points="301.5,1279.96 307.9,1291.8 295.1,1291.8" fill="#000000"/>
<polygon points="293.5,1287.42 299.9,1299.26 287.1,1299.26" fill="#000000"/>
<polygon points="296.5,1313.17 302.9,1325.01 290.1,1325.01" fill="#000000"/>
<polygon points="293.5,1335.18 299.9,1347.02 287.1,1347.02" fill="#000000"/>
<polygon points="300.5,1337.05 306.9,1348.89 294.1,1348.89" fill="#000000"/>
<text x="295" y="1264.3" font-size="28" text-anchor="middle" fill="#000000" >c</text>
<polygon points="322.65,1293.88 329.05,1282.04 316.25,1282.04" fill="#000000"/>
<polygon points="331.65,1294.63 338.05,1282.79 325.25,1282.79" fill="#000000"/>
<polygon points="324.65,1329.7 331.05,1317.86 318.25,1317.86" fill="#000000"/>
<polygon points="330.65,1331.56 337.05,1319.72 324.25,1319.72" fill="#000000"/>
<polygon points="322.65,1347.98 329.05,1336.14 316.25,1336.14" fill="#000000"/>
<polygon points="331.65,1354.7 338.05,1342.86 325.25,1342.86" fill="#000000"/>
<text x="325.15" y="1269.8" font-size="28" text-anchor="middle" fill="#000000" >c</text>
<polygon points="361.8,1136.69 368.2,1143.09 361.8,1149.49 355.4,1143.09" fill="#000000"/>
<polygon points="352.8,1143.03 359.2,1149.43 352.8,1155.83 346.4,1149.43" fill="#000000"/>
<polygon points="353.8,1164.3 360.2,1170.7 353.8,1177.1 347.4,1170.7" fill="#000000"/>
<polygon points="361.8,1173.63 368.2,1180.03 361.8,1186.43 355.4,1180.03" fill="#000000"/>
<polygon points="352.8,1202.36 359.2,1208.76 352.8,1215.16 346.4,1208.76" fill="#000000"/>
<polygon points="361.8,1202.36 368.2,1208.76 361.8,1215.16 355.4,1208.76" fill="#000000"/>
<text x="355.3" y="1127.1" font-size="28" text-anchor="middle" fill="#000000" >a</text>
<circle cx="390.95" cy="1152.42" r="5.25" fill="none" stroke="#000000" stroke-width="3.5"/>
<circle cx="383.95" cy="1158.02" r="5.25" fill="none" stroke="#000000" stroke-width="3.5"/>
<circle cx="388.95" cy="1178.16" r="5.25" fill="none" stroke="#000000" stroke-width="3.5"/>
<circle cx="381.95" cy="1209.88" r="5.25" fill="none" stroke="#000000" stroke-width="3.5"/>
<circle cx="387.95" cy="1215.85" r="5.25" fill="none" stroke="#000000" stroke-width="3.5"/>
<circle cx="392.95" cy="1221.07" r="5.25" fill="none" stroke="#000000" stroke-width="3.5"/>
<text x="385.45" y="1135.6" font-size="28" text-anchor="middle" fill="#000000" >a</text>
<rect x="417.85" y="1144.56" width="10.5" height="10.5" fill="none" stroke="#000000" stroke-width="3.5"/>
<rect x="407.85" y="1150.9" width="10.5" height="10.5" fill="none" stroke="#000000" stroke-width="3.5"/>
<rect x="412.85" y="1156.12" width="10.5" height="10.5" fill="none" stroke="#000000" stroke-width="3.5"/>
<rect x="408.85" y="1204.63" width="10.5" height="10.5" fill="none" stroke="#000000" stroke-width="3.5"/>
<rect x="413.85" y="1210.6" width="10.5" height="10.5" fill="none" stroke="#000000" stroke-width="3.5"/>
<rect x="417.85" y="1219.92" width="10.5" height="10.5" fill="none" stroke="#000000" stroke-width="3.5"/>
<text x="415.6" y="1132" font-size="28" text-anchor="middle" fill="#000000" >a</text>
<polygon points="453.25,1149.58 458.61,1159.43 447.89,1159.43" fill="none" stroke="#000000" stroke-width="3.3" stroke-linejoin="round"/>
<polygon points="443.25,1154.06 448.61,1163.91 437.89,1163.91" fill="none" stroke="#000000" stroke-width="3.3" stroke-linejoin="round"/>
<polygon points="443.25,1185.03 448.61,1194.88 437.89,1194.88" fill="none" stroke="#000000" stroke-width="3.3" stroke-linejoin="round"/>
<polygon points="453.25,1201.07 458.61,1210.92 447.89,1210.92" fill="none" stroke="#000000" stroke-width="3.3" stroke-linejoin="round"/>
<polygon points="443.25,1215.62 448.61,1225.47 437.89,1225.47" fill="none" stroke="#000000" stroke-width="3.3" stroke-linejoin="round"/>
<polygon points="453.25,1224.2 458.61,1234.05 447.89,1234.05" fill="none" stroke="#000000" stroke-width="3.3" stroke-linejoin="round"/>
<text x="445.75" y="1139.3" font-size="28" text-anchor="middle" fill="#000000" >a</text>
<circle cx="498.5" cy="1442.32" r="5.9" fill="#000000"/>
<circle cx="505.5" cy="1443.06" r="5.9" fill="#000000"/>
<circle cx="502" cy="1446.05" r="5.9" fill="#000000"/>
<circle cx="505" cy="1447.91" r="5.9" fill="#000000"/>
<circle cx="499" cy="1449.78" r="5.9" fill="#000000"/>
<text x="500.5" y="1424.2" font-size="28" text-anchor="middle" fill="#000000" >b</text>
<rect x="522.25" y="1441.51" width="12.8" height="12.8" fill="#000000" stroke="none" stroke-width="0"/>
<rect x="529.25" y="1443.38" width="12.8" height="12.8" fill="#000000" stroke="none" stroke-width="0"/>
<rect x="525.75" y="1445.24" width="12.8" height="12.8" fill="#000000" stroke="none" stroke-width="0"/>
<rect x="528.75" y="1447.11" width="12.8" height="12.8" fill="#000000" stroke="none" stroke-width="0"/>
<rect x="522.75" y="1448.98" width="12.8" height="12.8" fill="#000000" stroke="none" stroke-width="0"/>
<rect x="526.75" y="1450.84" width="12.8" height="12.8" fill="#000000" stroke="none" stroke-width="0"/>
<text x="530.65" y="1429.7" font-size="28" text-anchor="middle" fill="#000000" >c</text>
<polygon points="558.8,1443.38 565.2,1455.22 552.4,1455.22" fill="#000000"/>
<polygon points="565.8,1445.24 572.2,1457.09 559.4,1457.09" fill="#000000"/>
<polygon points="562.3,1447.11 568.7,1458.95 555.9,1458.95" fill="#000000"/>
<polygon points="565.3,1448.98 571.7,1460.82 558.9,1460.82" fill="#000000"/>
<polygon points="559.3,1450.84 565.7,1462.68 552.9,1462.68" fill="#000000"/>
<text x="560.8" y="1429.7" font-size="28" text-anchor="middle" fill="#000000" >c</text>
<polygon points="588.95,1457.3 595.35,1445.46 582.55,1445.46" fill="#000000"/>
<polygon points="595.95,1458.79 602.35,1446.95 589.55,1446.95" fill="#000000"/>
<polygon points="592.45,1460.66 598.85,1448.82 586.05,1448.82" fill="#000000"/>
<polygon points="595.45,1462.52 601.85,1450.68 589.05,1450.68" fill="#000000"/>
<polygon points="589.45,1464.76 595.85,1452.92 583.05,1452.92" fill="#000000"/>
<text x="590.95" y="1429.7" font-size="28" text-anchor="middle" fill="#000000" >c</text>
<polygon points="619.1,1417.26 625.5,1423.66 619.1,1430.06 612.7,1423.66" fill="#000000"/>
<polygon points="626.1,1420.99 632.5,1427.39 626.1,1433.79 619.7,1427.39" fill="#000000"/>
<polygon points="622.6,1422.86 629,1429.26 622.6,1435.66 616.2,1429.26" fill="#000000"/>
<polygon points="625.6,1426.59 632,1432.99 625.6,1439.39 619.2,1432.99" fill="#000000"/>
<polygon points="619.6,1430.32 626,1436.72 619.6,1443.12 613.2,1436.72" fill="#000000"/>
<polygon points="623.6,1434.05 630,1440.45 623.6,1446.85 617.2,1440.45" fill="#000000"/>
<text x="621.1" y="1404" font-size="28" text-anchor="middle" fill="#000000" >a</text>
<circle cx="649.25" cy="1425.53" r="5.25" fill="none" stroke="#000000" stroke-width="3.5"/>
<circle cx="656.25" cy="1429.26" r="5.25" fill="none" stroke="#000000" stroke-width="3.5"/>
<circle cx="652.75" cy="1431.12" r="5.25" fill="none" stroke="#000000" stroke-width="3.5"/>
<circle cx="655.75" cy="1438.59" r="5.25" fill="none" stroke="#000000" stroke-width="3.5"/>
<circle cx="649.75" cy="1442.32" r="5.25" fill="none" stroke="#000000" stroke-width="3.5"/>
<circle cx="653.75" cy="1444.93" r="5.25" fill="none" stroke="#000000" stroke-width="3.5"/>
<text x="651.25" y="1409.5" font-size="28" text-anchor="middle" fill="#000000" >a</text>
<rect x="674.15" y="1418.41" width="10.5" height="10.5" fill="none" stroke="#000000" stroke-width="3.5"/>
<rect x="681.15" y="1422.14" width="10.5" height="10.5" fill="none" stroke="#000000" stroke-width="3.5"/>
<rect x="677.65" y="1425.87" width="10.5" height="10.5" fill="none" stroke="#000000" stroke-width="3.5"/>
<rect x="680.65" y="1429.61" width="10.5" height="10.5" fill="none" stroke="#000000" stroke-width="3.5"/>
<rect x="674.65" y="1435.2" width="10.5" height="10.5" fill="none" stroke="#000000" stroke-width="3.5"/>
<rect x="678.65" y="1438.93" width="10.5" height="10.5" fill="none" stroke="#000000" stroke-width="3.5"/>
<text x="681.4" y="1409.5" font-size="28" text-anchor="middle" fill="#000000" >a</text>
<polygon points="709.55,1420.83 714.91,1430.68 704.19,1430.68" fill="none" stroke="#000000" stroke-width="3.3" stroke-linejoin="round"/>
<polygon points="716.55,1424.56 721.91,1434.41 711.19,1434.41" fill="none" stroke="#000000" stroke-width="3.3" stroke-linejoin="round"/>
<polygon points="713.05,1428.29 718.41,1438.14 707.69,1438.14" fill="none" stroke="#000000" stroke-width="3.3" stroke-linejoin="round"/>
<polygon points="716.05,1432.02 721.41,1441.87 710.69,1441.87" fill="none" stroke="#000000" stroke-width="3.3" stroke-linejoin="round"/>
<polygon points="710.05,1435.75 715.41,1445.6 704.69,1445.6" fill="none" stroke="#000000" stroke-width="3.3" stroke-linejoin="round"/>
<polygon points="714.05,1439.48 719.41,1449.33 708.69,1449.33" fill="none" stroke="#000000" stroke-width="3.3" stroke-linejoin="round"/>
<text x="711.55" y="1409.5" font-size="28" text-anchor="middle" fill="#000000" >a</text>
<circle cx="767.1" cy="1285.24" r="5.9" fill="#000000"/>
<circle cx="767.1" cy="1321.43" r="5.9" fill="#000000"/>
<text x="765.6" y="1273.5" font-size="28" text-anchor="middle" fill="#000000" >a</text>
<rect x="790.85" y="1294.89" width="12.8" height="12.8" fill="#000000" stroke="none" stroke-width="0"/>
<rect x="790.85" y="1315.03" width="12.8" height="12.8" fill="#000000" stroke="none" stroke-width="0"/>
<rect x="790.85" y="1327.72" width="12.8" height="12.8" fill="#000000" stroke="none" stroke-width="0"/>
<rect x="790.85" y="1353.46" width="12.8" height="12.8" fill="#000000" stroke="none" stroke-width="0"/>
<rect x="786.85" y="1360.92" width="12.8" height="12.8" fill="#000000" stroke="none" stroke-width="0"/>
<rect x="794.85" y="1373.98" width="12.8" height="12.8" fill="#000000" stroke="none" stroke-width="0"/>
<text x="795.75" y="1277.1" font-size="28" text-anchor="middle" fill="#000000" >a</text>
<polygon points="832.4,1313.17 838.8,1325.01 826,1325.01" fill="#000000"/>
<polygon points="822.4,1317.64 828.8,1329.48 816,1329.48" fill="#000000"/>
<polygon points="827.4,1337.05 833.8,1348.89 821,1348.89" fill="#000000"/>
<polygon points="827.4,1359.06 833.8,1370.9 821,1370.9" fill="#000000"/>
<polygon points="822.4,1373.98 828.8,1385.82 816,1385.82" fill="#000000"/>
<polygon points="831.4,1384.8 837.8,1396.64 825,1396.64" fill="#000000"/>
<text x="825.9" y="1287.1" font-size="28" text-anchor="middle" fill="#000000" >a</text>
<polygon points="857.55,1321.49 863.95,1309.65 851.15,1309.65" fill="#000000"/>
<polygon points="857.55,1331.56 863.95,1319.72 851.15,1319.72" fill="#000000"/>
<polygon points="858.55,1341.26 864.95,1329.42 852.15,1329.42" fill="#000000"/>
<polygon points="853.55,1379.32 859.95,1367.48 847.15,1367.48" fill="#000000"/>
<polygon points="858.55,1383.05 864.95,1371.21 852.15,1371.21" fill="#000000"/>
<polygon points="861.55,1391.26 867.95,1379.42 855.15,1379.42" fill="#000000"/>
<text x="856.05" y="1286.3" font-size="28" text-anchor="middle" fill="#000000" >a</text>
<polygon points="892.7,1302.72 899.1,1309.12 892.7,1315.52 886.3,1309.12" fill="#000000"/>
<polygon points="883.7,1307.57 890.1,1313.97 883.7,1320.37 877.3,1313.97" fill="#000000"/>
<polygon points="887.7,1318.76 894.1,1325.16 887.7,1331.56 881.3,1325.16" fill="#000000"/>
<polygon points="884.7,1353.46 891.1,1359.86 884.7,1366.26 878.3,1359.86" fill="#000000"/>
<polygon points="887.7,1359.06 894.1,1365.46 887.7,1371.86 881.3,1365.46" fill="#000000"/>
<polygon points="890.7,1364.66 897.1,1371.06 890.7,1377.46 884.3,1371.06" fill="#000000"/>
<text x="886.2" y="1277.1" font-size="28" text-anchor="middle" fill="#000000" >a</text>
<circle cx="917.85" cy="1298.67" r="5.25" fill="none" stroke="#000000" stroke-width="3.5"/>
<circle cx="917.85" cy="1322.18" r="5.25" fill="none" stroke="#000000" stroke-width="3.5"/>
<circle cx="912.85" cy="1348.3" r="5.25" fill="none" stroke="#000000" stroke-width="3.5"/>
<circle cx="922.85" cy="1355.76" r="5.25" fill="none" stroke="#000000" stroke-width="3.5"/>
<circle cx="913.85" cy="1361.73" r="5.25" fill="none" stroke="#000000" stroke-width="3.5"/>
<circle cx="921.85" cy="1372.92" r="5.25" fill="none" stroke="#000000" stroke-width="3.5"/>
<text x="916.35" y="1276" font-size="28" text-anchor="middle" fill="#000000" >a</text>
<rect x="942.75" y="1307.6" width="10.5" height="10.5" fill="none" stroke="#000000" stroke-width="3.5"/>
<rect x="937.75" y="1326.26" width="10.5" height="10.5" fill="none" stroke="#000000" stroke-width="3.5"/>
<rect x="942.75" y="1331.85" width="10.5" height="10.5" fill="none" stroke="#000000" stroke-width="3.5"/>
<rect x="946.75" y="1338.2" width="10.5" height="10.5" fill="none" stroke="#000000" stroke-width="3.5"/>
<rect x="939.75" y="1382.22" width="10.5" height="10.5" fill="none" stroke="#000000" stroke-width="3.5"/>
<rect x="946.75" y="1382.22" width="10.5" height="10.5" fill="none" stroke="#000000" stroke-width="3.5"/>
<text x="946.5" y="1283.4" font-size="28" text-anchor="middle" fill="#000000" >a</text>
<polygon points="978.15,1302.18 983.51,1312.03 972.79,1312.03" fill="none" stroke="#000000" stroke-width="3.3" stroke-linejoin="round"/>
<polygon points="974.15,1310.39 979.51,1320.24 968.79,1320.24" fill="none" stroke="#000000" stroke-width="3.3" stroke-linejoin="round"/>
<polygon points="983.15,1319.34 988.51,1329.19 977.79,1329.19" fill="none" stroke="#000000" stroke-width="3.3" stroke-linejoin="round"/>
<polygon points="978.15,1351.06 983.51,1360.91 972.79,1360.91" fill="none" stroke="#000000" stroke-width="3.3" stroke-linejoin="round"/>
<polygon points="974.15,1370.83 979.51,1380.68 968.79,1380.68" fill="none" stroke="#000000" stroke-width="3.3" stroke-linejoin="round"/>
<polygon points="983.15,1371.95 988.51,1381.8 977.79,1381.8" fill="none" stroke="#000000" stroke-width="3.3" stroke-linejoin="round"/>
<text x="976.65" y="1275.3" font-size="28" text-anchor="middle" fill="#000000" >a</text>
<circle cx="1035.5" cy="1423.66" r="5.9" fill="#000000"/>
<circle cx="1029.5" cy="1429.26" r="5.9" fill="#000000"/>
<circle cx="1032.5" cy="1432.99" r="5.9" fill="#000000"/>
<circle cx="1035.5" cy="1436.72" r="5.9" fill="#000000"/>
<text x="1031" y="1402.1" font-size="28" text-anchor="middle" fill="#000000" >a</text>
<rect x="1059.25" y="1417.26" width="12.8" height="12.8" fill="#000000" stroke="none" stroke-width="0"/>
<rect x="1053.25" y="1422.86" width="12.8" height="12.8" fill="#000000" stroke="none" stroke-width="0"/>
<rect x="1056.25" y="1426.59" width="12.8" height="12.8" fill="#000000" stroke="none" stroke-width="0"/>
<rect x="1059.25" y="1432.19" width="12.8" height="12.8" fill="#000000" stroke="none" stroke-width="0"/>
<rect x="1053.25" y="1435.92" width="12.8" height="12.8" fill="#000000" stroke="none" stroke-width="0"/>
<rect x="1060.25" y="1439.65" width="12.8" height="12.8" fill="#000000" stroke="none" stroke-width="0"/>
<text x="1061.15" y="1402.1" font-size="28" text-anchor="middle" fill="#000000" >a</text>
<polygon points="1095.8,1417.26 1102.2,1429.1 1089.4,1429.1" fill="#000000"/>
<polygon points="1089.8,1422.86 1096.2,1434.7 1083.4,1434.7" fill="#000000"/>
<polygon points="1092.8,1426.59 1099.2,1438.43 1086.4,1438.43" fill="#000000"/>
<polygon points="1095.8,1432.19 1102.2,1444.03 1089.4,1444.03" fill="#000000"/>
<polygon points="1089.8,1435.92 1096.2,1447.76 1083.4,1447.76" fill="#000000"/>
<polygon points="1096.8,1439.65 1103.2,1451.49 1090.4,1451.49" fill="#000000"/>
<text x="1091.3" y="1402.1" font-size="28" text-anchor="middle" fill="#000000" >a</text>
<polygon points="1125.95,1430.06 1132.35,1418.22 1119.55,1418.22" fill="#000000"/>
<polygon points="1119.95,1435.66 1126.35,1423.82 1113.55,1423.82" fill="#000000"/>
<polygon points="1122.95,1439.39 1129.35,1427.55 1116.55,1427.55" fill="#000000"/>
<polygon points="1125.95,1444.99 1132.35,1433.15 1119.55,1433.15" fill="#000000"/>
<polygon points="1119.95,1448.72 1126.35,1436.88 1113.55,1436.88" fill="#000000"/>
<polygon points="1126.95,1452.45 1133.35,1440.61 1120.55,1440.61" fill="#000000"/>
<text x="1121.45" y="1402.1" font-size="28" text-anchor="middle" fill="#000000" >a</text>
<polygon points="1156.1,1417.26 1162.5,1423.66 1156.1,1430.06 1149.7,1423.66" fill="#000000"/>
<polygon points="1150.1,1422.86 1156.5,1429.26 1150.1,1435.66 1143.7,1429.26" fill="#000000"/>
<polygon points="1153.1,1426.59 1159.5,1432.99 1153.1,1439.39 1146.7,1432.99" fill="#000000"/>
<polygon points="1156.1,1432.19 1162.5,1438.59 1156.1,1444.99 1149.7,1438.59" fill="#000000"/>
<text x="1151.6" y="1402.1" font-size="28" text-anchor="middle" fill="#000000" >a</text>
<circle cx="1186.25" cy="1423.66" r="5.25" fill="none" stroke="#000000" stroke-width="3.5"/>
<circle cx="1180.25" cy="1429.26" r="5.25" fill="none" stroke="#000000" stroke-width="3.5"/>
<circle cx="1183.25" cy="1432.99" r="5.25" fill="none" stroke="#000000" stroke-width="3.5"/>
<circle cx="1186.25" cy="1438.59" r="5.25" fill="none" stroke="#000000" stroke-width="3.5"/>
<circle cx="1180.25" cy="1442.32" r="5.25" fill="none" stroke="#000000" stroke-width="3.5"/>
<circle cx="1187.25" cy="1446.05" r="5.25" fill="none" stroke="#000000" stroke-width="3.5"/>
<text x="1181.75" y="1402.1" font-size="28" text-anchor="middle" fill="#000000" >a</text>
<rect x="1211.15" y="1418.41" width="10.5" height="10.5" fill="none" stroke="#000000" stroke-width="3.5"/>
<rect x="1205.15" y="1424.01" width="10.5" height="10.5" fill="none" stroke="#000000" stroke-width="3.5"/>
<rect x="1208.15" y="1427.74" width="10.5" height="10.5" fill="none" stroke="#000000" stroke-width="3.5"/>
<rect x="1211.15" y="1433.34" width="10.5" height="10.5" fill="none" stroke="#000000" stroke-width="3.5"/>
<rect x="1205.15" y="1437.07" width="10.5" height="10.5" fill="none" stroke="#000000" stroke-width="3.5"/>
<rect x="1212.15" y="1440.8" width="10.5" height="10.5" fill="none" stroke="#000000" stroke-width="3.5"/>
<text x="1211.9" y="1405.8" font-size="28" text-anchor="middle" fill="#000000" >a</text>
<polygon points="1246.55,1418.96 1251.91,1428.81 1241.19,1428.81" fill="none" stroke="#000000" stroke-width="3.3" stroke-linejoin="round"/>
<polygon points="1240.55,1424.56 1245.91,1434.41 1235.19,1434.41" fill="none" stroke="#000000" stroke-width="3.3" stroke-linejoin="round"/>
<polygon points="1243.55,1428.29 1248.91,1438.14 1238.19,1438.14" fill="none" stroke="#000000" stroke-width="3.3" stroke-linejoin="round"/>
<polygon points="1246.55,1433.89 1251.91,1443.74 1241.19,1443.74" fill="none" stroke="#000000" stroke-width="3.3" stroke-linejoin="round"/>
<polygon points="1240.55,1437.62 1245.91,1447.47 1235.19,1447.47" fill="none" stroke="#000000" stroke-width="3.3" stroke-linejoin="round"/>
<polygon points="1247.55,1441.35 1252.91,1451.2 1242.19,1451.2" fill="none" stroke="#000000" stroke-width="3.3" stroke-linejoin="round"/>
<text x="1242.05" y="1400.3" font-size="28" text-anchor="middle" fill="#000000" >a</text>
<line x1="218.7" y1="1095.2" x2="218.7" y2="1472.3" stroke="#000000" stroke-width="4" stroke-linecap="butt" />
<line x1="216.7" y1="1470.3" x2="1266.5" y2="1470.3" stroke="#000000" stroke-width="4" stroke-linecap="butt" />
<line x1="202.7" y1="1470.3" x2="218.7" y2="1470.3" stroke="#000000" stroke-width="3.6" stroke-linecap="butt" />
<text x="198" y="1480.24" font-size="28" text-anchor="end" fill="#000000" >0</text>
<line x1="202.7" y1="1395.68" x2="218.7" y2="1395.68" stroke="#000000" stroke-width="3.6" stroke-linecap="butt" />
<text x="198" y="1405.62" font-size="28" text-anchor="end" fill="#000000" >20</text>
<line x1="202.7" y1="1321.06" x2="218.7" y2="1321.06" stroke="#000000" stroke-width="3.6" stroke-linecap="butt" />
<text x="198" y="1331" font-size="28" text-anchor="end" fill="#000000" >40</text>
<line x1="202.7" y1="1246.44" x2="218.7" y2="1246.44" stroke="#000000" stroke-width="3.6" stroke-linecap="butt" />
<text x="198" y="1256.38" font-size="28" text-anchor="end" fill="#000000" >60</text>
<line x1="202.7" y1="1171.82" x2="218.7" y2="1171.82" stroke="#000000" stroke-width="3.6" stroke-linecap="butt" />
<text x="198" y="1181.76" font-size="28" text-anchor="end" fill="#000000" >80</text>
<line x1="202.7" y1="1097.2" x2="218.7" y2="1097.2" stroke="#000000" stroke-width="3.6" stroke-linecap="butt" />
<text x="198" y="1107.14" font-size="28" text-anchor="end" fill="#000000" >100</text>
<line x1="341.9" y1="1470.3" x2="341.9" y2="1486.3" stroke="#000000" stroke-width="3.6" stroke-linecap="butt" />
<text x="341.9" y="1517" font-size="28" text-anchor="middle" fill="#000000" >TAG</text>
<line x1="607.4" y1="1470.3" x2="607.4" y2="1486.3" stroke="#000000" stroke-width="3.6" stroke-linecap="butt" />
<text x="607.4" y="1517" font-size="28" text-anchor="middle" fill="#000000" >CE</text>
<line x1="872.8" y1="1470.3" x2="872.8" y2="1486.3" stroke="#000000" stroke-width="3.6" stroke-linecap="butt" />
<text x="872.8" y="1517" font-size="28" text-anchor="middle" fill="#000000" >PL</text>
<line x1="1139" y1="1470.3" x2="1139" y2="1486.3" stroke="#000000" stroke-width="3.6" stroke-linecap="butt" />
<text x="1139" y="1517" font-size="28" text-anchor="middle" fill="#000000" >FFA</text>
<text x="1307" y="1179.5" font-size="29.2" text-anchor="start" fill="#000000" >Ces2h</text>
<text x="1673" y="1179.5" font-size="29.2" text-anchor="start" fill="#000000" >Ces2h<tspan font-size="20.5" dy="-15">p.G193A</tspan><tspan dy="15" font-size="1">&#8203;</tspan></text>
<rect x="1310.5" y="1193.5" width="39.5" height="19" fill="#000000" stroke="none" stroke-width="0"/>
<rect x="1675.1" y="1195.1" width="36.3" height="15.8" fill="white" stroke="#000000" stroke-width="3.2"/>
<text x="1371.5" y="1212" font-size="29.2" text-anchor="start" fill="#000000" >without nanoparticle</text>
<text x="1734.6" y="1212" font-size="29.2" text-anchor="start" fill="#000000" >without nanoparticle</text>
<rect x="1310.5" y="1231.5" width="39.5" height="19" fill="#fe0000" stroke="none" stroke-width="0"/>
<rect x="1675.1" y="1233.1" width="36.3" height="15.8" fill="white" stroke="#fe0000" stroke-width="3.2"/>
<text x="1371.5" y="1247.5" font-size="29.2" text-anchor="start" fill="#000000" >with TiO<tspan font-size="20.5" dy="7">2</tspan><tspan dy="-7" font-size="1">&#8203;</tspan></text>
<text x="1734.6" y="1247.5" font-size="29.2" text-anchor="start" fill="#000000" >with TiO<tspan font-size="20.5" dy="7">2</tspan><tspan dy="-7" font-size="1">&#8203;</tspan></text>
<rect x="1310.5" y="1272.3" width="39.5" height="19" fill="#a1a1a5" stroke="none" stroke-width="0"/>
<rect x="1675.1" y="1273.9" width="36.3" height="15.8" fill="white" stroke="#a1a1a5" stroke-width="3.2"/>
<text x="1371.5" y="1288" font-size="29.2" text-anchor="start" fill="#000000" >with NaYF<tspan font-size="20.5" dy="7">4</tspan><tspan dy="-7" font-size="1">&#8203;</tspan></text>
<text x="1734.6" y="1288" font-size="29.2" text-anchor="start" fill="#000000" >with NaYF<tspan font-size="20.5" dy="7">4</tspan><tspan dy="-7" font-size="1">&#8203;</tspan></text>
<rect x="1310.5" y="1310.8" width="39.5" height="19" fill="#56a0f8" stroke="none" stroke-width="0"/>
<rect x="1675.1" y="1312.4" width="36.3" height="15.8" fill="white" stroke="#56a0f8" stroke-width="3.2"/>
<text x="1371.5" y="1328.6" font-size="29.2" text-anchor="start" fill="#000000" >with Au</text>
<text x="1734.6" y="1328.6" font-size="29.2" text-anchor="start" fill="#000000" >with Au</text>
<text x="-1" y="1581.5" font-size="41" font-weight="bold" text-anchor="start" fill="#000000" >e</text>
<text x="386" y="1593.3" font-size="36" font-weight="bold" text-anchor="middle" fill="#000000" >Chase period-TAG</text>
<text x="39.5" y="1798" font-size="29.3" text-anchor="middle" fill="#000000" transform="rotate(-90 39.5 1798)" >[1-<tspan font-size="19.5" dy="-11.5">13</tspan><tspan dy="11.5" font-size="1">&#8203;</tspan>C]Oleate in TG (% of pulse)</text>
<rect x="117.2" y="1766.16" width="15.8" height="221.44" fill="#000000" stroke="none" stroke-width="0"/>
<line x1="125.1" y1="1751.88" x2="125.1" y2="1780.43" stroke="#000000" stroke-width="2" stroke-linecap="butt" />
<line x1="121.1" y1="1751.88" x2="129.1" y2="1751.88" stroke="#000000" stroke-width="2" stroke-linecap="butt" />
<line x1="121.1" y1="1780.43" x2="129.1" y2="1780.43" stroke="#000000" stroke-width="2" stroke-linecap="butt" />
<rect x="138.58" y="1840.86" width="15.8" height="146.74" fill="#fe0000" stroke="none" stroke-width="0"/>
<line x1="146.48" y1="1830.9" x2="146.48" y2="1850.82" stroke="#000000" stroke-width="2" stroke-linecap="butt" />
<line x1="142.48" y1="1830.9" x2="150.48" y2="1830.9" stroke="#000000" stroke-width="2" stroke-linecap="butt" />
<line x1="142.48" y1="1850.82" x2="150.48" y2="1850.82" stroke="#000000" stroke-width="2" stroke-linecap="butt" />
<rect x="159.96" y="1843.18" width="15.8" height="144.42" fill="#a1a1a5" stroke="none" stroke-width="0"/>
<line x1="167.86" y1="1831.56" x2="167.86" y2="1854.8" stroke="#000000" stroke-width="2" stroke-linecap="butt" />
<line x1="163.86" y1="1831.56" x2="171.86" y2="1831.56" stroke="#000000" stroke-width="2" stroke-linecap="butt" />
<line x1="163.86" y1="1854.8" x2="171.86" y2="1854.8" stroke="#000000" stroke-width="2" stroke-linecap="butt" />
<rect x="181.34" y="1842.18" width="15.8" height="145.42" fill="#56a0f8" stroke="none" stroke-width="0"/>
<line x1="189.24" y1="1831.23" x2="189.24" y2="1853.14" stroke="#000000" stroke-width="2" stroke-linecap="butt" />
<line x1="185.24" y1="1831.23" x2="193.24" y2="1831.23" stroke="#000000" stroke-width="2" stroke-linecap="butt" />
<line x1="185.24" y1="1853.14" x2="193.24" y2="1853.14" stroke="#000000" stroke-width="2" stroke-linecap="butt" />
<path d="M204.32 1987.6 V1698.7 H216.92 V1987.6" fill="white" stroke="#000000" stroke-width="3.2"/>
<line x1="210.62" y1="1677.84" x2="210.62" y2="1716.36" stroke="#000000" stroke-width="2" stroke-linecap="butt" />
<line x1="206.62" y1="1677.84" x2="214.62" y2="1677.84" stroke="#000000" stroke-width="2" stroke-linecap="butt" />
<line x1="206.62" y1="1716.36" x2="214.62" y2="1716.36" stroke="#000000" stroke-width="2" stroke-linecap="butt" />
<path d="M225.7 1987.6 V1700.36 H238.3 V1987.6" fill="white" stroke="#fe0000" stroke-width="3.2"/>
<line x1="232" y1="1682.16" x2="232" y2="1715.36" stroke="#fe0000" stroke-width="2" stroke-linecap="butt" />
<line x1="228" y1="1682.16" x2="236" y2="1682.16" stroke="#fe0000" stroke-width="2" stroke-linecap="butt" />
<line x1="228" y1="1715.36" x2="236" y2="1715.36" stroke="#fe0000" stroke-width="2" stroke-linecap="butt" />
<path d="M247.08 1987.6 V1699.36 H259.68 V1987.6" fill="white" stroke="#a1a1a5" stroke-width="3.2"/>
<line x1="253.38" y1="1681.16" x2="253.38" y2="1714.36" stroke="#a1a1a5" stroke-width="2" stroke-linecap="butt" />
<line x1="249.38" y1="1681.16" x2="257.38" y2="1681.16" stroke="#a1a1a5" stroke-width="2" stroke-linecap="butt" />
<line x1="249.38" y1="1714.36" x2="257.38" y2="1714.36" stroke="#a1a1a5" stroke-width="2" stroke-linecap="butt" />
<path d="M268.46 1987.6 V1699.36 H281.06 V1987.6" fill="white" stroke="#56a0f8" stroke-width="3.2"/>
<line x1="274.76" y1="1682.16" x2="274.76" y2="1713.37" stroke="#56a0f8" stroke-width="2" stroke-linecap="butt" />
<line x1="270.76" y1="1682.16" x2="278.76" y2="1682.16" stroke="#56a0f8" stroke-width="2" stroke-linecap="butt" />
<line x1="270.76" y1="1713.37" x2="278.76" y2="1713.37" stroke="#56a0f8" stroke-width="2" stroke-linecap="butt" />
<rect x="304" y="1839.86" width="15.8" height="147.74" fill="#000000" stroke="none" stroke-width="0"/>
<line x1="311.9" y1="1832.22" x2="311.9" y2="1847.5" stroke="#000000" stroke-width="2" stroke-linecap="butt" />
<line x1="307.9" y1="1832.22" x2="315.9" y2="1832.22" stroke="#000000" stroke-width="2" stroke-linecap="butt" />
<line x1="307.9" y1="1847.5" x2="315.9" y2="1847.5" stroke="#000000" stroke-width="2" stroke-linecap="butt" />
<rect x="325.38" y="1902.94" width="15.8" height="84.66" fill="#fe0000" stroke="none" stroke-width="0"/>
<rect x="346.76" y="1906.26" width="15.8" height="81.34" fill="#a1a1a5" stroke="none" stroke-width="0"/>
<line x1="354.66" y1="1899.62" x2="354.66" y2="1912.9" stroke="#000000" stroke-width="2" stroke-linecap="butt" />
<line x1="350.66" y1="1899.62" x2="358.66" y2="1899.62" stroke="#000000" stroke-width="2" stroke-linecap="butt" />
<line x1="350.66" y1="1912.9" x2="358.66" y2="1912.9" stroke="#000000" stroke-width="2" stroke-linecap="butt" />
<rect x="368.14" y="1907.92" width="15.8" height="79.68" fill="#56a0f8" stroke="none" stroke-width="0"/>
<line x1="376.04" y1="1901.28" x2="376.04" y2="1914.56" stroke="#000000" stroke-width="2" stroke-linecap="butt" />
<line x1="372.04" y1="1901.28" x2="380.04" y2="1901.28" stroke="#000000" stroke-width="2" stroke-linecap="butt" />
<line x1="372.04" y1="1914.56" x2="380.04" y2="1914.56" stroke="#000000" stroke-width="2" stroke-linecap="butt" />
<path d="M391.12 1987.6 V1769.08 H403.72 V1987.6" fill="white" stroke="#000000" stroke-width="3.2"/>
<line x1="397.42" y1="1753.54" x2="397.42" y2="1781.43" stroke="#000000" stroke-width="2" stroke-linecap="butt" />
<line x1="393.42" y1="1753.54" x2="401.42" y2="1753.54" stroke="#000000" stroke-width="2" stroke-linecap="butt" />
<line x1="393.42" y1="1781.43" x2="401.42" y2="1781.43" stroke="#000000" stroke-width="2" stroke-linecap="butt" />
<path d="M412.5 1987.6 V1783.36 H425.1 V1987.6" fill="white" stroke="#fe0000" stroke-width="3.2"/>
<line x1="418.8" y1="1767.48" x2="418.8" y2="1796.04" stroke="#fe0000" stroke-width="2" stroke-linecap="butt" />
<line x1="414.8" y1="1767.48" x2="422.8" y2="1767.48" stroke="#fe0000" stroke-width="2" stroke-linecap="butt" />
<line x1="414.8" y1="1796.04" x2="422.8" y2="1796.04" stroke="#fe0000" stroke-width="2" stroke-linecap="butt" />
<path d="M433.88 1987.6 V1773.4 H446.48 V1987.6" fill="white" stroke="#a1a1a5" stroke-width="3.2"/>
<line x1="440.18" y1="1760.18" x2="440.18" y2="1783.42" stroke="#a1a1a5" stroke-width="2" stroke-linecap="butt" />
<line x1="436.18" y1="1760.18" x2="444.18" y2="1760.18" stroke="#a1a1a5" stroke-width="2" stroke-linecap="butt" />
<line x1="436.18" y1="1783.42" x2="444.18" y2="1783.42" stroke="#a1a1a5" stroke-width="2" stroke-linecap="butt" />
<path d="M455.26 1987.6 V1785.02 H467.86 V1987.6" fill="white" stroke="#56a0f8" stroke-width="3.2"/>
<line x1="461.56" y1="1770.8" x2="461.56" y2="1796.04" stroke="#56a0f8" stroke-width="2" stroke-linecap="butt" />
<line x1="457.56" y1="1770.8" x2="465.56" y2="1770.8" stroke="#56a0f8" stroke-width="2" stroke-linecap="butt" />
<line x1="457.56" y1="1796.04" x2="465.56" y2="1796.04" stroke="#56a0f8" stroke-width="2" stroke-linecap="butt" />
<rect x="490.4" y="1906.26" width="15.8" height="81.34" fill="#000000" stroke="none" stroke-width="0"/>
<rect x="511.78" y="1934.48" width="15.8" height="53.12" fill="#fe0000" stroke="none" stroke-width="0"/>
<line x1="519.68" y1="1930.5" x2="519.68" y2="1938.46" stroke="#000000" stroke-width="2" stroke-linecap="butt" />
<line x1="515.68" y1="1930.5" x2="523.68" y2="1930.5" stroke="#000000" stroke-width="2" stroke-linecap="butt" />
<line x1="515.68" y1="1938.46" x2="523.68" y2="1938.46" stroke="#000000" stroke-width="2" stroke-linecap="butt" />
<rect x="533.16" y="1936.14" width="15.8" height="51.46" fill="#a1a1a5" stroke="none" stroke-width="0"/>
<rect x="554.54" y="1941.12" width="15.8" height="46.48" fill="#56a0f8" stroke="none" stroke-width="0"/>
<path d="M577.52 1987.6 V1839.8 H590.12 V1987.6" fill="white" stroke="#000000" stroke-width="3.2"/>
<line x1="583.82" y1="1833.22" x2="583.82" y2="1843.18" stroke="#000000" stroke-width="2" stroke-linecap="butt" />
<line x1="579.82" y1="1833.22" x2="587.82" y2="1833.22" stroke="#000000" stroke-width="2" stroke-linecap="butt" />
<line x1="579.82" y1="1843.18" x2="587.82" y2="1843.18" stroke="#000000" stroke-width="2" stroke-linecap="butt" />
<path d="M598.9 1987.6 V1843.12 H611.5 V1987.6" fill="white" stroke="#fe0000" stroke-width="3.2"/>
<line x1="605.2" y1="1833.22" x2="605.2" y2="1849.82" stroke="#fe0000" stroke-width="2" stroke-linecap="butt" />
<line x1="601.2" y1="1833.22" x2="609.2" y2="1833.22" stroke="#fe0000" stroke-width="2" stroke-linecap="butt" />
<line x1="601.2" y1="1849.82" x2="609.2" y2="1849.82" stroke="#fe0000" stroke-width="2" stroke-linecap="butt" />
<path d="M620.28 1987.6 V1844.78 H632.88 V1987.6" fill="white" stroke="#a1a1a5" stroke-width="3.2"/>
<line x1="626.58" y1="1836.54" x2="626.58" y2="1849.82" stroke="#a1a1a5" stroke-width="2" stroke-linecap="butt" />
<line x1="622.58" y1="1836.54" x2="630.58" y2="1836.54" stroke="#a1a1a5" stroke-width="2" stroke-linecap="butt" />
<line x1="622.58" y1="1849.82" x2="630.58" y2="1849.82" stroke="#a1a1a5" stroke-width="2" stroke-linecap="butt" />
<path d="M641.66 1987.6 V1848.1 H654.26 V1987.6" fill="white" stroke="#56a0f8" stroke-width="3.2"/>
<line x1="647.96" y1="1838.2" x2="647.96" y2="1854.8" stroke="#56a0f8" stroke-width="2" stroke-linecap="butt" />
<line x1="643.96" y1="1838.2" x2="651.96" y2="1838.2" stroke="#56a0f8" stroke-width="2" stroke-linecap="butt" />
<line x1="643.96" y1="1854.8" x2="651.96" y2="1854.8" stroke="#56a0f8" stroke-width="2" stroke-linecap="butt" />
<circle cx="126.6" cy="1727.31" r="5.65" fill="#000000"/>
<circle cx="123.6" cy="1735.94" r="5.65" fill="#000000"/>
<circle cx="125.1" cy="1742.25" r="5.65" fill="#000000"/>
<text x="123.6" y="1706.4" font-size="28" text-anchor="middle" fill="#000000" >b</text>
<rect x="141.83" y="1808.15" width="12.3" height="12.3" fill="#000000" stroke="none" stroke-width="0"/>
<rect x="138.83" y="1818.44" width="12.3" height="12.3" fill="#000000" stroke="none" stroke-width="0"/>
<rect x="140.33" y="1852.3" width="12.3" height="12.3" fill="#000000" stroke="none" stroke-width="0"/>
<rect x="141.33" y="1857.61" width="12.3" height="12.3" fill="#000000" stroke="none" stroke-width="0"/>
<rect x="139.33" y="1863.92" width="12.3" height="12.3" fill="#000000" stroke="none" stroke-width="0"/>
<text x="144.98" y="1795" font-size="28" text-anchor="middle" fill="#000000" >c</text>
<polygon points="169.36,1804.83 175.51,1816.2 163.21,1816.2" fill="#000000"/>
<polygon points="166.36,1818.44 172.51,1829.82 160.21,1829.82" fill="#000000"/>
<polygon points="167.86,1853.96 174.01,1865.34 161.71,1865.34" fill="#000000"/>
<polygon points="168.86,1862.93 175.01,1874.3 162.71,1874.3" fill="#000000"/>
<polygon points="166.86,1868.9 173.01,1880.28 160.71,1880.28" fill="#000000"/>
<text x="166.36" y="1796" font-size="28" text-anchor="middle" fill="#000000" >c</text>
<polygon points="190.74,1813.81 196.89,1802.43 184.59,1802.43" fill="#000000"/>
<polygon points="187.74,1829.74 193.89,1818.36 181.59,1818.36" fill="#000000"/>
<polygon points="189.24,1837.71 195.39,1826.33 183.09,1826.33" fill="#000000"/>
<polygon points="190.24,1875.23 196.39,1863.85 184.09,1863.85" fill="#000000"/>
<polygon points="188.24,1883.53 194.39,1872.15 182.09,1872.15" fill="#000000"/>
<text x="187.74" y="1795" font-size="28" text-anchor="middle" fill="#000000" >c</text>
<polygon points="212.12,1640.82 218.27,1646.97 212.12,1653.12 205.97,1646.97" fill="#000000"/>
<polygon points="209.12,1653.43 215.27,1659.58 209.12,1665.73 202.97,1659.58" fill="#000000"/>
<polygon points="210.62,1660.41 216.77,1666.56 210.62,1672.71 204.47,1666.56" fill="#000000"/>
<polygon points="211.62,1711.87 217.77,1718.02 211.62,1724.17 205.47,1718.02" fill="#000000"/>
<polygon points="209.62,1730.79 215.77,1736.94 209.62,1743.09 203.47,1736.94" fill="#000000"/>
<polygon points="210.62,1742.74 216.77,1748.89 210.62,1755.04 204.47,1748.89" fill="#000000"/>
<text x="209.12" y="1631.4" font-size="28" text-anchor="middle" fill="#000000" >a</text>
<circle cx="233.5" cy="1653.94" r="5" fill="none" stroke="#000000" stroke-width="3.5"/>
<circle cx="230.5" cy="1663.24" r="5" fill="none" stroke="#000000" stroke-width="3.5"/>
<circle cx="232" cy="1680.83" r="5" fill="none" stroke="#000000" stroke-width="3.5"/>
<circle cx="233" cy="1716.69" r="5" fill="none" stroke="#000000" stroke-width="3.5"/>
<circle cx="231" cy="1733.29" r="5" fill="none" stroke="#000000" stroke-width="3.5"/>
<circle cx="232" cy="1745.24" r="5" fill="none" stroke="#000000" stroke-width="3.5"/>
<text x="230.5" y="1635.7" font-size="28" text-anchor="middle" fill="#000000" >a</text>
<rect x="249.88" y="1644.62" width="10" height="10" fill="none" stroke="#000000" stroke-width="3.5"/>
<rect x="246.88" y="1655.91" width="10" height="10" fill="none" stroke="#000000" stroke-width="3.5"/>
<rect x="248.38" y="1678.49" width="10" height="10" fill="none" stroke="#000000" stroke-width="3.5"/>
<rect x="249.38" y="1703.39" width="10" height="10" fill="none" stroke="#000000" stroke-width="3.5"/>
<rect x="247.38" y="1736.59" width="10" height="10" fill="none" stroke="#000000" stroke-width="3.5"/>
<rect x="248.38" y="1739.58" width="10" height="10" fill="none" stroke="#000000" stroke-width="3.5"/>
<text x="251.88" y="1633.2" font-size="28" text-anchor="middle" fill="#000000" >a</text>
<polygon points="276.26,1655.13 281.37,1664.52 271.15,1664.52" fill="none" stroke="#000000" stroke-width="3.3" stroke-linejoin="round"/>
<polygon points="273.26,1659.45 278.37,1668.84 268.15,1668.84" fill="none" stroke="#000000" stroke-width="3.3" stroke-linejoin="round"/>
<polygon points="274.76,1667.09 279.87,1676.47 269.65,1676.47" fill="none" stroke="#000000" stroke-width="3.3" stroke-linejoin="round"/>
<polygon points="275.76,1709.91 280.87,1719.3 270.65,1719.3" fill="none" stroke="#000000" stroke-width="3.3" stroke-linejoin="round"/>
<polygon points="273.76,1735.15 278.87,1744.53 268.65,1744.53" fill="none" stroke="#000000" stroke-width="3.3" stroke-linejoin="round"/>
<polygon points="274.76,1737.8 279.87,1747.19 269.65,1747.19" fill="none" stroke="#000000" stroke-width="3.3" stroke-linejoin="round"/>
<text x="273.26" y="1635.7" font-size="28" text-anchor="middle" fill="#000000" >a</text>
<circle cx="313.4" cy="1820.27" r="5.65" fill="#000000"/>
<circle cx="310.4" cy="1826.25" r="5.65" fill="#000000"/>
<text x="310.4" y="1798.6" font-size="28" text-anchor="middle" fill="#000000" >b</text>
<rect x="328.63" y="1875.54" width="12.3" height="12.3" fill="#000000" stroke="none" stroke-width="0"/>
<rect x="325.63" y="1895.13" width="12.3" height="12.3" fill="#000000" stroke="none" stroke-width="0"/>
<rect x="327.13" y="1902.1" width="12.3" height="12.3" fill="#000000" stroke="none" stroke-width="0"/>
<rect x="328.13" y="1911.07" width="12.3" height="12.3" fill="#000000" stroke="none" stroke-width="0"/>
<rect x="326.13" y="1918.37" width="12.3" height="12.3" fill="#000000" stroke="none" stroke-width="0"/>
<text x="331.78" y="1870.7" font-size="28" text-anchor="middle" fill="#000000" >c</text>
<polygon points="356.16,1882.51 362.31,1893.89 350.01,1893.89" fill="#000000"/>
<polygon points="353.16,1891.48 359.31,1902.86 347.01,1902.86" fill="#000000"/>
<polygon points="354.66,1905.75 360.81,1917.13 348.51,1917.13" fill="#000000"/>
<polygon points="355.66,1917.71 361.81,1929.08 349.51,1929.08" fill="#000000"/>
<text x="353.16" y="1873.5" font-size="28" text-anchor="middle" fill="#000000" >c</text>
<polygon points="377.54,1900.13 383.69,1888.75 371.39,1888.75" fill="#000000"/>
<polygon points="374.54,1919.71 380.69,1908.34 368.39,1908.34" fill="#000000"/>
<polygon points="376.04,1926.35 382.19,1914.98 369.89,1914.98" fill="#000000"/>
<polygon points="377.04,1927.68 383.19,1916.3 370.89,1916.3" fill="#000000"/>
<text x="374.54" y="1876" font-size="28" text-anchor="middle" fill="#000000" >c</text>
<polygon points="398.92,1725.48 405.07,1731.63 398.92,1737.78 392.77,1731.63" fill="#000000"/>
<polygon points="395.92,1734.44 402.07,1740.59 395.92,1746.74 389.77,1740.59" fill="#000000"/>
<polygon points="397.42,1768.31 403.57,1774.46 397.42,1780.61 391.27,1774.46" fill="#000000"/>
<polygon points="398.42,1798.52 404.57,1804.67 398.42,1810.82 392.27,1804.67" fill="#000000"/>
<polygon points="396.42,1802.17 402.57,1808.32 396.42,1814.47 390.27,1808.32" fill="#000000"/>
<text x="395.92" y="1701" font-size="28" text-anchor="middle" fill="#000000" >a</text>
<circle cx="420.3" cy="1740.59" r="5" fill="none" stroke="#000000" stroke-width="3.5"/>
<circle cx="417.3" cy="1745.9" r="5" fill="none" stroke="#000000" stroke-width="3.5"/>
<circle cx="418.8" cy="1782.42" r="5" fill="none" stroke="#000000" stroke-width="3.5"/>
<circle cx="419.8" cy="1794.04" r="5" fill="none" stroke="#000000" stroke-width="3.5"/>
<circle cx="417.8" cy="1832.22" r="5" fill="none" stroke="#000000" stroke-width="3.5"/>
<text x="417.3" y="1715.4" font-size="28" text-anchor="middle" fill="#000000" >a</text>
<rect x="436.68" y="1731.94" width="10" height="10" fill="none" stroke="#000000" stroke-width="3.5"/>
<rect x="433.68" y="1733.93" width="10" height="10" fill="none" stroke="#000000" stroke-width="3.5"/>
<rect x="435.18" y="1768.79" width="10" height="10" fill="none" stroke="#000000" stroke-width="3.5"/>
<rect x="436.18" y="1786.72" width="10" height="10" fill="none" stroke="#000000" stroke-width="3.5"/>
<rect x="434.18" y="1798.01" width="10" height="10" fill="none" stroke="#000000" stroke-width="3.5"/>
<rect x="435.18" y="1808.63" width="10" height="10" fill="none" stroke="#000000" stroke-width="3.5"/>
<text x="438.68" y="1711.8" font-size="28" text-anchor="middle" fill="#000000" >a</text>
<polygon points="463.06,1732.49 468.17,1741.88 457.95,1741.88" fill="none" stroke="#000000" stroke-width="3.3" stroke-linejoin="round"/>
<polygon points="460.06,1752.08 465.17,1761.47 454.95,1761.47" fill="none" stroke="#000000" stroke-width="3.3" stroke-linejoin="round"/>
<polygon points="461.56,1789.59 466.67,1798.98 456.45,1798.98" fill="none" stroke="#000000" stroke-width="3.3" stroke-linejoin="round"/>
<polygon points="462.56,1794.24 467.67,1803.63 457.45,1803.63" fill="none" stroke="#000000" stroke-width="3.3" stroke-linejoin="round"/>
<polygon points="460.56,1800.55 465.67,1809.94 455.45,1809.94" fill="none" stroke="#000000" stroke-width="3.3" stroke-linejoin="round"/>
<polygon points="461.56,1804.87 466.67,1814.25 456.45,1814.25" fill="none" stroke="#000000" stroke-width="3.3" stroke-linejoin="round"/>
<text x="460.06" y="1719" font-size="28" text-anchor="middle" fill="#000000" >a</text>
<circle cx="499.8" cy="1886.01" r="5.65" fill="#000000"/>
<circle cx="496.8" cy="1897.63" r="5.65" fill="#000000"/>
<circle cx="498.3" cy="1902.94" r="5.65" fill="#000000"/>
<text x="496.8" y="1870.7" font-size="28" text-anchor="middle" fill="#000000" >b</text>
<rect x="515.03" y="1919.03" width="12.3" height="12.3" fill="#000000" stroke="none" stroke-width="0"/>
<rect x="512.03" y="1935.97" width="12.3" height="12.3" fill="#000000" stroke="none" stroke-width="0"/>
<text x="518.18" y="1901" font-size="28" text-anchor="middle" fill="#000000" >c</text>
<polygon points="542.56,1921.03 548.71,1932.4 536.41,1932.4" fill="#000000"/>
<polygon points="539.56,1930.65 545.71,1942.03 533.41,1942.03" fill="#000000"/>
<polygon points="541.06,1937.96 547.21,1949.34 534.91,1949.34" fill="#000000"/>
<text x="539.56" y="1904.6" font-size="28" text-anchor="middle" fill="#000000" >c</text>
<polygon points="563.94,1939.63 570.09,1928.26 557.79,1928.26" fill="#000000"/>
<polygon points="560.94,1946.61 567.09,1935.23 554.79,1935.23" fill="#000000"/>
<polygon points="562.44,1952.58 568.59,1941.2 556.29,1941.2" fill="#000000"/>
<polygon points="563.44,1959.22 569.59,1947.84 557.29,1947.84" fill="#000000"/>
<text x="560.94" y="1910" font-size="28" text-anchor="middle" fill="#000000" >c</text>
<polygon points="585.32,1811.8 591.47,1817.95 585.32,1824.1 579.17,1817.95" fill="#000000"/>
<polygon points="582.32,1819.1 588.47,1825.25 582.32,1831.4 576.17,1825.25" fill="#000000"/>
<polygon points="583.82,1828.4 589.97,1834.55 583.82,1840.7 577.67,1834.55" fill="#000000"/>
<polygon points="584.82,1839.69 590.97,1845.84 584.82,1851.99 578.67,1845.84" fill="#000000"/>
<polygon points="582.82,1848.65 588.97,1854.8 582.82,1860.95 576.67,1854.8" fill="#000000"/>
<polygon points="583.82,1855.95 589.97,1862.1 583.82,1868.25 577.67,1862.1" fill="#000000"/>
<text x="582.32" y="1797.5" font-size="28" text-anchor="middle" fill="#000000" >a</text>
<circle cx="606.7" cy="1820.94" r="5" fill="none" stroke="#000000" stroke-width="3.5"/>
<circle cx="603.7" cy="1826.25" r="5" fill="none" stroke="#000000" stroke-width="3.5"/>
<circle cx="605.2" cy="1853.14" r="5" fill="none" stroke="#000000" stroke-width="3.5"/>
<circle cx="606.2" cy="1856.46" r="5" fill="none" stroke="#000000" stroke-width="3.5"/>
<circle cx="604.2" cy="1865.42" r="5" fill="none" stroke="#000000" stroke-width="3.5"/>
<text x="603.7" y="1800" font-size="28" text-anchor="middle" fill="#000000" >a</text>
<rect x="623.08" y="1821.25" width="10" height="10" fill="none" stroke="#000000" stroke-width="3.5"/>
<rect x="620.08" y="1824.9" width="10" height="10" fill="none" stroke="#000000" stroke-width="3.5"/>
<rect x="621.58" y="1830.21" width="10" height="10" fill="none" stroke="#000000" stroke-width="3.5"/>
<rect x="622.58" y="1858.76" width="10" height="10" fill="none" stroke="#000000" stroke-width="3.5"/>
<rect x="620.58" y="1862.42" width="10" height="10" fill="none" stroke="#000000" stroke-width="3.5"/>
<rect x="621.58" y="1865.74" width="10" height="10" fill="none" stroke="#000000" stroke-width="3.5"/>
<text x="625.08" y="1801" font-size="28" text-anchor="middle" fill="#000000" >a</text>
<polygon points="649.46,1818.15 654.57,1827.53 644.35,1827.53" fill="none" stroke="#000000" stroke-width="3.3" stroke-linejoin="round"/>
<polygon points="646.46,1820.8 651.57,1830.19 641.35,1830.19" fill="none" stroke="#000000" stroke-width="3.3" stroke-linejoin="round"/>
<polygon points="647.96,1839.73 653.07,1849.11 642.85,1849.11" fill="none" stroke="#000000" stroke-width="3.3" stroke-linejoin="round"/>
<polygon points="648.96,1850.35 654.07,1859.74 643.85,1859.74" fill="none" stroke="#000000" stroke-width="3.3" stroke-linejoin="round"/>
<polygon points="646.96,1860.97 652.07,1870.36 641.85,1870.36" fill="none" stroke="#000000" stroke-width="3.3" stroke-linejoin="round"/>
<polygon points="647.96,1866.29 653.07,1875.67 642.85,1875.67" fill="none" stroke="#000000" stroke-width="3.3" stroke-linejoin="round"/>
<text x="646.46" y="1806.4" font-size="28" text-anchor="middle" fill="#000000" >a</text>
<line x1="112.5" y1="1620.7" x2="112.5" y2="1989.6" stroke="#000000" stroke-width="4" stroke-linecap="butt" />
<line x1="110.5" y1="1987.6" x2="663" y2="1987.6" stroke="#000000" stroke-width="4" stroke-linecap="butt" />
<line x1="96.5" y1="1987.6" x2="112.5" y2="1987.6" stroke="#000000" stroke-width="3.6" stroke-linecap="butt" />
<text x="93" y="1997.54" font-size="28" text-anchor="end" fill="#000000" >0</text>
<line x1="96.5" y1="1921.2" x2="112.5" y2="1921.2" stroke="#000000" stroke-width="3.6" stroke-linecap="butt" />
<text x="93" y="1931.14" font-size="28" text-anchor="end" fill="#000000" >20</text>
<line x1="96.5" y1="1854.8" x2="112.5" y2="1854.8" stroke="#000000" stroke-width="3.6" stroke-linecap="butt" />
<text x="93" y="1864.74" font-size="28" text-anchor="end" fill="#000000" >40</text>
<line x1="96.5" y1="1788.4" x2="112.5" y2="1788.4" stroke="#000000" stroke-width="3.6" stroke-linecap="butt" />
<text x="93" y="1798.34" font-size="28" text-anchor="end" fill="#000000" >60</text>
<line x1="96.5" y1="1722" x2="112.5" y2="1722" stroke="#000000" stroke-width="3.6" stroke-linecap="butt" />
<text x="93" y="1731.94" font-size="28" text-anchor="end" fill="#000000" >80</text>
<line x1="96.5" y1="1655.6" x2="112.5" y2="1655.6" stroke="#000000" stroke-width="3.6" stroke-linecap="butt" />
<text x="93" y="1665.54" font-size="28" text-anchor="end" fill="#000000" >100</text>
<line x1="199.3" y1="1987.6" x2="199.3" y2="2003.6" stroke="#000000" stroke-width="3.6" stroke-linecap="butt" />
<text x="194.7" y="2032" font-size="28" text-anchor="middle" fill="#000000" >6 h</text>
<line x1="386.4" y1="1987.6" x2="386.4" y2="2003.6" stroke="#000000" stroke-width="3.6" stroke-linecap="butt" />
<text x="379.3" y="2032" font-size="28" text-anchor="middle" fill="#000000" >12 h</text>
<line x1="572.9" y1="1987.6" x2="572.9" y2="2003.6" stroke="#000000" stroke-width="3.6" stroke-linecap="butt" />
<text x="563.3" y="2032" font-size="28" text-anchor="middle" fill="#000000" >24 h</text>
<text x="670.5" y="1580.9" font-size="41" font-weight="bold" text-anchor="start" fill="#000000" >f</text>
<text x="1056" y="1593.3" font-size="36" font-weight="bold" text-anchor="middle" fill="#000000" >Chase period-CE</text>
<text x="704.5" y="1798" font-size="29.3" text-anchor="middle" fill="#000000" transform="rotate(-90 704.5 1798)" >[1-<tspan font-size="19.5" dy="-11.5">13</tspan><tspan dy="11.5" font-size="1">&#8203;</tspan>C]Oleate in CE (% of pulse)</text>
<rect x="785.8" y="1757.72" width="15.8" height="229.88" fill="#000000" stroke="none" stroke-width="0"/>
<line x1="793.7" y1="1740.83" x2="793.7" y2="1774.61" stroke="#000000" stroke-width="2" stroke-linecap="butt" />
<line x1="789.7" y1="1740.83" x2="797.7" y2="1740.83" stroke="#000000" stroke-width="2" stroke-linecap="butt" />
<line x1="789.7" y1="1774.61" x2="797.7" y2="1774.61" stroke="#000000" stroke-width="2" stroke-linecap="butt" />
<rect x="807.18" y="1819.55" width="15.8" height="168.05" fill="#fe0000" stroke="none" stroke-width="0"/>
<line x1="815.08" y1="1807.35" x2="815.08" y2="1831.74" stroke="#000000" stroke-width="2" stroke-linecap="butt" />
<line x1="811.08" y1="1807.35" x2="819.08" y2="1807.35" stroke="#000000" stroke-width="2" stroke-linecap="butt" />
<line x1="811.08" y1="1831.74" x2="819.08" y2="1831.74" stroke="#000000" stroke-width="2" stroke-linecap="butt" />
<rect x="828.56" y="1821.29" width="15.8" height="166.31" fill="#a1a1a5" stroke="none" stroke-width="0"/>
<line x1="836.46" y1="1812.58" x2="836.46" y2="1829.99" stroke="#000000" stroke-width="2" stroke-linecap="butt" />
<line x1="832.46" y1="1812.58" x2="840.46" y2="1812.58" stroke="#000000" stroke-width="2" stroke-linecap="butt" />
<line x1="832.46" y1="1829.99" x2="840.46" y2="1829.99" stroke="#000000" stroke-width="2" stroke-linecap="butt" />
<rect x="849.94" y="1825.64" width="15.8" height="161.96" fill="#56a0f8" stroke="none" stroke-width="0"/>
<line x1="857.84" y1="1813.45" x2="857.84" y2="1837.83" stroke="#000000" stroke-width="2" stroke-linecap="butt" />
<line x1="853.84" y1="1813.45" x2="861.84" y2="1813.45" stroke="#000000" stroke-width="2" stroke-linecap="butt" />
<line x1="853.84" y1="1837.83" x2="861.84" y2="1837.83" stroke="#000000" stroke-width="2" stroke-linecap="butt" />
<path d="M872.92 1987.6 V1688.79 H885.52 V1987.6" fill="white" stroke="#000000" stroke-width="3.2"/>
<line x1="879.22" y1="1675.87" x2="879.22" y2="1698.51" stroke="#000000" stroke-width="2" stroke-linecap="butt" />
<line x1="875.22" y1="1675.87" x2="883.22" y2="1675.87" stroke="#000000" stroke-width="2" stroke-linecap="butt" />
<line x1="875.22" y1="1698.51" x2="883.22" y2="1698.51" stroke="#000000" stroke-width="2" stroke-linecap="butt" />
<path d="M894.3 1987.6 V1693.14 H906.9 V1987.6" fill="white" stroke="#fe0000" stroke-width="3.2"/>
<line x1="900.6" y1="1679.35" x2="900.6" y2="1703.74" stroke="#fe0000" stroke-width="2" stroke-linecap="butt" />
<line x1="896.6" y1="1679.35" x2="904.6" y2="1679.35" stroke="#fe0000" stroke-width="2" stroke-linecap="butt" />
<line x1="896.6" y1="1703.74" x2="904.6" y2="1703.74" stroke="#fe0000" stroke-width="2" stroke-linecap="butt" />
<path d="M915.68 1987.6 V1700.98 H928.28 V1987.6" fill="white" stroke="#a1a1a5" stroke-width="3.2"/>
<line x1="921.98" y1="1689.8" x2="921.98" y2="1708.96" stroke="#a1a1a5" stroke-width="2" stroke-linecap="butt" />
<line x1="917.98" y1="1689.8" x2="925.98" y2="1689.8" stroke="#a1a1a5" stroke-width="2" stroke-linecap="butt" />
<line x1="917.98" y1="1708.96" x2="925.98" y2="1708.96" stroke="#a1a1a5" stroke-width="2" stroke-linecap="butt" />
<path d="M937.06 1987.6 V1701.85 H949.66 V1987.6" fill="white" stroke="#56a0f8" stroke-width="3.2"/>
<line x1="943.36" y1="1688.06" x2="943.36" y2="1712.44" stroke="#56a0f8" stroke-width="2" stroke-linecap="butt" />
<line x1="939.36" y1="1688.06" x2="947.36" y2="1688.06" stroke="#56a0f8" stroke-width="2" stroke-linecap="butt" />
<line x1="939.36" y1="1712.44" x2="947.36" y2="1712.44" stroke="#56a0f8" stroke-width="2" stroke-linecap="butt" />
<rect x="972.5" y="1789.94" width="15.8" height="197.66" fill="#000000" stroke="none" stroke-width="0"/>
<line x1="980.4" y1="1778.62" x2="980.4" y2="1801.26" stroke="#000000" stroke-width="2" stroke-linecap="butt" />
<line x1="976.4" y1="1778.62" x2="984.4" y2="1778.62" stroke="#000000" stroke-width="2" stroke-linecap="butt" />
<line x1="976.4" y1="1801.26" x2="984.4" y2="1801.26" stroke="#000000" stroke-width="2" stroke-linecap="butt" />
<rect x="993.88" y="1870.92" width="15.8" height="116.68" fill="#fe0000" stroke="none" stroke-width="0"/>
<line x1="1001.78" y1="1865.69" x2="1001.78" y2="1876.14" stroke="#000000" stroke-width="2" stroke-linecap="butt" />
<line x1="997.78" y1="1865.69" x2="1005.78" y2="1865.69" stroke="#000000" stroke-width="2" stroke-linecap="butt" />
<line x1="997.78" y1="1876.14" x2="1005.78" y2="1876.14" stroke="#000000" stroke-width="2" stroke-linecap="butt" />
<rect x="1015.26" y="1871.79" width="15.8" height="115.81" fill="#a1a1a5" stroke="none" stroke-width="0"/>
<line x1="1023.16" y1="1862.21" x2="1023.16" y2="1881.37" stroke="#000000" stroke-width="2" stroke-linecap="butt" />
<line x1="1019.16" y1="1862.21" x2="1027.16" y2="1862.21" stroke="#000000" stroke-width="2" stroke-linecap="butt" />
<line x1="1019.16" y1="1881.37" x2="1027.16" y2="1881.37" stroke="#000000" stroke-width="2" stroke-linecap="butt" />
<rect x="1036.64" y="1874.4" width="15.8" height="113.2" fill="#56a0f8" stroke="none" stroke-width="0"/>
<line x1="1044.54" y1="1866.57" x2="1044.54" y2="1882.24" stroke="#000000" stroke-width="2" stroke-linecap="butt" />
<line x1="1040.54" y1="1866.57" x2="1048.54" y2="1866.57" stroke="#000000" stroke-width="2" stroke-linecap="butt" />
<line x1="1040.54" y1="1882.24" x2="1048.54" y2="1882.24" stroke="#000000" stroke-width="2" stroke-linecap="butt" />
<path d="M1059.62 1987.6 V1705.34 H1072.22 V1987.6" fill="white" stroke="#000000" stroke-width="3.2"/>
<line x1="1065.92" y1="1687.19" x2="1065.92" y2="1720.28" stroke="#000000" stroke-width="2" stroke-linecap="butt" />
<line x1="1061.92" y1="1687.19" x2="1069.92" y2="1687.19" stroke="#000000" stroke-width="2" stroke-linecap="butt" />
<line x1="1061.92" y1="1720.28" x2="1069.92" y2="1720.28" stroke="#000000" stroke-width="2" stroke-linecap="butt" />
<path d="M1081 1987.6 V1714.91 H1093.6 V1987.6" fill="white" stroke="#fe0000" stroke-width="3.2"/>
<line x1="1087.3" y1="1697.64" x2="1087.3" y2="1728.99" stroke="#fe0000" stroke-width="2" stroke-linecap="butt" />
<line x1="1083.3" y1="1697.64" x2="1091.3" y2="1697.64" stroke="#fe0000" stroke-width="2" stroke-linecap="butt" />
<line x1="1083.3" y1="1728.99" x2="1091.3" y2="1728.99" stroke="#fe0000" stroke-width="2" stroke-linecap="butt" />
<path d="M1102.38 1987.6 V1710.56 H1114.98 V1987.6" fill="white" stroke="#a1a1a5" stroke-width="3.2"/>
<line x1="1108.68" y1="1697.64" x2="1108.68" y2="1720.28" stroke="#a1a1a5" stroke-width="2" stroke-linecap="butt" />
<line x1="1104.68" y1="1697.64" x2="1112.68" y2="1697.64" stroke="#a1a1a5" stroke-width="2" stroke-linecap="butt" />
<line x1="1104.68" y1="1720.28" x2="1112.68" y2="1720.28" stroke="#a1a1a5" stroke-width="2" stroke-linecap="butt" />
<path d="M1123.76 1987.6 V1714.04 H1136.36 V1987.6" fill="white" stroke="#56a0f8" stroke-width="3.2"/>
<line x1="1130.06" y1="1700.25" x2="1130.06" y2="1724.63" stroke="#56a0f8" stroke-width="2" stroke-linecap="butt" />
<line x1="1126.06" y1="1700.25" x2="1134.06" y2="1700.25" stroke="#56a0f8" stroke-width="2" stroke-linecap="butt" />
<line x1="1126.06" y1="1724.63" x2="1134.06" y2="1724.63" stroke="#56a0f8" stroke-width="2" stroke-linecap="butt" />
<rect x="1158.9" y="1823.03" width="15.8" height="164.57" fill="#000000" stroke="none" stroke-width="0"/>
<line x1="1166.8" y1="1815.19" x2="1166.8" y2="1830.86" stroke="#000000" stroke-width="2" stroke-linecap="butt" />
<line x1="1162.8" y1="1815.19" x2="1170.8" y2="1815.19" stroke="#000000" stroke-width="2" stroke-linecap="butt" />
<line x1="1162.8" y1="1830.86" x2="1170.8" y2="1830.86" stroke="#000000" stroke-width="2" stroke-linecap="butt" />
<rect x="1180.28" y="1921.42" width="15.8" height="66.18" fill="#fe0000" stroke="none" stroke-width="0"/>
<rect x="1201.66" y="1926.65" width="15.8" height="60.95" fill="#a1a1a5" stroke="none" stroke-width="0"/>
<line x1="1209.56" y1="1921.95" x2="1209.56" y2="1931.35" stroke="#000000" stroke-width="2" stroke-linecap="butt" />
<line x1="1205.56" y1="1921.95" x2="1213.56" y2="1921.95" stroke="#000000" stroke-width="2" stroke-linecap="butt" />
<line x1="1205.56" y1="1931.35" x2="1213.56" y2="1931.35" stroke="#000000" stroke-width="2" stroke-linecap="butt" />
<rect x="1223.04" y="1927.52" width="15.8" height="60.08" fill="#56a0f8" stroke="none" stroke-width="0"/>
<path d="M1246.02 1987.6 V1731.46 H1258.62 V1987.6" fill="white" stroke="#000000" stroke-width="3.2"/>
<line x1="1252.32" y1="1715.93" x2="1252.32" y2="1743.79" stroke="#000000" stroke-width="2" stroke-linecap="butt" />
<line x1="1248.32" y1="1715.93" x2="1256.32" y2="1715.93" stroke="#000000" stroke-width="2" stroke-linecap="butt" />
<line x1="1248.32" y1="1743.79" x2="1256.32" y2="1743.79" stroke="#000000" stroke-width="2" stroke-linecap="butt" />
<path d="M1267.4 1987.6 V1736.68 H1280 V1987.6" fill="white" stroke="#fe0000" stroke-width="3.2"/>
<line x1="1273.7" y1="1722.89" x2="1273.7" y2="1747.27" stroke="#fe0000" stroke-width="2" stroke-linecap="butt" />
<line x1="1269.7" y1="1722.89" x2="1277.7" y2="1722.89" stroke="#fe0000" stroke-width="2" stroke-linecap="butt" />
<line x1="1269.7" y1="1747.27" x2="1277.7" y2="1747.27" stroke="#fe0000" stroke-width="2" stroke-linecap="butt" />
<path d="M1288.78 1987.6 V1734.94 H1301.38 V1987.6" fill="white" stroke="#a1a1a5" stroke-width="3.2"/>
<line x1="1295.08" y1="1723.76" x2="1295.08" y2="1742.92" stroke="#a1a1a5" stroke-width="2" stroke-linecap="butt" />
<line x1="1291.08" y1="1723.76" x2="1299.08" y2="1723.76" stroke="#a1a1a5" stroke-width="2" stroke-linecap="butt" />
<line x1="1291.08" y1="1742.92" x2="1299.08" y2="1742.92" stroke="#a1a1a5" stroke-width="2" stroke-linecap="butt" />
<path d="M1310.16 1987.6 V1736.68 H1322.76 V1987.6" fill="white" stroke="#56a0f8" stroke-width="3.2"/>
<line x1="1316.46" y1="1725.5" x2="1316.46" y2="1744.66" stroke="#56a0f8" stroke-width="2" stroke-linecap="butt" />
<line x1="1312.46" y1="1725.5" x2="1320.46" y2="1725.5" stroke="#56a0f8" stroke-width="2" stroke-linecap="butt" />
<line x1="1312.46" y1="1744.66" x2="1320.46" y2="1744.66" stroke="#56a0f8" stroke-width="2" stroke-linecap="butt" />
<circle cx="795.2" cy="1711.22" r="5.65" fill="#000000"/>
<circle cx="792.2" cy="1727.94" r="5.65" fill="#000000"/>
<circle cx="793.7" cy="1734.04" r="5.65" fill="#000000"/>
<text x="792.2" y="1692.1" font-size="28" text-anchor="middle" fill="#000000" >b</text>
<rect x="810.43" y="1777.17" width="12.3" height="12.3" fill="#000000" stroke="none" stroke-width="0"/>
<rect x="807.43" y="1791.45" width="12.3" height="12.3" fill="#000000" stroke="none" stroke-width="0"/>
<rect x="808.93" y="1800.33" width="12.3" height="12.3" fill="#000000" stroke="none" stroke-width="0"/>
<rect x="809.93" y="1825.41" width="12.3" height="12.3" fill="#000000" stroke="none" stroke-width="0"/>
<rect x="807.93" y="1842.48" width="12.3" height="12.3" fill="#000000" stroke="none" stroke-width="0"/>
<rect x="808.93" y="1848.57" width="12.3" height="12.3" fill="#000000" stroke="none" stroke-width="0"/>
<text x="813.58" y="1761.8" font-size="28" text-anchor="middle" fill="#000000" >c</text>
<polygon points="837.96,1787.8 844.11,1799.17 831.81,1799.17" fill="#000000"/>
<polygon points="834.96,1793.89 841.11,1805.27 828.81,1805.27" fill="#000000"/>
<polygon points="836.46,1824.71 842.61,1836.09 830.31,1836.09" fill="#000000"/>
<polygon points="837.46,1830.81 843.61,1842.19 831.31,1842.19" fill="#000000"/>
<polygon points="835.46,1842.48 841.61,1853.86 829.31,1853.86" fill="#000000"/>
<text x="834.96" y="1764.3" font-size="28" text-anchor="middle" fill="#000000" >c</text>
<polygon points="859.34,1810.89 865.49,1799.51 853.19,1799.51" fill="#000000"/>
<polygon points="856.34,1814.38 862.49,1803 850.19,1803" fill="#000000"/>
<polygon points="857.84,1869.76 863.99,1858.38 851.69,1858.38" fill="#000000"/>
<text x="856.34" y="1766.4" font-size="28" text-anchor="middle" fill="#000000" >c</text>
<polygon points="880.72,1640.29 886.87,1646.44 880.72,1652.59 874.57,1646.44" fill="#000000"/>
<polygon points="877.72,1653.87 883.87,1660.02 877.72,1666.17 871.57,1660.02" fill="#000000"/>
<polygon points="879.22,1667.46 885.37,1673.61 879.22,1679.76 873.07,1673.61" fill="#000000"/>
<polygon points="880.22,1693.23 886.37,1699.38 880.22,1705.53 874.07,1699.38" fill="#000000"/>
<polygon points="878.22,1702.81 884.37,1708.96 878.22,1715.11 872.07,1708.96" fill="#000000"/>
<polygon points="879.22,1728.93 885.37,1735.08 879.22,1741.23 873.07,1735.08" fill="#000000"/>
<text x="877.72" y="1629.6" font-size="28" text-anchor="middle" fill="#000000" >a</text>
<circle cx="902.1" cy="1660.02" r="5" fill="none" stroke="#000000" stroke-width="3.5"/>
<circle cx="899.1" cy="1661.94" r="5" fill="none" stroke="#000000" stroke-width="3.5"/>
<circle cx="900.6" cy="1688.06" r="5" fill="none" stroke="#000000" stroke-width="3.5"/>
<circle cx="901.6" cy="1711.92" r="5" fill="none" stroke="#000000" stroke-width="3.5"/>
<circle cx="899.6" cy="1722.54" r="5" fill="none" stroke="#000000" stroke-width="3.5"/>
<text x="899.1" y="1637.9" font-size="28" text-anchor="middle" fill="#000000" >a</text>
<rect x="918.48" y="1661.47" width="10" height="10" fill="none" stroke="#000000" stroke-width="3.5"/>
<rect x="915.48" y="1690.03" width="10" height="10" fill="none" stroke="#000000" stroke-width="3.5"/>
<rect x="916.98" y="1709.36" width="10" height="10" fill="none" stroke="#000000" stroke-width="3.5"/>
<rect x="917.98" y="1714.06" width="10" height="10" fill="none" stroke="#000000" stroke-width="3.5"/>
<rect x="915.98" y="1725.73" width="10" height="10" fill="none" stroke="#000000" stroke-width="3.5"/>
<text x="920.48" y="1645" font-size="28" text-anchor="middle" fill="#000000" >a</text>
<polygon points="944.86,1654.88 949.97,1664.26 939.75,1664.26" fill="none" stroke="#000000" stroke-width="3.3" stroke-linejoin="round"/>
<polygon points="941.86,1676.3 946.97,1685.69 936.75,1685.69" fill="none" stroke="#000000" stroke-width="3.3" stroke-linejoin="round"/>
<polygon points="943.36,1691.27 948.47,1700.66 938.25,1700.66" fill="none" stroke="#000000" stroke-width="3.3" stroke-linejoin="round"/>
<polygon points="944.36,1709.21 949.47,1718.6 939.25,1718.6" fill="none" stroke="#000000" stroke-width="3.3" stroke-linejoin="round"/>
<polygon points="942.36,1714.61 947.47,1724 937.25,1724" fill="none" stroke="#000000" stroke-width="3.3" stroke-linejoin="round"/>
<polygon points="943.36,1729.59 948.47,1738.98 938.25,1738.98" fill="none" stroke="#000000" stroke-width="3.3" stroke-linejoin="round"/>
<text x="941.86" y="1645" font-size="28" text-anchor="middle" fill="#000000" >a</text>
<circle cx="981.9" cy="1757.2" r="5.65" fill="#000000"/>
<circle cx="978.9" cy="1770.09" r="5.65" fill="#000000"/>
<text x="978.9" y="1738.6" font-size="28" text-anchor="middle" fill="#000000" >b</text>
<rect x="997.13" y="1846.83" width="12.3" height="12.3" fill="#000000" stroke="none" stroke-width="0"/>
<rect x="994.13" y="1850.32" width="12.3" height="12.3" fill="#000000" stroke="none" stroke-width="0"/>
<rect x="995.63" y="1877.13" width="12.3" height="12.3" fill="#000000" stroke="none" stroke-width="0"/>
<rect x="996.63" y="1881.84" width="12.3" height="12.3" fill="#000000" stroke="none" stroke-width="0"/>
<text x="1000.28" y="1825" font-size="28" text-anchor="middle" fill="#000000" >c</text>
<polygon points="1024.66,1839.69 1030.81,1851.07 1018.51,1851.07" fill="#000000"/>
<polygon points="1021.66,1848.57 1027.81,1859.95 1015.51,1859.95" fill="#000000"/>
<polygon points="1023.16,1876.09 1029.31,1887.47 1017.01,1887.47" fill="#000000"/>
<polygon points="1024.16,1887.93 1030.31,1899.31 1018.01,1899.31" fill="#000000"/>
<polygon points="1022.16,1895.07 1028.31,1906.45 1016.01,1906.45" fill="#000000"/>
<text x="1021.66" y="1824" font-size="28" text-anchor="middle" fill="#000000" >c</text>
<polygon points="1046.04,1862.62 1052.19,1851.24 1039.89,1851.24" fill="#000000"/>
<polygon points="1043.04,1869.76 1049.19,1858.38 1036.89,1858.38" fill="#000000"/>
<polygon points="1044.54,1881.25 1050.69,1869.87 1038.39,1869.87" fill="#000000"/>
<polygon points="1045.54,1889.43 1051.69,1878.06 1039.39,1878.06" fill="#000000"/>
<polygon points="1043.54,1910.85 1049.69,1899.48 1037.39,1899.48" fill="#000000"/>
<text x="1043.04" y="1831.4" font-size="28" text-anchor="middle" fill="#000000" >c</text>
<polygon points="1067.42,1629.67 1073.57,1635.82 1067.42,1641.97 1061.27,1635.82" fill="#000000"/>
<polygon points="1064.42,1672.51 1070.57,1678.66 1064.42,1684.81 1058.27,1678.66" fill="#000000"/>
<polygon points="1065.92,1708.21 1072.07,1714.36 1065.92,1720.51 1059.77,1714.36" fill="#000000"/>
<polygon points="1066.92,1720.05 1073.07,1726.2 1066.92,1732.35 1060.77,1726.2" fill="#000000"/>
<polygon points="1064.92,1728.93 1071.07,1735.08 1064.92,1741.23 1058.77,1735.08" fill="#000000"/>
<polygon points="1065.92,1739.73 1072.07,1745.88 1065.92,1752.03 1059.77,1745.88" fill="#000000"/>
<text x="1064.42" y="1626" font-size="28" text-anchor="middle" fill="#000000" >a</text>
<circle cx="1088.8" cy="1670.12" r="5" fill="none" stroke="#000000" stroke-width="3.5"/>
<circle cx="1085.8" cy="1671.52" r="5" fill="none" stroke="#000000" stroke-width="3.5"/>
<circle cx="1087.3" cy="1712.97" r="5" fill="none" stroke="#000000" stroke-width="3.5"/>
<circle cx="1088.3" cy="1726.2" r="5" fill="none" stroke="#000000" stroke-width="3.5"/>
<circle cx="1086.3" cy="1735.78" r="5" fill="none" stroke="#000000" stroke-width="3.5"/>
<circle cx="1087.3" cy="1760.16" r="5" fill="none" stroke="#000000" stroke-width="3.5"/>
<text x="1085.8" y="1635.7" font-size="28" text-anchor="middle" fill="#000000" >a</text>
<rect x="1105.18" y="1668.61" width="10" height="10" fill="none" stroke="#000000" stroke-width="3.5"/>
<rect x="1102.18" y="1678.36" width="10" height="10" fill="none" stroke="#000000" stroke-width="3.5"/>
<rect x="1103.68" y="1692.64" width="10" height="10" fill="none" stroke="#000000" stroke-width="3.5"/>
<rect x="1104.68" y="1705" width="10" height="10" fill="none" stroke="#000000" stroke-width="3.5"/>
<rect x="1102.68" y="1745.41" width="10" height="10" fill="none" stroke="#000000" stroke-width="3.5"/>
<text x="1107.18" y="1635" font-size="28" text-anchor="middle" fill="#000000" >a</text>
<polygon points="1131.56,1670.55 1136.67,1679.94 1126.45,1679.94" fill="none" stroke="#000000" stroke-width="3.3" stroke-linejoin="round"/>
<polygon points="1128.56,1678.91 1133.67,1688.3 1123.45,1688.3" fill="none" stroke="#000000" stroke-width="3.3" stroke-linejoin="round"/>
<polygon points="1130.06,1693.19 1135.17,1702.58 1124.95,1702.58" fill="none" stroke="#000000" stroke-width="3.3" stroke-linejoin="round"/>
<polygon points="1131.06,1721.75 1136.17,1731.14 1125.95,1731.14" fill="none" stroke="#000000" stroke-width="3.3" stroke-linejoin="round"/>
<polygon points="1129.06,1743.17 1134.17,1752.56 1123.95,1752.56" fill="none" stroke="#000000" stroke-width="3.3" stroke-linejoin="round"/>
<text x="1128.56" y="1638.6" font-size="28" text-anchor="middle" fill="#000000" >a</text>
<circle cx="1168.3" cy="1795.86" r="5.65" fill="#000000"/>
<circle cx="1165.3" cy="1804.74" r="5.65" fill="#000000"/>
<circle cx="1166.8" cy="1810.14" r="5.65" fill="#000000"/>
<text x="1165.3" y="1782.1" font-size="28" text-anchor="middle" fill="#000000" >b</text>
<rect x="1183.53" y="1895.07" width="12.3" height="12.3" fill="#000000" stroke="none" stroke-width="0"/>
<rect x="1180.53" y="1911.09" width="12.3" height="12.3" fill="#000000" stroke="none" stroke-width="0"/>
<rect x="1182.03" y="1918.23" width="12.3" height="12.3" fill="#000000" stroke="none" stroke-width="0"/>
<rect x="1183.03" y="1927.12" width="12.3" height="12.3" fill="#000000" stroke="none" stroke-width="0"/>
<text x="1186.68" y="1892.1" font-size="28" text-anchor="middle" fill="#000000" >c</text>
<polygon points="1211.06,1905.69 1217.21,1917.07 1204.91,1917.07" fill="#000000"/>
<polygon points="1208.06,1914.58 1214.21,1925.95 1201.91,1925.95" fill="#000000"/>
<polygon points="1209.56,1925.37 1215.71,1936.75 1203.41,1936.75" fill="#000000"/>
<polygon points="1210.56,1934.26 1216.71,1945.63 1204.41,1945.63" fill="#000000"/>
<text x="1208.06" y="1895.7" font-size="28" text-anchor="middle" fill="#000000" >c</text>
<polygon points="1232.44,1921.65 1238.59,1910.27 1226.29,1910.27" fill="#000000"/>
<polygon points="1229.44,1930.53 1235.59,1919.16 1223.29,1919.16" fill="#000000"/>
<polygon points="1230.94,1939.42 1237.09,1928.04 1224.79,1928.04" fill="#000000"/>
<polygon points="1231.94,1946.56 1238.09,1935.18 1225.79,1935.18" fill="#000000"/>
<text x="1229.44" y="1897.5" font-size="28" text-anchor="middle" fill="#000000" >c</text>
<polygon points="1253.82,1685.05 1259.97,1691.2 1253.82,1697.35 1247.67,1691.2" fill="#000000"/>
<polygon points="1250.82,1697.59 1256.97,1703.74 1250.82,1709.89 1244.67,1703.74" fill="#000000"/>
<polygon points="1252.32,1748.61 1258.47,1754.76 1252.32,1760.91 1246.17,1754.76" fill="#000000"/>
<polygon points="1253.32,1754.01 1259.47,1760.16 1253.32,1766.31 1247.17,1760.16" fill="#000000"/>
<polygon points="1251.32,1759.23 1257.47,1765.38 1251.32,1771.53 1245.17,1765.38" fill="#000000"/>
<text x="1250.82" y="1679.6" font-size="28" text-anchor="middle" fill="#000000" >a</text>
<circle cx="1275.2" cy="1703.74" r="5" fill="none" stroke="#000000" stroke-width="3.5"/>
<circle cx="1272.2" cy="1707.22" r="5" fill="none" stroke="#000000" stroke-width="3.5"/>
<circle cx="1273.7" cy="1725.16" r="5" fill="none" stroke="#000000" stroke-width="3.5"/>
<circle cx="1274.7" cy="1733.34" r="5" fill="none" stroke="#000000" stroke-width="3.5"/>
<circle cx="1272.7" cy="1773.74" r="5" fill="none" stroke="#000000" stroke-width="3.5"/>
<circle cx="1273.7" cy="1775.14" r="5" fill="none" stroke="#000000" stroke-width="3.5"/>
<text x="1272.2" y="1686.8" font-size="28" text-anchor="middle" fill="#000000" >a</text>
<rect x="1291.58" y="1700.83" width="10" height="10" fill="none" stroke="#000000" stroke-width="3.5"/>
<rect x="1288.58" y="1705.88" width="10" height="10" fill="none" stroke="#000000" stroke-width="3.5"/>
<rect x="1290.08" y="1712.32" width="10" height="10" fill="none" stroke="#000000" stroke-width="3.5"/>
<rect x="1291.08" y="1740.01" width="10" height="10" fill="none" stroke="#000000" stroke-width="3.5"/>
<rect x="1289.08" y="1757.95" width="10" height="10" fill="none" stroke="#000000" stroke-width="3.5"/>
<text x="1293.58" y="1685" font-size="28" text-anchor="middle" fill="#000000" >a</text>
<polygon points="1317.96,1699.29 1323.07,1708.67 1312.85,1708.67" fill="none" stroke="#000000" stroke-width="3.3" stroke-linejoin="round"/>
<polygon points="1314.96,1704.86 1320.07,1714.25 1309.85,1714.25" fill="none" stroke="#000000" stroke-width="3.3" stroke-linejoin="round"/>
<polygon points="1316.46,1717.05 1321.57,1726.44 1311.35,1726.44" fill="none" stroke="#000000" stroke-width="3.3" stroke-linejoin="round"/>
<polygon points="1317.46,1746.65 1322.57,1756.04 1312.35,1756.04" fill="none" stroke="#000000" stroke-width="3.3" stroke-linejoin="round"/>
<polygon points="1315.46,1759.19 1320.57,1768.58 1310.35,1768.58" fill="none" stroke="#000000" stroke-width="3.3" stroke-linejoin="round"/>
<polygon points="1316.46,1766.33 1321.57,1775.72 1311.35,1775.72" fill="none" stroke="#000000" stroke-width="3.3" stroke-linejoin="round"/>
<text x="1314.96" y="1687.9" font-size="28" text-anchor="middle" fill="#000000" >a</text>
<line x1="780.7" y1="1620.7" x2="780.7" y2="1989.6" stroke="#000000" stroke-width="4" stroke-linecap="butt" />
<line x1="778.7" y1="1987.6" x2="1331.5" y2="1987.6" stroke="#000000" stroke-width="4" stroke-linecap="butt" />
<line x1="764.7" y1="1987.6" x2="780.7" y2="1987.6" stroke="#000000" stroke-width="3.6" stroke-linecap="butt" />
<text x="761" y="1997.54" font-size="28" text-anchor="end" fill="#000000" >0</text>
<line x1="764.7" y1="1900.52" x2="780.7" y2="1900.52" stroke="#000000" stroke-width="3.6" stroke-linecap="butt" />
<text x="761" y="1910.46" font-size="28" text-anchor="end" fill="#000000" >50</text>
<line x1="764.7" y1="1813.45" x2="780.7" y2="1813.45" stroke="#000000" stroke-width="3.6" stroke-linecap="butt" />
<text x="761" y="1823.39" font-size="28" text-anchor="end" fill="#000000" >100</text>
<line x1="764.7" y1="1726.38" x2="780.7" y2="1726.38" stroke="#000000" stroke-width="3.6" stroke-linecap="butt" />
<text x="761" y="1736.32" font-size="28" text-anchor="end" fill="#000000" >150</text>
<line x1="764.7" y1="1639.3" x2="780.7" y2="1639.3" stroke="#000000" stroke-width="3.6" stroke-linecap="butt" />
<text x="761" y="1649.24" font-size="28" text-anchor="end" fill="#000000" >200</text>
<line x1="867.9" y1="1987.6" x2="867.9" y2="2003.6" stroke="#000000" stroke-width="3.6" stroke-linecap="butt" />
<text x="866.7" y="2032" font-size="28" text-anchor="middle" fill="#000000" >6 h</text>
<line x1="1054.6" y1="1987.6" x2="1054.6" y2="2003.6" stroke="#000000" stroke-width="3.6" stroke-linecap="butt" />
<text x="1052" y="2032" font-size="28" text-anchor="middle" fill="#000000" >12 h</text>
<line x1="1241.4" y1="1987.6" x2="1241.4" y2="2003.6" stroke="#000000" stroke-width="3.6" stroke-linecap="butt" />
<text x="1236.4" y="2032" font-size="28" text-anchor="middle" fill="#000000" >24 h</text>
<text x="1336.3" y="1581.7" font-size="41" font-weight="bold" text-anchor="start" fill="#000000" >g</text>
<text x="1722.5" y="1593.3" font-size="36" font-weight="bold" text-anchor="middle" fill="#000000" >Chase period-PL</text>
<text x="1372.5" y="1800" font-size="29.3" text-anchor="middle" fill="#000000" transform="rotate(-90 1372.5 1800)" >[1-<tspan font-size="19.5" dy="-11.5">13</tspan><tspan dy="11.5" font-size="1">&#8203;</tspan>C]Oleate in PL (% of pulse)</text>
<rect x="1452.5" y="1736.86" width="15.8" height="250.74" fill="#000000" stroke="none" stroke-width="0"/>
<line x1="1460.4" y1="1713.46" x2="1460.4" y2="1760.26" stroke="#000000" stroke-width="2" stroke-linecap="butt" />
<line x1="1456.4" y1="1713.46" x2="1464.4" y2="1713.46" stroke="#000000" stroke-width="2" stroke-linecap="butt" />
<line x1="1456.4" y1="1760.26" x2="1464.4" y2="1760.26" stroke="#000000" stroke-width="2" stroke-linecap="butt" />
<rect x="1473.88" y="1735.95" width="15.8" height="251.65" fill="#fe0000" stroke="none" stroke-width="0"/>
<line x1="1481.78" y1="1712.24" x2="1481.78" y2="1759.65" stroke="#000000" stroke-width="2" stroke-linecap="butt" />
<line x1="1477.78" y1="1712.24" x2="1485.78" y2="1712.24" stroke="#000000" stroke-width="2" stroke-linecap="butt" />
<line x1="1477.78" y1="1759.65" x2="1485.78" y2="1759.65" stroke="#000000" stroke-width="2" stroke-linecap="butt" />
<rect x="1495.26" y="1741.42" width="15.8" height="246.18" fill="#a1a1a5" stroke="none" stroke-width="0"/>
<line x1="1503.16" y1="1717.1" x2="1503.16" y2="1765.73" stroke="#000000" stroke-width="2" stroke-linecap="butt" />
<line x1="1499.16" y1="1717.1" x2="1507.16" y2="1717.1" stroke="#000000" stroke-width="2" stroke-linecap="butt" />
<line x1="1499.16" y1="1765.73" x2="1507.16" y2="1765.73" stroke="#000000" stroke-width="2" stroke-linecap="butt" />
<rect x="1516.64" y="1735.34" width="15.8" height="252.26" fill="#56a0f8" stroke="none" stroke-width="0"/>
<line x1="1524.54" y1="1712.54" x2="1524.54" y2="1758.13" stroke="#000000" stroke-width="2" stroke-linecap="butt" />
<line x1="1520.54" y1="1712.54" x2="1528.54" y2="1712.54" stroke="#000000" stroke-width="2" stroke-linecap="butt" />
<line x1="1520.54" y1="1758.13" x2="1528.54" y2="1758.13" stroke="#000000" stroke-width="2" stroke-linecap="butt" />
<path d="M1539.62 1987.6 V1746.06 H1552.22 V1987.6" fill="white" stroke="#000000" stroke-width="3.2"/>
<line x1="1545.92" y1="1719.23" x2="1545.92" y2="1769.68" stroke="#000000" stroke-width="2" stroke-linecap="butt" />
<line x1="1541.92" y1="1719.23" x2="1549.92" y2="1719.23" stroke="#000000" stroke-width="2" stroke-linecap="butt" />
<line x1="1541.92" y1="1769.68" x2="1549.92" y2="1769.68" stroke="#000000" stroke-width="2" stroke-linecap="butt" />
<path d="M1561 1987.6 V1741.5 H1573.6 V1987.6" fill="white" stroke="#fe0000" stroke-width="3.2"/>
<line x1="1567.3" y1="1715.58" x2="1567.3" y2="1764.21" stroke="#fe0000" stroke-width="2" stroke-linecap="butt" />
<line x1="1563.3" y1="1715.58" x2="1571.3" y2="1715.58" stroke="#fe0000" stroke-width="2" stroke-linecap="butt" />
<line x1="1563.3" y1="1764.21" x2="1571.3" y2="1764.21" stroke="#fe0000" stroke-width="2" stroke-linecap="butt" />
<path d="M1582.38 1987.6 V1744.54 H1594.98 V1987.6" fill="white" stroke="#a1a1a5" stroke-width="3.2"/>
<line x1="1588.68" y1="1718.62" x2="1588.68" y2="1767.25" stroke="#a1a1a5" stroke-width="2" stroke-linecap="butt" />
<line x1="1584.68" y1="1718.62" x2="1592.68" y2="1718.62" stroke="#a1a1a5" stroke-width="2" stroke-linecap="butt" />
<line x1="1584.68" y1="1767.25" x2="1592.68" y2="1767.25" stroke="#a1a1a5" stroke-width="2" stroke-linecap="butt" />
<path d="M1603.76 1987.6 V1732.38 H1616.36 V1987.6" fill="white" stroke="#56a0f8" stroke-width="3.2"/>
<line x1="1610.06" y1="1706.46" x2="1610.06" y2="1755.09" stroke="#56a0f8" stroke-width="2" stroke-linecap="butt" />
<line x1="1606.06" y1="1706.46" x2="1614.06" y2="1706.46" stroke="#56a0f8" stroke-width="2" stroke-linecap="butt" />
<line x1="1606.06" y1="1755.09" x2="1614.06" y2="1755.09" stroke="#56a0f8" stroke-width="2" stroke-linecap="butt" />
<rect x="1639.3" y="1741.42" width="15.8" height="246.18" fill="#000000" stroke="none" stroke-width="0"/>
<line x1="1647.2" y1="1714.97" x2="1647.2" y2="1767.86" stroke="#000000" stroke-width="2" stroke-linecap="butt" />
<line x1="1643.2" y1="1714.97" x2="1651.2" y2="1714.97" stroke="#000000" stroke-width="2" stroke-linecap="butt" />
<line x1="1643.2" y1="1767.86" x2="1651.2" y2="1767.86" stroke="#000000" stroke-width="2" stroke-linecap="butt" />
<rect x="1660.68" y="1733.82" width="15.8" height="253.78" fill="#fe0000" stroke="none" stroke-width="0"/>
<line x1="1668.58" y1="1710.11" x2="1668.58" y2="1757.52" stroke="#000000" stroke-width="2" stroke-linecap="butt" />
<line x1="1664.58" y1="1710.11" x2="1672.58" y2="1710.11" stroke="#000000" stroke-width="2" stroke-linecap="butt" />
<line x1="1664.58" y1="1757.52" x2="1672.58" y2="1757.52" stroke="#000000" stroke-width="2" stroke-linecap="butt" />
<rect x="1682.06" y="1750.53" width="15.8" height="237.07" fill="#a1a1a5" stroke="none" stroke-width="0"/>
<line x1="1689.96" y1="1726.83" x2="1689.96" y2="1774.24" stroke="#000000" stroke-width="2" stroke-linecap="butt" />
<line x1="1685.96" y1="1726.83" x2="1693.96" y2="1726.83" stroke="#000000" stroke-width="2" stroke-linecap="butt" />
<line x1="1685.96" y1="1774.24" x2="1693.96" y2="1774.24" stroke="#000000" stroke-width="2" stroke-linecap="butt" />
<rect x="1703.44" y="1751.14" width="15.8" height="236.46" fill="#56a0f8" stroke="none" stroke-width="0"/>
<line x1="1711.34" y1="1722.27" x2="1711.34" y2="1780.02" stroke="#000000" stroke-width="2" stroke-linecap="butt" />
<line x1="1707.34" y1="1722.27" x2="1715.34" y2="1722.27" stroke="#000000" stroke-width="2" stroke-linecap="butt" />
<line x1="1707.34" y1="1780.02" x2="1715.34" y2="1780.02" stroke="#000000" stroke-width="2" stroke-linecap="butt" />
<path d="M1726.42 1987.6 V1744.54 H1739.02 V1987.6" fill="white" stroke="#000000" stroke-width="3.2"/>
<line x1="1732.72" y1="1718.01" x2="1732.72" y2="1767.86" stroke="#000000" stroke-width="2" stroke-linecap="butt" />
<line x1="1728.72" y1="1718.01" x2="1736.72" y2="1718.01" stroke="#000000" stroke-width="2" stroke-linecap="butt" />
<line x1="1728.72" y1="1767.86" x2="1736.72" y2="1767.86" stroke="#000000" stroke-width="2" stroke-linecap="butt" />
<path d="M1747.8 1987.6 V1731.77 H1760.4 V1987.6" fill="white" stroke="#fe0000" stroke-width="3.2"/>
<line x1="1754.1" y1="1704.34" x2="1754.1" y2="1756.01" stroke="#fe0000" stroke-width="2" stroke-linecap="butt" />
<line x1="1750.1" y1="1704.34" x2="1758.1" y2="1704.34" stroke="#fe0000" stroke-width="2" stroke-linecap="butt" />
<line x1="1750.1" y1="1756.01" x2="1758.1" y2="1756.01" stroke="#fe0000" stroke-width="2" stroke-linecap="butt" />
<path d="M1769.18 1987.6 V1738.46 H1781.78 V1987.6" fill="white" stroke="#a1a1a5" stroke-width="3.2"/>
<line x1="1775.48" y1="1712.54" x2="1775.48" y2="1761.17" stroke="#a1a1a5" stroke-width="2" stroke-linecap="butt" />
<line x1="1771.48" y1="1712.54" x2="1779.48" y2="1712.54" stroke="#a1a1a5" stroke-width="2" stroke-linecap="butt" />
<line x1="1771.48" y1="1761.17" x2="1779.48" y2="1761.17" stroke="#a1a1a5" stroke-width="2" stroke-linecap="butt" />
<path d="M1790.56 1987.6 V1747.58 H1803.16 V1987.6" fill="white" stroke="#56a0f8" stroke-width="3.2"/>
<line x1="1796.86" y1="1721.66" x2="1796.86" y2="1770.29" stroke="#56a0f8" stroke-width="2" stroke-linecap="butt" />
<line x1="1792.86" y1="1721.66" x2="1800.86" y2="1721.66" stroke="#56a0f8" stroke-width="2" stroke-linecap="butt" />
<line x1="1792.86" y1="1770.29" x2="1800.86" y2="1770.29" stroke="#56a0f8" stroke-width="2" stroke-linecap="butt" />
<rect x="1825.7" y="1746.58" width="15.8" height="241.02" fill="#000000" stroke="none" stroke-width="0"/>
<line x1="1833.6" y1="1720.75" x2="1833.6" y2="1772.42" stroke="#000000" stroke-width="2" stroke-linecap="butt" />
<line x1="1829.6" y1="1720.75" x2="1837.6" y2="1720.75" stroke="#000000" stroke-width="2" stroke-linecap="butt" />
<line x1="1829.6" y1="1772.42" x2="1837.6" y2="1772.42" stroke="#000000" stroke-width="2" stroke-linecap="butt" />
<rect x="1847.08" y="1741.42" width="15.8" height="246.18" fill="#fe0000" stroke="none" stroke-width="0"/>
<line x1="1854.98" y1="1721.66" x2="1854.98" y2="1761.17" stroke="#000000" stroke-width="2" stroke-linecap="butt" />
<line x1="1850.98" y1="1721.66" x2="1858.98" y2="1721.66" stroke="#000000" stroke-width="2" stroke-linecap="butt" />
<line x1="1850.98" y1="1761.17" x2="1858.98" y2="1761.17" stroke="#000000" stroke-width="2" stroke-linecap="butt" />
<rect x="1868.46" y="1745.98" width="15.8" height="241.62" fill="#a1a1a5" stroke="none" stroke-width="0"/>
<line x1="1876.36" y1="1722.27" x2="1876.36" y2="1769.68" stroke="#000000" stroke-width="2" stroke-linecap="butt" />
<line x1="1872.36" y1="1722.27" x2="1880.36" y2="1722.27" stroke="#000000" stroke-width="2" stroke-linecap="butt" />
<line x1="1872.36" y1="1769.68" x2="1880.36" y2="1769.68" stroke="#000000" stroke-width="2" stroke-linecap="butt" />
<rect x="1889.84" y="1745.37" width="15.8" height="242.23" fill="#56a0f8" stroke="none" stroke-width="0"/>
<line x1="1897.74" y1="1721.05" x2="1897.74" y2="1769.68" stroke="#000000" stroke-width="2" stroke-linecap="butt" />
<line x1="1893.74" y1="1721.05" x2="1901.74" y2="1721.05" stroke="#000000" stroke-width="2" stroke-linecap="butt" />
<line x1="1893.74" y1="1769.68" x2="1901.74" y2="1769.68" stroke="#000000" stroke-width="2" stroke-linecap="butt" />
<path d="M1912.82 1987.6 V1752.13 H1925.42 V1987.6" fill="white" stroke="#000000" stroke-width="3.2"/>
<line x1="1919.12" y1="1725.31" x2="1919.12" y2="1775.76" stroke="#000000" stroke-width="2" stroke-linecap="butt" />
<line x1="1915.12" y1="1725.31" x2="1923.12" y2="1725.31" stroke="#000000" stroke-width="2" stroke-linecap="butt" />
<line x1="1915.12" y1="1775.76" x2="1923.12" y2="1775.76" stroke="#000000" stroke-width="2" stroke-linecap="butt" />
<path d="M1934.2 1987.6 V1729.95 H1946.8 V1987.6" fill="white" stroke="#fe0000" stroke-width="3.2"/>
<line x1="1940.5" y1="1704.03" x2="1940.5" y2="1752.66" stroke="#fe0000" stroke-width="2" stroke-linecap="butt" />
<line x1="1936.5" y1="1704.03" x2="1944.5" y2="1704.03" stroke="#fe0000" stroke-width="2" stroke-linecap="butt" />
<line x1="1936.5" y1="1752.66" x2="1944.5" y2="1752.66" stroke="#fe0000" stroke-width="2" stroke-linecap="butt" />
<path d="M1955.58 1987.6 V1733.9 H1968.18 V1987.6" fill="white" stroke="#a1a1a5" stroke-width="3.2"/>
<line x1="1961.88" y1="1706.46" x2="1961.88" y2="1758.13" stroke="#a1a1a5" stroke-width="2" stroke-linecap="butt" />
<line x1="1957.88" y1="1706.46" x2="1965.88" y2="1706.46" stroke="#a1a1a5" stroke-width="2" stroke-linecap="butt" />
<line x1="1957.88" y1="1758.13" x2="1965.88" y2="1758.13" stroke="#a1a1a5" stroke-width="2" stroke-linecap="butt" />
<path d="M1976.96 1987.6 V1749.1 H1989.56 V1987.6" fill="white" stroke="#56a0f8" stroke-width="3.2"/>
<line x1="1983.26" y1="1723.18" x2="1983.26" y2="1771.81" stroke="#56a0f8" stroke-width="2" stroke-linecap="butt" />
<line x1="1979.26" y1="1723.18" x2="1987.26" y2="1723.18" stroke="#56a0f8" stroke-width="2" stroke-linecap="butt" />
<line x1="1979.26" y1="1771.81" x2="1987.26" y2="1771.81" stroke="#56a0f8" stroke-width="2" stroke-linecap="butt" />
<circle cx="1461.4" cy="1670.9" r="5.65" fill="#000000"/>
<circle cx="1459.4" cy="1683.97" r="5.65" fill="#000000"/>
<circle cx="1460.9" cy="1704.03" r="5.65" fill="#000000"/>
<text x="1458.9" y="1643.9" font-size="28" text-anchor="middle" fill="#000000" >a</text>
<rect x="1476.63" y="1662.02" width="12.3" height="12.3" fill="#000000" stroke="none" stroke-width="0"/>
<rect x="1474.63" y="1672.66" width="12.3" height="12.3" fill="#000000" stroke="none" stroke-width="0"/>
<rect x="1476.13" y="1699.4" width="12.3" height="12.3" fill="#000000" stroke="none" stroke-width="0"/>
<rect x="1475.13" y="1765.36" width="12.3" height="12.3" fill="#000000" stroke="none" stroke-width="0"/>
<rect x="1475.63" y="1786.02" width="12.3" height="12.3" fill="#000000" stroke="none" stroke-width="0"/>
<rect x="1475.63" y="1793.93" width="12.3" height="12.3" fill="#000000" stroke="none" stroke-width="0"/>
<text x="1480.28" y="1642.9" font-size="28" text-anchor="middle" fill="#000000" >a</text>
<polygon points="1504.16,1664.75 1510.31,1676.13 1498.01,1676.13" fill="#000000"/>
<polygon points="1502.16,1748.64 1508.31,1760.02 1496.01,1760.02" fill="#000000"/>
<polygon points="1503.66,1753.81 1509.81,1765.18 1497.51,1765.18" fill="#000000"/>
<polygon points="1502.66,1779.64 1508.81,1791.02 1496.51,1791.02" fill="#000000"/>
<polygon points="1503.16,1802.74 1509.31,1814.12 1497.01,1814.12" fill="#000000"/>
<text x="1501.66" y="1649.3" font-size="28" text-anchor="middle" fill="#000000" >a</text>
<polygon points="1525.54,1670.98 1531.69,1659.6 1519.39,1659.6" fill="#000000"/>
<polygon points="1523.54,1683.44 1529.69,1672.06 1517.39,1672.06" fill="#000000"/>
<polygon points="1525.04,1719 1531.19,1707.62 1518.89,1707.62" fill="#000000"/>
<polygon points="1524.04,1760.94 1530.19,1749.56 1517.89,1749.56" fill="#000000"/>
<polygon points="1524.54,1793.16 1530.69,1781.78 1518.39,1781.78" fill="#000000"/>
<polygon points="1524.54,1815.65 1530.69,1804.27 1518.39,1804.27" fill="#000000"/>
<text x="1523.04" y="1642.1" font-size="28" text-anchor="middle" fill="#000000" >a</text>
<polygon points="1546.92,1658.68 1553.07,1664.83 1546.92,1670.98 1540.77,1664.83" fill="#000000"/>
<polygon points="1544.92,1687.85 1551.07,1694 1544.92,1700.15 1538.77,1694" fill="#000000"/>
<polygon points="1546.42,1718.85 1552.57,1725 1546.42,1731.15 1540.27,1725" fill="#000000"/>
<polygon points="1545.42,1756.85 1551.57,1763 1545.42,1769.15 1539.27,1763" fill="#000000"/>
<polygon points="1545.92,1785.42 1552.07,1791.57 1545.92,1797.72 1539.77,1791.57" fill="#000000"/>
<polygon points="1545.92,1818.85 1552.07,1825 1545.92,1831.15 1539.77,1825" fill="#000000"/>
<text x="1544.42" y="1651" font-size="28" text-anchor="middle" fill="#000000" >a</text>
<circle cx="1568.3" cy="1665.43" r="5" fill="none" stroke="#000000" stroke-width="3.5"/>
<circle cx="1566.3" cy="1685.19" r="5" fill="none" stroke="#000000" stroke-width="3.5"/>
<circle cx="1567.8" cy="1733.21" r="5" fill="none" stroke="#000000" stroke-width="3.5"/>
<circle cx="1566.8" cy="1744.15" r="5" fill="none" stroke="#000000" stroke-width="3.5"/>
<circle cx="1567.3" cy="1797.04" r="5" fill="none" stroke="#000000" stroke-width="3.5"/>
<circle cx="1567.3" cy="1816.49" r="5" fill="none" stroke="#000000" stroke-width="3.5"/>
<text x="1565.8" y="1648.6" font-size="28" text-anchor="middle" fill="#000000" >a</text>
<rect x="1584.68" y="1662.26" width="10" height="10" fill="none" stroke="#000000" stroke-width="3.5"/>
<rect x="1582.68" y="1671.07" width="10" height="10" fill="none" stroke="#000000" stroke-width="3.5"/>
<rect x="1584.18" y="1721.22" width="10" height="10" fill="none" stroke="#000000" stroke-width="3.5"/>
<rect x="1583.18" y="1780.79" width="10" height="10" fill="none" stroke="#000000" stroke-width="3.5"/>
<rect x="1583.68" y="1787.17" width="10" height="10" fill="none" stroke="#000000" stroke-width="3.5"/>
<rect x="1583.68" y="1796.9" width="10" height="10" fill="none" stroke="#000000" stroke-width="3.5"/>
<text x="1587.18" y="1649.3" font-size="28" text-anchor="middle" fill="#000000" >a</text>
<polygon points="1611.06,1663.72 1616.17,1673.11 1605.95,1673.11" fill="none" stroke="#000000" stroke-width="3.3" stroke-linejoin="round"/>
<polygon points="1609.06,1677.09 1614.17,1686.48 1603.95,1686.48" fill="none" stroke="#000000" stroke-width="3.3" stroke-linejoin="round"/>
<polygon points="1610.56,1687.12 1615.67,1696.51 1605.45,1696.51" fill="none" stroke="#000000" stroke-width="3.3" stroke-linejoin="round"/>
<polygon points="1609.56,1749.43 1614.67,1758.82 1604.45,1758.82" fill="none" stroke="#000000" stroke-width="3.3" stroke-linejoin="round"/>
<polygon points="1610.06,1769.79 1615.17,1779.18 1604.95,1779.18" fill="none" stroke="#000000" stroke-width="3.3" stroke-linejoin="round"/>
<polygon points="1610.06,1812.65 1615.17,1822.03 1604.95,1822.03" fill="none" stroke="#000000" stroke-width="3.3" stroke-linejoin="round"/>
<text x="1608.56" y="1635" font-size="28" text-anchor="middle" fill="#000000" >a</text>
<circle cx="1648.2" cy="1673.64" r="5.65" fill="#000000"/>
<circle cx="1646.2" cy="1676.07" r="5.65" fill="#000000"/>
<circle cx="1647.7" cy="1702.82" r="5.65" fill="#000000"/>
<text x="1645.7" y="1645.7" font-size="28" text-anchor="middle" fill="#000000" >a</text>
<rect x="1663.43" y="1655.64" width="12.3" height="12.3" fill="#000000" stroke="none" stroke-width="0"/>
<rect x="1661.43" y="1677.82" width="12.3" height="12.3" fill="#000000" stroke="none" stroke-width="0"/>
<rect x="1662.93" y="1695.15" width="12.3" height="12.3" fill="#000000" stroke="none" stroke-width="0"/>
<rect x="1661.93" y="1757.45" width="12.3" height="12.3" fill="#000000" stroke="none" stroke-width="0"/>
<rect x="1662.43" y="1780.86" width="12.3" height="12.3" fill="#000000" stroke="none" stroke-width="0"/>
<rect x="1662.43" y="1800.31" width="12.3" height="12.3" fill="#000000" stroke="none" stroke-width="0"/>
<text x="1667.08" y="1639.3" font-size="28" text-anchor="middle" fill="#000000" >a</text>
<polygon points="1690.96,1673.57 1697.11,1684.95 1684.81,1684.95" fill="#000000"/>
<polygon points="1688.96,1740.43 1695.11,1751.81 1682.81,1751.81" fill="#000000"/>
<polygon points="1690.46,1775.99 1696.61,1787.37 1684.31,1787.37" fill="#000000"/>
<polygon points="1689.46,1793.93 1695.61,1805.3 1683.31,1805.3" fill="#000000"/>
<polygon points="1689.96,1805.17 1696.11,1816.55 1683.81,1816.55" fill="#000000"/>
<text x="1688.46" y="1660" font-size="28" text-anchor="middle" fill="#000000" >a</text>
<polygon points="1712.34,1678.88 1718.49,1667.5 1706.19,1667.5" fill="#000000"/>
<polygon points="1710.34,1691.95 1716.49,1680.57 1704.19,1680.57" fill="#000000"/>
<polygon points="1711.84,1726.9 1717.99,1715.52 1705.69,1715.52" fill="#000000"/>
<polygon points="1710.84,1801.97 1716.99,1790.59 1704.69,1790.59" fill="#000000"/>
<polygon points="1711.34,1812.61 1717.49,1801.23 1705.19,1801.23" fill="#000000"/>
<polygon points="1711.34,1818.69 1717.49,1807.31 1705.19,1807.31" fill="#000000"/>
<text x="1709.84" y="1658.2" font-size="28" text-anchor="middle" fill="#000000" >a</text>
<polygon points="1733.72,1663.84 1739.87,1669.99 1733.72,1676.14 1727.57,1669.99" fill="#000000"/>
<polygon points="1731.72,1690.29 1737.87,1696.44 1731.72,1702.59 1725.57,1696.44" fill="#000000"/>
<polygon points="1733.22,1698.49 1739.37,1704.64 1733.22,1710.79 1727.07,1704.64" fill="#000000"/>
<polygon points="1732.22,1759.28 1738.37,1765.43 1732.22,1771.58 1726.07,1765.43" fill="#000000"/>
<polygon points="1732.72,1797.88 1738.87,1804.03 1732.72,1810.18 1726.57,1804.03" fill="#000000"/>
<polygon points="1732.72,1808.21 1738.87,1814.36 1732.72,1820.51 1726.57,1814.36" fill="#000000"/>
<text x="1731.22" y="1651" font-size="28" text-anchor="middle" fill="#000000" >a</text>
<circle cx="1755.1" cy="1661.79" r="5" fill="none" stroke="#000000" stroke-width="3.5"/>
<circle cx="1753.1" cy="1677.29" r="5" fill="none" stroke="#000000" stroke-width="3.5"/>
<circle cx="1754.6" cy="1694" r="5" fill="none" stroke="#000000" stroke-width="3.5"/>
<circle cx="1753.6" cy="1755.7" r="5" fill="none" stroke="#000000" stroke-width="3.5"/>
<circle cx="1754.1" cy="1769.07" r="5" fill="none" stroke="#000000" stroke-width="3.5"/>
<circle cx="1754.1" cy="1819.83" r="5" fill="none" stroke="#000000" stroke-width="3.5"/>
<text x="1752.6" y="1635" font-size="28" text-anchor="middle" fill="#000000" >a</text>
<rect x="1771.48" y="1660.43" width="10" height="10" fill="none" stroke="#000000" stroke-width="3.5"/>
<rect x="1769.48" y="1669.25" width="10" height="10" fill="none" stroke="#000000" stroke-width="3.5"/>
<rect x="1770.98" y="1724.87" width="10" height="10" fill="none" stroke="#000000" stroke-width="3.5"/>
<rect x="1769.98" y="1758" width="10" height="10" fill="none" stroke="#000000" stroke-width="3.5"/>
<rect x="1770.48" y="1770.46" width="10" height="10" fill="none" stroke="#000000" stroke-width="3.5"/>
<rect x="1770.48" y="1806.32" width="10" height="10" fill="none" stroke="#000000" stroke-width="3.5"/>
<text x="1773.98" y="1645" font-size="28" text-anchor="middle" fill="#000000" >a</text>
<polygon points="1797.86,1663.72 1802.97,1673.11 1792.75,1673.11" fill="none" stroke="#000000" stroke-width="3.3" stroke-linejoin="round"/>
<polygon points="1795.86,1678.92 1800.97,1688.3 1790.75,1688.3" fill="none" stroke="#000000" stroke-width="3.3" stroke-linejoin="round"/>
<polygon points="1797.36,1760.07 1802.47,1769.45 1792.25,1769.45" fill="none" stroke="#000000" stroke-width="3.3" stroke-linejoin="round"/>
<polygon points="1796.36,1766.45 1801.47,1775.84 1791.25,1775.84" fill="none" stroke="#000000" stroke-width="3.3" stroke-linejoin="round"/>
<polygon points="1796.86,1772.83 1801.97,1782.22 1791.75,1782.22" fill="none" stroke="#000000" stroke-width="3.3" stroke-linejoin="round"/>
<polygon points="1796.86,1811.13 1801.97,1820.51 1791.75,1820.51" fill="none" stroke="#000000" stroke-width="3.3" stroke-linejoin="round"/>
<text x="1795.36" y="1653.6" font-size="28" text-anchor="middle" fill="#000000" >a</text>
<circle cx="1834.6" cy="1673.64" r="5.65" fill="#000000"/>
<circle cx="1832.6" cy="1674.55" r="5.65" fill="#000000"/>
<circle cx="1834.1" cy="1738.68" r="5.65" fill="#000000"/>
<text x="1832.1" y="1625" font-size="28" text-anchor="middle" fill="#000000" >a</text>
<rect x="1849.83" y="1630.11" width="12.3" height="12.3" fill="#000000" stroke="none" stroke-width="0"/>
<rect x="1847.83" y="1710.95" width="12.3" height="12.3" fill="#000000" stroke="none" stroke-width="0"/>
<rect x="1849.33" y="1746.82" width="12.3" height="12.3" fill="#000000" stroke="none" stroke-width="0"/>
<rect x="1848.33" y="1755.63" width="12.3" height="12.3" fill="#000000" stroke="none" stroke-width="0"/>
<rect x="1848.83" y="1766.57" width="12.3" height="12.3" fill="#000000" stroke="none" stroke-width="0"/>
<rect x="1848.83" y="1806.69" width="12.3" height="12.3" fill="#000000" stroke="none" stroke-width="0"/>
<text x="1853.48" y="1620" font-size="28" text-anchor="middle" fill="#000000" >a</text>
<polygon points="1877.36,1674.78 1883.51,1686.16 1871.21,1686.16" fill="#000000"/>
<polygon points="1875.36,1725.24 1881.51,1736.61 1869.21,1736.61" fill="#000000"/>
<polygon points="1876.86,1767.48 1883.01,1778.86 1870.71,1778.86" fill="#000000"/>
<polygon points="1875.86,1798.48 1882.01,1809.86 1869.71,1809.86" fill="#000000"/>
<text x="1874.86" y="1626" font-size="28" text-anchor="middle" fill="#000000" >a</text>
<polygon points="1898.74,1660.03 1904.89,1648.66 1892.59,1648.66" fill="#000000"/>
<polygon points="1896.74,1691.34 1902.89,1679.96 1890.59,1679.96" fill="#000000"/>
<polygon points="1898.24,1775.22 1904.39,1763.85 1892.09,1763.85" fill="#000000"/>
<polygon points="1897.24,1784.04 1903.39,1772.66 1891.09,1772.66" fill="#000000"/>
<polygon points="1897.74,1790.42 1903.89,1779.04 1891.59,1779.04" fill="#000000"/>
<polygon points="1897.74,1803.79 1903.89,1792.42 1891.59,1792.42" fill="#000000"/>
<text x="1896.24" y="1624.3" font-size="28" text-anchor="middle" fill="#000000" >a</text>
<polygon points="1920.12,1660.5 1926.27,1666.65 1920.12,1672.8 1913.97,1666.65" fill="#000000"/>
<polygon points="1918.12,1679.65 1924.27,1685.8 1918.12,1691.95 1911.97,1685.8" fill="#000000"/>
<polygon points="1919.62,1739.52 1925.77,1745.67 1919.62,1751.82 1913.47,1745.67" fill="#000000"/>
<polygon points="1918.62,1772.65 1924.77,1778.8 1918.62,1784.95 1912.47,1778.8" fill="#000000"/>
<polygon points="1919.12,1800.31 1925.27,1806.46 1919.12,1812.61 1912.97,1806.46" fill="#000000"/>
<polygon points="1919.12,1805.78 1925.27,1811.93 1919.12,1818.08 1912.97,1811.93" fill="#000000"/>
<text x="1917.62" y="1629.6" font-size="28" text-anchor="middle" fill="#000000" >a</text>
<circle cx="1941.5" cy="1660.88" r="5" fill="none" stroke="#000000" stroke-width="3.5"/>
<circle cx="1939.5" cy="1684.28" r="5" fill="none" stroke="#000000" stroke-width="3.5"/>
<circle cx="1941" cy="1701.91" r="5" fill="none" stroke="#000000" stroke-width="3.5"/>
<circle cx="1940" cy="1724.4" r="5" fill="none" stroke="#000000" stroke-width="3.5"/>
<circle cx="1940.5" cy="1793.08" r="5" fill="none" stroke="#000000" stroke-width="3.5"/>
<circle cx="1940.5" cy="1805.55" r="5" fill="none" stroke="#000000" stroke-width="3.5"/>
<text x="1939" y="1606.4" font-size="28" text-anchor="middle" fill="#000000" >a</text>
<rect x="1957.88" y="1658" width="10" height="10" fill="none" stroke="#000000" stroke-width="3.5"/>
<rect x="1955.88" y="1672.9" width="10" height="10" fill="none" stroke="#000000" stroke-width="3.5"/>
<rect x="1957.38" y="1692.65" width="10" height="10" fill="none" stroke="#000000" stroke-width="3.5"/>
<rect x="1956.38" y="1744.32" width="10" height="10" fill="none" stroke="#000000" stroke-width="3.5"/>
<rect x="1956.88" y="1789" width="10" height="10" fill="none" stroke="#000000" stroke-width="3.5"/>
<rect x="1956.88" y="1797.81" width="10" height="10" fill="none" stroke="#000000" stroke-width="3.5"/>
<text x="1960.38" y="1610" font-size="28" text-anchor="middle" fill="#000000" >a</text>
<polygon points="1984.26,1656.43 1989.37,1665.81 1979.15,1665.81" fill="none" stroke="#000000" stroke-width="3.3" stroke-linejoin="round"/>
<polygon points="1982.26,1691.99 1987.37,1701.37 1977.15,1701.37" fill="none" stroke="#000000" stroke-width="3.3" stroke-linejoin="round"/>
<polygon points="1983.76,1728.76 1988.87,1738.15 1978.65,1738.15" fill="none" stroke="#000000" stroke-width="3.3" stroke-linejoin="round"/>
<polygon points="1982.76,1778.91 1987.87,1788.3 1977.65,1788.3" fill="none" stroke="#000000" stroke-width="3.3" stroke-linejoin="round"/>
<polygon points="1983.26,1795.63 1988.37,1805.01 1978.15,1805.01" fill="none" stroke="#000000" stroke-width="3.3" stroke-linejoin="round"/>
<polygon points="1983.26,1803.83 1988.37,1813.22 1978.15,1813.22" fill="none" stroke="#000000" stroke-width="3.3" stroke-linejoin="round"/>
<text x="1981.76" y="1626" font-size="28" text-anchor="middle" fill="#000000" >a</text>
<line x1="1447.9" y1="1621.1" x2="1447.9" y2="1989.6" stroke="#000000" stroke-width="4" stroke-linecap="butt" />
<line x1="1445.9" y1="1987.6" x2="1999" y2="1987.6" stroke="#000000" stroke-width="4" stroke-linecap="butt" />
<line x1="1431.9" y1="1987.6" x2="1447.9" y2="1987.6" stroke="#000000" stroke-width="3.6" stroke-linecap="butt" />
<text x="1428" y="1997.54" font-size="28" text-anchor="end" fill="#000000" >0</text>
<line x1="1431.9" y1="1926.81" x2="1447.9" y2="1926.81" stroke="#000000" stroke-width="3.6" stroke-linecap="butt" />
<text x="1428" y="1936.75" font-size="28" text-anchor="end" fill="#000000" >20</text>
<line x1="1431.9" y1="1866.03" x2="1447.9" y2="1866.03" stroke="#000000" stroke-width="3.6" stroke-linecap="butt" />
<text x="1428" y="1875.97" font-size="28" text-anchor="end" fill="#000000" >40</text>
<line x1="1431.9" y1="1805.24" x2="1447.9" y2="1805.24" stroke="#000000" stroke-width="3.6" stroke-linecap="butt" />
<text x="1428" y="1815.18" font-size="28" text-anchor="end" fill="#000000" >60</text>
<line x1="1431.9" y1="1744.46" x2="1447.9" y2="1744.46" stroke="#000000" stroke-width="3.6" stroke-linecap="butt" />
<text x="1428" y="1754.4" font-size="28" text-anchor="end" fill="#000000" >80</text>
<line x1="1431.9" y1="1683.67" x2="1447.9" y2="1683.67" stroke="#000000" stroke-width="3.6" stroke-linecap="butt" />
<text x="1428" y="1693.61" font-size="28" text-anchor="end" fill="#000000" >100</text>
<line x1="1431.9" y1="1622.88" x2="1447.9" y2="1622.88" stroke="#000000" stroke-width="3.6" stroke-linecap="butt" />
<text x="1428" y="1632.82" font-size="28" text-anchor="end" fill="#000000" >120</text>
<line x1="1534.3" y1="1987.6" x2="1534.3" y2="2003.6" stroke="#000000" stroke-width="3.6" stroke-linecap="butt" />
<text x="1532.2" y="2032" font-size="28" text-anchor="middle" fill="#000000" >6 h</text>
<line x1="1721.4" y1="1987.6" x2="1721.4" y2="2003.6" stroke="#000000" stroke-width="3.6" stroke-linecap="butt" />
<text x="1717.3" y="2032" font-size="28" text-anchor="middle" fill="#000000" >12 h</text>
<line x1="1908.2" y1="1987.6" x2="1908.2" y2="2003.6" stroke="#000000" stroke-width="3.6" stroke-linecap="butt" />
<text x="1901" y="2032" font-size="28" text-anchor="middle" fill="#000000" >24 h</text>
</svg>
</body></html>
